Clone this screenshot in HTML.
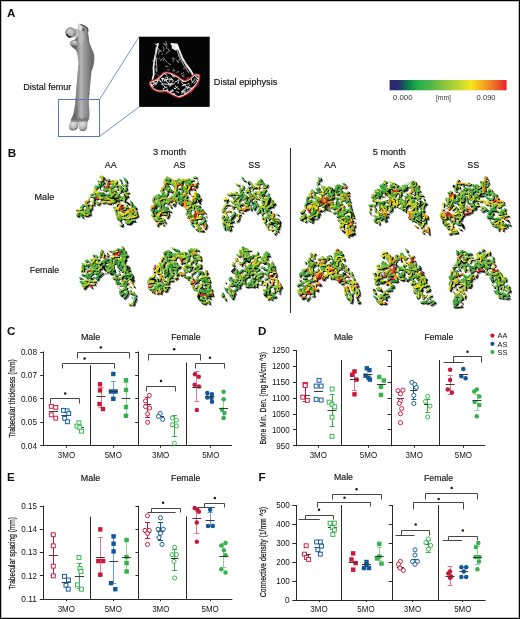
<!DOCTYPE html>
<html><head><meta charset="utf-8"><style>
html,body{margin:0;padding:0;background:#fff;}
body{width:520px;height:619px;overflow:hidden;position:relative;}
#frame{position:absolute;left:0;top:0;width:520px;height:619px;box-sizing:border-box;border:1px solid #000;box-shadow:inset 0 0 0 1px #c4c4c4;}
svg{position:absolute;left:0;top:0;font-family:'Liberation Sans', sans-serif;will-change:transform;}
</style></head><body>
<svg width="520" height="619" viewBox="0 0 520 619">
<defs>
<linearGradient id="cbar" x1="0" x2="1" y1="0" y2="0">
<stop offset="0" stop-color="#2c2a70"/><stop offset="0.07" stop-color="#2c2a70"/>
<stop offset="0.12" stop-color="#155a5a"/><stop offset="0.18" stop-color="#0f8a45"/>
<stop offset="0.24" stop-color="#25ae4a"/><stop offset="0.35" stop-color="#4db848"/>
<stop offset="0.47" stop-color="#8cc63f"/><stop offset="0.60" stop-color="#c4d633"/>
<stop offset="0.695" stop-color="#f7e91b"/><stop offset="0.80" stop-color="#f6a623"/>
<stop offset="0.90" stop-color="#ef6b26"/><stop offset="1" stop-color="#e8222a"/>
</linearGradient>
<linearGradient id="fg" gradientUnits="userSpaceOnUse" x1="76" x2="91" y1="0" y2="0">
<stop offset="0" stop-color="#666"/><stop offset="0.18" stop-color="#9c9c9c"/><stop offset="0.35" stop-color="#b6b6b6"/><stop offset="0.55" stop-color="#9a9a9a"/><stop offset="0.8" stop-color="#858585"/><stop offset="1" stop-color="#6e6e6e"/></linearGradient>
<radialGradient id="hg" cx="0.45" cy="0.35" r="0.7"><stop offset="0" stop-color="#d0d0d0"/><stop offset="0.7" stop-color="#a8a8a8"/><stop offset="1" stop-color="#6a6a6a"/></radialGradient>
<radialGradient id="cg" cx="0.45" cy="0.35" r="0.75"><stop offset="0" stop-color="#e4e4e4"/><stop offset="0.6" stop-color="#b4b4b4"/><stop offset="1" stop-color="#2e2e2e"/></radialGradient>
<filter id="wsh" x="-5%" y="-5%" width="110%" height="110%">
<feMorphology in="SourceAlpha" operator="dilate" radius="0.3" result="d"/><feOffset in="d" dx="0.8" dy="0.9" result="o"/>
<feFlood flood-color="#000" flood-opacity="0.95"/><feComposite in2="o" operator="in" result="s"/>
<feMerge><feMergeNode in="s"/><feMergeNode in="SourceGraphic"/></feMerge></filter>
<filter id="wsh2" x="-5%" y="-5%" width="110%" height="110%">
<feOffset in="SourceAlpha" dx="0.6" dy="0.7" result="o"/>
<feFlood flood-color="#000" flood-opacity="0.55"/><feComposite in2="o" operator="in" result="s"/>
<feMerge><feMergeNode in="s"/><feMergeNode in="SourceGraphic"/></feMerge></filter>
<mask id="hm0" maskUnits="userSpaceOnUse" x="69" y="168" width="75" height="66"><rect x="69" y="168" width="75" height="66" fill="#fff"/><ellipse cx="124.6" cy="224.0" rx="1.6" ry="1.2" fill="#000"/><ellipse cx="122.2" cy="195.0" rx="1.9" ry="1.4" fill="#000"/><ellipse cx="101.0" cy="191.0" rx="2.0" ry="1.3" fill="#000"/><ellipse cx="103.9" cy="191.6" rx="1.1" ry="0.8" fill="#000"/><ellipse cx="130.1" cy="194.8" rx="2.0" ry="1.6" fill="#000"/><ellipse cx="97.3" cy="185.3" rx="1.1" ry="0.7" fill="#000"/><ellipse cx="122.8" cy="221.0" rx="2.0" ry="2.0" fill="#000"/><ellipse cx="129.6" cy="206.3" rx="1.5" ry="1.6" fill="#000"/><ellipse cx="110.1" cy="185.0" rx="1.6" ry="1.7" fill="#000"/><ellipse cx="122.0" cy="202.6" rx="1.8" ry="1.3" fill="#000"/><ellipse cx="117.5" cy="206.8" rx="1.1" ry="1.1" fill="#000"/><ellipse cx="127.3" cy="215.6" rx="1.3" ry="1.3" fill="#000"/><ellipse cx="98.6" cy="178.9" rx="2.0" ry="1.9" fill="#000"/><ellipse cx="92.7" cy="199.5" rx="1.2" ry="1.3" fill="#000"/><ellipse cx="100.7" cy="179.8" rx="1.5" ry="1.1" fill="#000"/><ellipse cx="93.4" cy="195.6" rx="1.3" ry="1.1" fill="#000"/><ellipse cx="111.7" cy="204.0" rx="1.0" ry="0.7" fill="#000"/><ellipse cx="105.7" cy="193.2" rx="1.5" ry="1.0" fill="#000"/><ellipse cx="127.1" cy="200.2" rx="1.8" ry="1.1" fill="#000"/><ellipse cx="121.4" cy="201.9" rx="1.6" ry="1.6" fill="#000"/><ellipse cx="120.4" cy="193.9" rx="1.4" ry="1.5" fill="#000"/><ellipse cx="119.9" cy="223.6" rx="1.5" ry="1.5" fill="#000"/><ellipse cx="114.3" cy="204.3" rx="1.7" ry="1.6" fill="#000"/><ellipse cx="98.0" cy="189.9" rx="1.9" ry="1.8" fill="#000"/><ellipse cx="98.8" cy="200.6" rx="2.0" ry="2.0" fill="#000"/><ellipse cx="90.3" cy="202.4" rx="2.0" ry="2.1" fill="#000"/><ellipse cx="106.5" cy="202.6" rx="1.5" ry="0.9" fill="#000"/><ellipse cx="117.9" cy="221.6" rx="2.0" ry="1.6" fill="#000"/><ellipse cx="129.5" cy="194.8" rx="1.4" ry="1.1" fill="#000"/><ellipse cx="119.0" cy="182.3" rx="2.0" ry="1.8" fill="#000"/><ellipse cx="122.4" cy="216.9" rx="1.2" ry="0.8" fill="#000"/><ellipse cx="79.4" cy="209.3" rx="1.3" ry="1.1" fill="#000"/><ellipse cx="101.9" cy="188.1" rx="2.0" ry="1.8" fill="#000"/><ellipse cx="125.7" cy="219.9" rx="1.1" ry="0.7" fill="#000"/><ellipse cx="115.0" cy="188.1" rx="1.9" ry="1.8" fill="#000"/><ellipse cx="122.5" cy="192.8" rx="1.6" ry="1.1" fill="#000"/><ellipse cx="107.6" cy="192.0" rx="2.1" ry="1.8" fill="#000"/><ellipse cx="122.7" cy="213.0" rx="1.4" ry="0.8" fill="#000"/><ellipse cx="90.5" cy="198.6" rx="2.0" ry="1.9" fill="#000"/><ellipse cx="84.3" cy="207.6" rx="1.8" ry="1.9" fill="#000"/></mask>
<mask id="hm1" maskUnits="userSpaceOnUse" x="143" y="167" width="70" height="71"><rect x="143" y="167" width="70" height="71" fill="#fff"/><ellipse cx="185.9" cy="210.1" rx="1.3" ry="1.3" fill="#000"/><ellipse cx="169.4" cy="195.5" rx="1.8" ry="1.4" fill="#000"/><ellipse cx="192.4" cy="187.2" rx="1.5" ry="1.4" fill="#000"/><ellipse cx="172.6" cy="195.2" rx="1.1" ry="0.7" fill="#000"/><ellipse cx="157.5" cy="207.0" rx="1.1" ry="1.0" fill="#000"/><ellipse cx="159.3" cy="219.2" rx="1.0" ry="1.0" fill="#000"/><ellipse cx="202.0" cy="227.7" rx="1.5" ry="1.5" fill="#000"/><ellipse cx="204.3" cy="215.1" rx="2.1" ry="1.9" fill="#000"/><ellipse cx="198.3" cy="221.9" rx="1.4" ry="1.4" fill="#000"/><ellipse cx="195.4" cy="227.3" rx="1.5" ry="1.4" fill="#000"/><ellipse cx="165.5" cy="192.3" rx="1.7" ry="1.5" fill="#000"/><ellipse cx="179.0" cy="186.2" rx="1.8" ry="1.7" fill="#000"/><ellipse cx="173.3" cy="202.3" rx="1.8" ry="1.2" fill="#000"/><ellipse cx="193.3" cy="221.4" rx="1.2" ry="0.8" fill="#000"/><ellipse cx="192.2" cy="211.7" rx="1.9" ry="2.1" fill="#000"/><ellipse cx="190.2" cy="226.4" rx="1.2" ry="1.0" fill="#000"/><ellipse cx="199.5" cy="214.8" rx="1.7" ry="1.4" fill="#000"/><ellipse cx="163.8" cy="223.2" rx="1.1" ry="1.1" fill="#000"/><ellipse cx="196.7" cy="227.5" rx="1.0" ry="0.9" fill="#000"/><ellipse cx="190.6" cy="197.7" rx="2.0" ry="1.9" fill="#000"/><ellipse cx="168.1" cy="196.5" rx="1.8" ry="1.2" fill="#000"/><ellipse cx="182.8" cy="193.2" rx="1.6" ry="1.1" fill="#000"/><ellipse cx="155.6" cy="200.1" rx="1.3" ry="1.1" fill="#000"/><ellipse cx="189.2" cy="219.0" rx="1.2" ry="1.2" fill="#000"/><ellipse cx="192.6" cy="213.8" rx="1.6" ry="1.1" fill="#000"/><ellipse cx="198.1" cy="222.6" rx="1.1" ry="1.1" fill="#000"/><ellipse cx="188.9" cy="195.2" rx="1.5" ry="1.4" fill="#000"/><ellipse cx="195.1" cy="179.4" rx="1.4" ry="1.5" fill="#000"/><ellipse cx="188.2" cy="200.5" rx="1.0" ry="1.0" fill="#000"/><ellipse cx="170.0" cy="202.9" rx="1.3" ry="0.9" fill="#000"/><ellipse cx="195.7" cy="180.9" rx="1.9" ry="1.8" fill="#000"/><ellipse cx="185.8" cy="200.9" rx="1.3" ry="0.8" fill="#000"/><ellipse cx="165.6" cy="204.9" rx="1.9" ry="2.0" fill="#000"/><ellipse cx="193.6" cy="210.1" rx="1.3" ry="0.8" fill="#000"/><ellipse cx="193.2" cy="182.2" rx="1.8" ry="1.4" fill="#000"/><ellipse cx="187.2" cy="193.4" rx="1.1" ry="1.0" fill="#000"/><ellipse cx="186.5" cy="215.3" rx="1.4" ry="1.5" fill="#000"/><ellipse cx="169.0" cy="184.5" rx="1.1" ry="0.8" fill="#000"/><ellipse cx="162.7" cy="184.6" rx="1.3" ry="1.0" fill="#000"/><ellipse cx="198.9" cy="220.2" rx="2.0" ry="1.3" fill="#000"/></mask>
<mask id="hm2" maskUnits="userSpaceOnUse" x="212" y="168" width="74" height="73"><rect x="212" y="168" width="74" height="73" fill="#fff"/><ellipse cx="250.0" cy="185.7" rx="1.4" ry="1.4" fill="#000"/><ellipse cx="261.2" cy="185.8" rx="2.0" ry="2.0" fill="#000"/><ellipse cx="222.8" cy="213.0" rx="1.4" ry="0.9" fill="#000"/><ellipse cx="239.1" cy="213.0" rx="1.1" ry="0.9" fill="#000"/><ellipse cx="260.7" cy="189.5" rx="2.0" ry="1.7" fill="#000"/><ellipse cx="224.5" cy="211.2" rx="1.2" ry="1.0" fill="#000"/><ellipse cx="272.9" cy="209.9" rx="1.5" ry="1.0" fill="#000"/><ellipse cx="276.3" cy="219.2" rx="1.2" ry="0.7" fill="#000"/><ellipse cx="251.5" cy="191.7" rx="1.6" ry="1.7" fill="#000"/><ellipse cx="235.1" cy="220.9" rx="1.5" ry="1.4" fill="#000"/><ellipse cx="237.9" cy="181.8" rx="1.2" ry="1.2" fill="#000"/><ellipse cx="241.2" cy="210.8" rx="1.5" ry="1.0" fill="#000"/><ellipse cx="254.1" cy="190.0" rx="1.8" ry="1.5" fill="#000"/><ellipse cx="269.6" cy="230.9" rx="1.4" ry="1.2" fill="#000"/><ellipse cx="266.2" cy="193.4" rx="1.7" ry="1.6" fill="#000"/><ellipse cx="270.8" cy="219.9" rx="1.5" ry="1.3" fill="#000"/><ellipse cx="264.8" cy="214.9" rx="2.0" ry="2.1" fill="#000"/><ellipse cx="221.2" cy="201.5" rx="1.8" ry="1.8" fill="#000"/><ellipse cx="229.5" cy="196.1" rx="1.2" ry="0.8" fill="#000"/><ellipse cx="230.2" cy="207.4" rx="1.9" ry="2.0" fill="#000"/><ellipse cx="274.0" cy="231.4" rx="1.6" ry="1.6" fill="#000"/><ellipse cx="236.6" cy="213.1" rx="1.9" ry="1.4" fill="#000"/><ellipse cx="245.3" cy="188.9" rx="1.5" ry="1.0" fill="#000"/><ellipse cx="267.1" cy="224.4" rx="1.1" ry="0.9" fill="#000"/><ellipse cx="269.9" cy="227.4" rx="1.8" ry="1.7" fill="#000"/><ellipse cx="244.1" cy="190.5" rx="1.5" ry="0.9" fill="#000"/><ellipse cx="227.5" cy="212.7" rx="1.3" ry="0.9" fill="#000"/><ellipse cx="276.1" cy="215.5" rx="1.5" ry="1.3" fill="#000"/><ellipse cx="244.5" cy="192.0" rx="1.2" ry="1.2" fill="#000"/><ellipse cx="251.9" cy="205.9" rx="1.5" ry="1.6" fill="#000"/><ellipse cx="233.8" cy="210.1" rx="2.1" ry="1.6" fill="#000"/><ellipse cx="240.9" cy="184.5" rx="1.5" ry="1.4" fill="#000"/><ellipse cx="253.4" cy="200.1" rx="1.5" ry="1.5" fill="#000"/><ellipse cx="259.1" cy="214.1" rx="1.5" ry="1.7" fill="#000"/><ellipse cx="240.3" cy="180.8" rx="2.0" ry="2.1" fill="#000"/><ellipse cx="250.1" cy="203.3" rx="1.4" ry="1.1" fill="#000"/><ellipse cx="244.3" cy="199.5" rx="1.3" ry="1.0" fill="#000"/><ellipse cx="259.8" cy="204.1" rx="1.9" ry="1.7" fill="#000"/><ellipse cx="226.7" cy="209.5" rx="1.8" ry="1.7" fill="#000"/><ellipse cx="235.2" cy="207.7" rx="1.3" ry="0.9" fill="#000"/><ellipse cx="229.4" cy="198.7" rx="1.2" ry="0.8" fill="#000"/><ellipse cx="229.5" cy="217.4" rx="1.5" ry="1.7" fill="#000"/><ellipse cx="236.2" cy="196.1" rx="1.5" ry="1.3" fill="#000"/><ellipse cx="267.2" cy="222.3" rx="1.6" ry="1.2" fill="#000"/><ellipse cx="255.7" cy="185.5" rx="2.0" ry="1.3" fill="#000"/></mask>
<mask id="hm3" maskUnits="userSpaceOnUse" x="72" y="238" width="71" height="74"><rect x="72" y="238" width="71" height="74" fill="#fff"/><ellipse cx="89.5" cy="266.3" rx="1.2" ry="0.9" fill="#000"/><ellipse cx="123.6" cy="286.2" rx="1.0" ry="0.6" fill="#000"/><ellipse cx="115.6" cy="267.4" rx="1.8" ry="1.6" fill="#000"/><ellipse cx="92.3" cy="276.3" rx="1.5" ry="1.5" fill="#000"/><ellipse cx="127.2" cy="286.0" rx="1.5" ry="1.1" fill="#000"/><ellipse cx="121.0" cy="273.7" rx="1.2" ry="0.9" fill="#000"/><ellipse cx="129.0" cy="288.2" rx="1.8" ry="1.9" fill="#000"/><ellipse cx="110.9" cy="255.6" rx="2.0" ry="1.7" fill="#000"/><ellipse cx="128.4" cy="281.4" rx="1.6" ry="1.4" fill="#000"/><ellipse cx="86.7" cy="279.3" rx="1.2" ry="0.8" fill="#000"/><ellipse cx="116.8" cy="270.1" rx="1.3" ry="1.3" fill="#000"/><ellipse cx="119.9" cy="286.9" rx="2.0" ry="1.5" fill="#000"/><ellipse cx="97.2" cy="249.8" rx="1.6" ry="1.6" fill="#000"/><ellipse cx="95.9" cy="260.8" rx="1.2" ry="1.0" fill="#000"/><ellipse cx="117.0" cy="269.4" rx="2.0" ry="1.7" fill="#000"/><ellipse cx="131.7" cy="284.6" rx="1.2" ry="1.2" fill="#000"/><ellipse cx="111.4" cy="253.2" rx="1.3" ry="1.0" fill="#000"/><ellipse cx="102.3" cy="259.7" rx="1.1" ry="0.8" fill="#000"/><ellipse cx="126.6" cy="273.5" rx="1.4" ry="1.0" fill="#000"/><ellipse cx="117.9" cy="253.0" rx="1.1" ry="1.1" fill="#000"/><ellipse cx="87.4" cy="268.9" rx="1.3" ry="1.4" fill="#000"/><ellipse cx="116.0" cy="261.2" rx="1.0" ry="0.7" fill="#000"/><ellipse cx="115.2" cy="265.4" rx="1.7" ry="1.4" fill="#000"/><ellipse cx="105.6" cy="272.4" rx="1.4" ry="1.1" fill="#000"/><ellipse cx="88.1" cy="262.7" rx="1.9" ry="1.3" fill="#000"/><ellipse cx="91.0" cy="282.9" rx="1.8" ry="1.1" fill="#000"/><ellipse cx="119.4" cy="276.0" rx="2.0" ry="1.2" fill="#000"/><ellipse cx="82.2" cy="276.9" rx="1.4" ry="1.2" fill="#000"/><ellipse cx="97.9" cy="257.6" rx="1.3" ry="1.2" fill="#000"/><ellipse cx="99.0" cy="261.3" rx="1.1" ry="0.7" fill="#000"/><ellipse cx="120.0" cy="280.0" rx="1.5" ry="1.3" fill="#000"/><ellipse cx="94.3" cy="274.9" rx="1.9" ry="1.3" fill="#000"/><ellipse cx="100.1" cy="272.4" rx="1.0" ry="1.0" fill="#000"/><ellipse cx="133.0" cy="297.6" rx="1.6" ry="1.1" fill="#000"/><ellipse cx="129.1" cy="289.2" rx="1.8" ry="1.3" fill="#000"/><ellipse cx="121.5" cy="287.0" rx="2.0" ry="1.6" fill="#000"/><ellipse cx="117.2" cy="272.8" rx="1.8" ry="1.6" fill="#000"/><ellipse cx="101.1" cy="259.1" rx="2.0" ry="2.0" fill="#000"/><ellipse cx="107.7" cy="258.1" rx="1.7" ry="1.1" fill="#000"/><ellipse cx="109.4" cy="253.1" rx="1.8" ry="1.3" fill="#000"/><ellipse cx="124.3" cy="290.6" rx="1.7" ry="1.1" fill="#000"/><ellipse cx="117.3" cy="285.1" rx="1.8" ry="1.1" fill="#000"/><ellipse cx="110.0" cy="258.0" rx="1.0" ry="1.1" fill="#000"/><ellipse cx="88.8" cy="272.3" rx="1.7" ry="1.2" fill="#000"/><ellipse cx="95.8" cy="253.2" rx="2.0" ry="1.9" fill="#000"/></mask>
<mask id="hm4" maskUnits="userSpaceOnUse" x="140" y="240" width="79" height="70"><rect x="140" y="240" width="79" height="70" fill="#fff"/><ellipse cx="199.3" cy="288.8" rx="1.2" ry="0.8" fill="#000"/><ellipse cx="195.5" cy="285.3" rx="1.7" ry="1.8" fill="#000"/><ellipse cx="182.9" cy="264.2" rx="1.4" ry="0.8" fill="#000"/><ellipse cx="199.3" cy="270.0" rx="1.6" ry="1.1" fill="#000"/><ellipse cx="152.0" cy="287.4" rx="1.8" ry="1.2" fill="#000"/><ellipse cx="190.8" cy="256.8" rx="1.2" ry="1.3" fill="#000"/><ellipse cx="154.6" cy="269.7" rx="1.2" ry="1.2" fill="#000"/><ellipse cx="191.2" cy="271.8" rx="1.7" ry="1.3" fill="#000"/><ellipse cx="203.9" cy="286.6" rx="1.5" ry="1.4" fill="#000"/><ellipse cx="186.9" cy="274.1" rx="2.1" ry="2.1" fill="#000"/><ellipse cx="174.1" cy="276.5" rx="1.7" ry="1.4" fill="#000"/><ellipse cx="166.3" cy="277.0" rx="1.1" ry="0.9" fill="#000"/><ellipse cx="200.3" cy="275.8" rx="1.5" ry="1.6" fill="#000"/><ellipse cx="188.7" cy="268.7" rx="1.2" ry="1.3" fill="#000"/><ellipse cx="191.1" cy="258.8" rx="1.9" ry="2.0" fill="#000"/><ellipse cx="163.8" cy="282.1" rx="1.2" ry="0.9" fill="#000"/><ellipse cx="154.2" cy="284.5" rx="1.8" ry="1.3" fill="#000"/><ellipse cx="162.5" cy="274.5" rx="1.0" ry="0.9" fill="#000"/><ellipse cx="197.2" cy="263.8" rx="1.5" ry="1.1" fill="#000"/><ellipse cx="149.2" cy="284.7" rx="1.3" ry="1.0" fill="#000"/><ellipse cx="200.2" cy="281.5" rx="1.7" ry="1.7" fill="#000"/><ellipse cx="199.1" cy="276.6" rx="1.6" ry="1.6" fill="#000"/><ellipse cx="198.5" cy="261.9" rx="2.0" ry="1.8" fill="#000"/><ellipse cx="178.7" cy="270.8" rx="1.1" ry="1.1" fill="#000"/><ellipse cx="172.6" cy="261.5" rx="1.2" ry="1.2" fill="#000"/><ellipse cx="162.0" cy="273.5" rx="1.1" ry="1.1" fill="#000"/><ellipse cx="189.2" cy="273.9" rx="2.1" ry="2.2" fill="#000"/><ellipse cx="155.5" cy="277.6" rx="1.5" ry="1.3" fill="#000"/><ellipse cx="185.2" cy="260.7" rx="1.2" ry="1.1" fill="#000"/><ellipse cx="185.0" cy="270.5" rx="1.2" ry="1.0" fill="#000"/><ellipse cx="197.0" cy="272.2" rx="1.4" ry="0.9" fill="#000"/><ellipse cx="201.6" cy="262.9" rx="2.0" ry="1.4" fill="#000"/><ellipse cx="155.7" cy="292.0" rx="1.5" ry="1.6" fill="#000"/><ellipse cx="194.5" cy="276.8" rx="1.4" ry="1.0" fill="#000"/><ellipse cx="177.8" cy="259.7" rx="2.1" ry="2.1" fill="#000"/><ellipse cx="204.7" cy="266.8" rx="1.5" ry="0.9" fill="#000"/><ellipse cx="186.6" cy="254.9" rx="1.2" ry="1.3" fill="#000"/><ellipse cx="187.2" cy="272.2" rx="1.0" ry="0.9" fill="#000"/><ellipse cx="188.6" cy="262.5" rx="1.9" ry="1.5" fill="#000"/><ellipse cx="174.8" cy="274.8" rx="1.4" ry="1.1" fill="#000"/></mask>
<mask id="hm5" maskUnits="userSpaceOnUse" x="213" y="238" width="75" height="71"><rect x="213" y="238" width="75" height="71" fill="#fff"/><ellipse cx="230.0" cy="292.4" rx="1.3" ry="1.2" fill="#000"/><ellipse cx="238.5" cy="289.7" rx="1.7" ry="1.1" fill="#000"/><ellipse cx="277.9" cy="292.3" rx="1.4" ry="1.3" fill="#000"/><ellipse cx="263.8" cy="287.0" rx="1.9" ry="2.1" fill="#000"/><ellipse cx="233.7" cy="287.9" rx="1.8" ry="2.0" fill="#000"/><ellipse cx="271.8" cy="288.7" rx="2.1" ry="2.0" fill="#000"/><ellipse cx="269.8" cy="263.0" rx="1.3" ry="0.9" fill="#000"/><ellipse cx="225.4" cy="286.1" rx="2.1" ry="2.1" fill="#000"/><ellipse cx="244.9" cy="266.4" rx="1.0" ry="0.7" fill="#000"/><ellipse cx="261.2" cy="268.9" rx="2.1" ry="1.2" fill="#000"/><ellipse cx="272.6" cy="290.7" rx="1.7" ry="1.5" fill="#000"/><ellipse cx="251.0" cy="252.0" rx="1.5" ry="1.0" fill="#000"/><ellipse cx="261.1" cy="264.5" rx="2.1" ry="2.2" fill="#000"/><ellipse cx="254.0" cy="253.6" rx="1.5" ry="1.5" fill="#000"/><ellipse cx="270.8" cy="261.1" rx="1.8" ry="1.1" fill="#000"/><ellipse cx="249.9" cy="252.5" rx="1.6" ry="1.1" fill="#000"/><ellipse cx="227.7" cy="296.3" rx="1.8" ry="1.5" fill="#000"/><ellipse cx="250.6" cy="253.1" rx="1.5" ry="1.5" fill="#000"/><ellipse cx="259.1" cy="266.5" rx="1.8" ry="1.5" fill="#000"/><ellipse cx="274.6" cy="280.5" rx="1.1" ry="0.9" fill="#000"/><ellipse cx="256.3" cy="282.0" rx="1.2" ry="1.0" fill="#000"/><ellipse cx="252.1" cy="263.0" rx="1.3" ry="1.1" fill="#000"/><ellipse cx="227.1" cy="284.5" rx="2.0" ry="2.1" fill="#000"/><ellipse cx="264.8" cy="288.2" rx="1.4" ry="1.0" fill="#000"/><ellipse cx="251.5" cy="259.9" rx="1.7" ry="1.7" fill="#000"/><ellipse cx="265.7" cy="276.0" rx="1.5" ry="1.0" fill="#000"/><ellipse cx="269.9" cy="273.4" rx="1.8" ry="1.4" fill="#000"/><ellipse cx="236.0" cy="283.7" rx="1.1" ry="1.1" fill="#000"/><ellipse cx="236.5" cy="263.7" rx="2.1" ry="2.1" fill="#000"/><ellipse cx="271.5" cy="273.2" rx="1.5" ry="1.4" fill="#000"/><ellipse cx="236.4" cy="262.7" rx="2.1" ry="2.3" fill="#000"/><ellipse cx="275.3" cy="283.1" rx="1.9" ry="1.9" fill="#000"/><ellipse cx="243.0" cy="284.9" rx="1.3" ry="1.1" fill="#000"/><ellipse cx="250.6" cy="253.9" rx="1.8" ry="1.8" fill="#000"/><ellipse cx="258.8" cy="258.8" rx="2.0" ry="1.7" fill="#000"/><ellipse cx="265.7" cy="280.6" rx="1.5" ry="1.2" fill="#000"/><ellipse cx="248.4" cy="279.0" rx="1.6" ry="1.1" fill="#000"/><ellipse cx="243.2" cy="268.0" rx="1.3" ry="1.4" fill="#000"/><ellipse cx="266.2" cy="275.8" rx="1.0" ry="1.1" fill="#000"/><ellipse cx="260.4" cy="283.2" rx="1.2" ry="0.8" fill="#000"/><ellipse cx="264.0" cy="271.6" rx="1.3" ry="1.2" fill="#000"/><ellipse cx="259.4" cy="282.7" rx="1.8" ry="1.9" fill="#000"/><ellipse cx="236.1" cy="265.0" rx="1.5" ry="1.2" fill="#000"/><ellipse cx="260.3" cy="252.9" rx="1.9" ry="2.1" fill="#000"/><ellipse cx="258.0" cy="272.3" rx="1.9" ry="1.3" fill="#000"/></mask>
<mask id="hm6" maskUnits="userSpaceOnUse" x="292" y="169" width="70" height="75"><rect x="292" y="169" width="70" height="75" fill="#fff"/><ellipse cx="341.1" cy="205.7" rx="1.4" ry="1.1" fill="#000"/><ellipse cx="314.9" cy="190.7" rx="1.6" ry="1.5" fill="#000"/><ellipse cx="343.2" cy="201.9" rx="2.1" ry="1.4" fill="#000"/><ellipse cx="354.0" cy="223.9" rx="1.9" ry="1.3" fill="#000"/><ellipse cx="346.4" cy="221.3" rx="1.0" ry="0.9" fill="#000"/><ellipse cx="344.0" cy="204.0" rx="2.0" ry="1.3" fill="#000"/><ellipse cx="341.7" cy="228.0" rx="1.6" ry="1.5" fill="#000"/><ellipse cx="319.5" cy="207.0" rx="1.8" ry="1.3" fill="#000"/><ellipse cx="327.1" cy="193.8" rx="1.4" ry="1.3" fill="#000"/><ellipse cx="336.1" cy="214.6" rx="1.5" ry="1.4" fill="#000"/><ellipse cx="330.1" cy="196.8" rx="1.0" ry="1.1" fill="#000"/><ellipse cx="308.3" cy="214.0" rx="2.0" ry="1.5" fill="#000"/><ellipse cx="333.3" cy="186.8" rx="1.8" ry="1.6" fill="#000"/><ellipse cx="330.8" cy="209.2" rx="1.3" ry="1.4" fill="#000"/><ellipse cx="322.1" cy="208.2" rx="1.8" ry="1.7" fill="#000"/><ellipse cx="315.3" cy="217.4" rx="1.5" ry="0.9" fill="#000"/><ellipse cx="347.6" cy="213.4" rx="1.6" ry="1.7" fill="#000"/><ellipse cx="311.2" cy="202.8" rx="1.3" ry="1.0" fill="#000"/><ellipse cx="353.3" cy="219.2" rx="1.4" ry="1.1" fill="#000"/><ellipse cx="345.4" cy="191.1" rx="2.0" ry="1.5" fill="#000"/><ellipse cx="320.3" cy="186.4" rx="1.1" ry="0.9" fill="#000"/><ellipse cx="319.1" cy="185.8" rx="2.1" ry="2.0" fill="#000"/><ellipse cx="304.6" cy="197.9" rx="2.1" ry="1.5" fill="#000"/><ellipse cx="345.5" cy="214.5" rx="1.7" ry="1.4" fill="#000"/><ellipse cx="347.5" cy="207.6" rx="1.6" ry="1.7" fill="#000"/><ellipse cx="342.5" cy="184.5" rx="1.3" ry="1.0" fill="#000"/><ellipse cx="339.2" cy="191.7" rx="1.3" ry="1.1" fill="#000"/><ellipse cx="318.8" cy="195.4" rx="2.0" ry="1.7" fill="#000"/><ellipse cx="307.1" cy="214.2" rx="1.4" ry="1.4" fill="#000"/><ellipse cx="312.6" cy="193.8" rx="1.7" ry="1.5" fill="#000"/><ellipse cx="347.1" cy="228.8" rx="1.2" ry="0.9" fill="#000"/><ellipse cx="316.7" cy="194.0" rx="1.8" ry="1.3" fill="#000"/><ellipse cx="335.9" cy="209.6" rx="1.9" ry="1.2" fill="#000"/><ellipse cx="334.4" cy="200.4" rx="1.9" ry="1.7" fill="#000"/><ellipse cx="339.1" cy="200.0" rx="1.6" ry="1.7" fill="#000"/><ellipse cx="343.1" cy="189.5" rx="1.8" ry="1.8" fill="#000"/><ellipse cx="345.4" cy="224.7" rx="1.2" ry="1.0" fill="#000"/><ellipse cx="334.0" cy="202.8" rx="1.6" ry="1.3" fill="#000"/><ellipse cx="306.1" cy="211.5" rx="2.0" ry="2.0" fill="#000"/><ellipse cx="310.3" cy="198.6" rx="2.0" ry="1.4" fill="#000"/></mask>
<mask id="hm7" maskUnits="userSpaceOnUse" x="361" y="171" width="75" height="71"><rect x="361" y="171" width="75" height="71" fill="#fff"/><ellipse cx="383.4" cy="198.4" rx="2.0" ry="1.9" fill="#000"/><ellipse cx="421.7" cy="198.9" rx="1.8" ry="1.9" fill="#000"/><ellipse cx="422.7" cy="231.4" rx="1.2" ry="0.8" fill="#000"/><ellipse cx="423.3" cy="201.0" rx="1.3" ry="1.2" fill="#000"/><ellipse cx="388.4" cy="198.5" rx="1.4" ry="1.0" fill="#000"/><ellipse cx="418.5" cy="216.1" rx="1.1" ry="0.8" fill="#000"/><ellipse cx="370.5" cy="202.7" rx="1.7" ry="1.5" fill="#000"/><ellipse cx="380.7" cy="211.8" rx="1.8" ry="1.1" fill="#000"/><ellipse cx="377.8" cy="199.6" rx="1.4" ry="1.3" fill="#000"/><ellipse cx="403.9" cy="198.7" rx="1.7" ry="1.4" fill="#000"/><ellipse cx="385.4" cy="203.5" rx="1.2" ry="1.3" fill="#000"/><ellipse cx="387.3" cy="204.1" rx="1.5" ry="1.3" fill="#000"/><ellipse cx="407.5" cy="192.5" rx="1.0" ry="0.9" fill="#000"/><ellipse cx="398.2" cy="193.9" rx="1.1" ry="0.8" fill="#000"/><ellipse cx="397.6" cy="195.7" rx="1.7" ry="1.6" fill="#000"/><ellipse cx="387.9" cy="186.1" rx="1.9" ry="1.9" fill="#000"/><ellipse cx="387.4" cy="193.3" rx="1.0" ry="0.6" fill="#000"/><ellipse cx="383.9" cy="199.3" rx="1.8" ry="1.6" fill="#000"/><ellipse cx="388.7" cy="183.2" rx="2.0" ry="2.0" fill="#000"/><ellipse cx="376.2" cy="198.9" rx="1.1" ry="0.9" fill="#000"/><ellipse cx="386.6" cy="183.5" rx="1.0" ry="0.8" fill="#000"/><ellipse cx="412.9" cy="195.8" rx="1.1" ry="1.1" fill="#000"/><ellipse cx="413.2" cy="192.6" rx="1.5" ry="1.3" fill="#000"/><ellipse cx="372.4" cy="213.4" rx="2.0" ry="1.9" fill="#000"/><ellipse cx="412.6" cy="222.7" rx="2.0" ry="1.6" fill="#000"/><ellipse cx="382.2" cy="222.3" rx="1.9" ry="1.2" fill="#000"/><ellipse cx="421.0" cy="228.9" rx="1.4" ry="1.1" fill="#000"/><ellipse cx="386.6" cy="198.2" rx="1.9" ry="2.1" fill="#000"/><ellipse cx="404.0" cy="208.0" rx="1.7" ry="1.1" fill="#000"/><ellipse cx="419.2" cy="226.8" rx="1.0" ry="0.7" fill="#000"/><ellipse cx="407.2" cy="194.6" rx="1.3" ry="0.9" fill="#000"/><ellipse cx="402.3" cy="196.9" rx="1.8" ry="1.4" fill="#000"/><ellipse cx="419.0" cy="209.9" rx="1.8" ry="1.5" fill="#000"/><ellipse cx="408.6" cy="184.9" rx="2.0" ry="1.8" fill="#000"/><ellipse cx="371.4" cy="199.3" rx="1.2" ry="1.3" fill="#000"/><ellipse cx="383.0" cy="194.2" rx="1.4" ry="1.5" fill="#000"/><ellipse cx="399.3" cy="205.5" rx="1.7" ry="1.5" fill="#000"/><ellipse cx="410.2" cy="209.6" rx="1.9" ry="1.5" fill="#000"/><ellipse cx="385.5" cy="195.9" rx="1.4" ry="1.0" fill="#000"/><ellipse cx="396.9" cy="196.9" rx="1.8" ry="1.5" fill="#000"/></mask>
<mask id="hm8" maskUnits="userSpaceOnUse" x="433" y="169" width="84" height="71"><rect x="433" y="169" width="84" height="71" fill="#fff"/><ellipse cx="484.2" cy="197.8" rx="2.0" ry="1.8" fill="#000"/><ellipse cx="490.8" cy="196.6" rx="1.6" ry="1.7" fill="#000"/><ellipse cx="489.8" cy="186.5" rx="2.0" ry="2.0" fill="#000"/><ellipse cx="442.4" cy="213.5" rx="1.2" ry="1.2" fill="#000"/><ellipse cx="478.5" cy="207.4" rx="1.3" ry="1.0" fill="#000"/><ellipse cx="486.7" cy="179.9" rx="1.3" ry="1.1" fill="#000"/><ellipse cx="447.4" cy="196.5" rx="2.0" ry="1.3" fill="#000"/><ellipse cx="493.8" cy="227.7" rx="1.6" ry="1.2" fill="#000"/><ellipse cx="450.1" cy="226.4" rx="1.2" ry="0.8" fill="#000"/><ellipse cx="502.3" cy="207.9" rx="1.8" ry="1.7" fill="#000"/><ellipse cx="448.0" cy="204.7" rx="1.1" ry="1.0" fill="#000"/><ellipse cx="479.6" cy="207.9" rx="2.0" ry="1.5" fill="#000"/><ellipse cx="456.8" cy="193.3" rx="1.7" ry="1.4" fill="#000"/><ellipse cx="454.7" cy="224.8" rx="1.8" ry="1.6" fill="#000"/><ellipse cx="451.6" cy="219.2" rx="1.7" ry="1.1" fill="#000"/><ellipse cx="469.9" cy="193.0" rx="1.3" ry="1.2" fill="#000"/><ellipse cx="491.6" cy="194.1" rx="1.5" ry="0.9" fill="#000"/><ellipse cx="448.7" cy="210.8" rx="1.1" ry="0.7" fill="#000"/><ellipse cx="493.5" cy="224.8" rx="1.4" ry="1.0" fill="#000"/><ellipse cx="455.1" cy="210.7" rx="1.5" ry="1.2" fill="#000"/><ellipse cx="463.9" cy="217.7" rx="1.2" ry="0.9" fill="#000"/><ellipse cx="486.3" cy="212.4" rx="1.0" ry="0.8" fill="#000"/><ellipse cx="462.0" cy="188.1" rx="1.8" ry="1.9" fill="#000"/><ellipse cx="445.9" cy="207.0" rx="2.0" ry="1.3" fill="#000"/><ellipse cx="507.5" cy="222.9" rx="1.6" ry="1.4" fill="#000"/><ellipse cx="503.3" cy="206.7" rx="2.1" ry="1.7" fill="#000"/><ellipse cx="465.6" cy="194.9" rx="1.5" ry="0.9" fill="#000"/><ellipse cx="471.4" cy="187.3" rx="2.1" ry="1.3" fill="#000"/><ellipse cx="489.6" cy="220.9" rx="1.2" ry="1.2" fill="#000"/><ellipse cx="481.0" cy="198.4" rx="1.6" ry="1.4" fill="#000"/><ellipse cx="494.6" cy="216.2" rx="2.0" ry="1.5" fill="#000"/><ellipse cx="450.7" cy="211.0" rx="1.8" ry="1.9" fill="#000"/><ellipse cx="456.4" cy="216.3" rx="1.2" ry="1.1" fill="#000"/><ellipse cx="500.6" cy="229.6" rx="1.1" ry="1.2" fill="#000"/><ellipse cx="498.2" cy="209.3" rx="1.8" ry="1.3" fill="#000"/><ellipse cx="465.3" cy="204.7" rx="1.4" ry="1.3" fill="#000"/><ellipse cx="460.7" cy="213.0" rx="1.6" ry="1.3" fill="#000"/><ellipse cx="450.5" cy="227.7" rx="1.1" ry="1.2" fill="#000"/><ellipse cx="468.5" cy="199.2" rx="1.0" ry="1.0" fill="#000"/><ellipse cx="467.7" cy="190.8" rx="1.4" ry="1.2" fill="#000"/></mask>
<mask id="hm9" maskUnits="userSpaceOnUse" x="290" y="241" width="79" height="70"><rect x="290" y="241" width="79" height="70" fill="#fff"/><ellipse cx="311.0" cy="257.7" rx="1.1" ry="1.0" fill="#000"/><ellipse cx="339.4" cy="265.5" rx="1.3" ry="1.4" fill="#000"/><ellipse cx="317.6" cy="260.8" rx="1.5" ry="1.1" fill="#000"/><ellipse cx="329.2" cy="275.8" rx="1.5" ry="1.3" fill="#000"/><ellipse cx="332.7" cy="257.8" rx="1.1" ry="0.7" fill="#000"/><ellipse cx="317.5" cy="286.9" rx="2.0" ry="1.6" fill="#000"/><ellipse cx="342.4" cy="268.3" rx="1.3" ry="0.9" fill="#000"/><ellipse cx="339.9" cy="272.5" rx="1.9" ry="1.8" fill="#000"/><ellipse cx="350.0" cy="278.4" rx="2.0" ry="1.3" fill="#000"/><ellipse cx="316.0" cy="269.1" rx="2.0" ry="1.9" fill="#000"/><ellipse cx="341.9" cy="271.2" rx="2.0" ry="1.8" fill="#000"/><ellipse cx="325.1" cy="256.7" rx="1.5" ry="1.5" fill="#000"/><ellipse cx="347.7" cy="294.6" rx="1.2" ry="0.8" fill="#000"/><ellipse cx="311.3" cy="295.2" rx="1.9" ry="1.2" fill="#000"/><ellipse cx="320.6" cy="279.6" rx="1.0" ry="1.1" fill="#000"/><ellipse cx="306.0" cy="265.7" rx="2.1" ry="2.2" fill="#000"/><ellipse cx="307.6" cy="295.8" rx="2.0" ry="2.2" fill="#000"/><ellipse cx="320.9" cy="260.6" rx="1.3" ry="1.5" fill="#000"/><ellipse cx="315.3" cy="268.3" rx="2.0" ry="1.5" fill="#000"/><ellipse cx="315.5" cy="258.7" rx="1.0" ry="1.1" fill="#000"/><ellipse cx="305.8" cy="273.2" rx="1.3" ry="1.2" fill="#000"/><ellipse cx="309.5" cy="277.5" rx="1.4" ry="1.1" fill="#000"/><ellipse cx="328.3" cy="262.1" rx="1.4" ry="1.1" fill="#000"/><ellipse cx="315.1" cy="260.7" rx="1.5" ry="1.7" fill="#000"/><ellipse cx="304.1" cy="277.3" rx="1.0" ry="1.0" fill="#000"/><ellipse cx="323.9" cy="271.7" rx="1.2" ry="1.0" fill="#000"/><ellipse cx="304.8" cy="283.5" rx="1.6" ry="1.6" fill="#000"/><ellipse cx="345.3" cy="270.1" rx="1.2" ry="0.8" fill="#000"/><ellipse cx="351.1" cy="292.2" rx="1.4" ry="1.2" fill="#000"/><ellipse cx="302.2" cy="280.2" rx="2.1" ry="1.3" fill="#000"/><ellipse cx="340.1" cy="271.4" rx="1.8" ry="1.8" fill="#000"/><ellipse cx="327.9" cy="262.3" rx="2.1" ry="2.3" fill="#000"/><ellipse cx="348.0" cy="296.3" rx="1.6" ry="1.5" fill="#000"/><ellipse cx="344.6" cy="266.5" rx="1.1" ry="0.9" fill="#000"/><ellipse cx="330.3" cy="260.4" rx="2.1" ry="1.6" fill="#000"/><ellipse cx="346.4" cy="278.6" rx="2.0" ry="1.8" fill="#000"/><ellipse cx="303.2" cy="295.3" rx="2.0" ry="1.3" fill="#000"/><ellipse cx="302.2" cy="276.7" rx="1.3" ry="1.4" fill="#000"/><ellipse cx="354.9" cy="285.0" rx="1.8" ry="1.5" fill="#000"/><ellipse cx="346.8" cy="285.0" rx="1.9" ry="1.3" fill="#000"/><ellipse cx="318.8" cy="256.9" rx="1.8" ry="1.7" fill="#000"/><ellipse cx="313.3" cy="259.7" rx="1.2" ry="0.9" fill="#000"/><ellipse cx="319.2" cy="265.3" rx="1.3" ry="1.0" fill="#000"/><ellipse cx="325.0" cy="272.7" rx="2.0" ry="2.1" fill="#000"/><ellipse cx="316.2" cy="272.7" rx="1.0" ry="1.0" fill="#000"/></mask>
<mask id="hm10" maskUnits="userSpaceOnUse" x="366" y="239" width="76" height="73"><rect x="366" y="239" width="76" height="73" fill="#fff"/><ellipse cx="414.9" cy="278.7" rx="1.8" ry="1.5" fill="#000"/><ellipse cx="425.4" cy="298.5" rx="1.7" ry="1.5" fill="#000"/><ellipse cx="383.3" cy="288.4" rx="2.0" ry="2.1" fill="#000"/><ellipse cx="398.9" cy="261.0" rx="1.9" ry="1.6" fill="#000"/><ellipse cx="379.4" cy="292.4" rx="1.9" ry="1.6" fill="#000"/><ellipse cx="420.7" cy="298.0" rx="1.7" ry="1.5" fill="#000"/><ellipse cx="407.2" cy="277.9" rx="1.5" ry="1.4" fill="#000"/><ellipse cx="384.7" cy="259.1" rx="1.2" ry="0.8" fill="#000"/><ellipse cx="418.9" cy="271.7" rx="1.0" ry="0.7" fill="#000"/><ellipse cx="404.6" cy="253.4" rx="2.0" ry="2.0" fill="#000"/><ellipse cx="423.4" cy="288.2" rx="1.2" ry="0.9" fill="#000"/><ellipse cx="407.0" cy="253.3" rx="1.6" ry="1.3" fill="#000"/><ellipse cx="408.1" cy="259.7" rx="1.9" ry="1.9" fill="#000"/><ellipse cx="417.7" cy="291.1" rx="1.4" ry="0.9" fill="#000"/><ellipse cx="404.8" cy="254.1" rx="1.1" ry="1.1" fill="#000"/><ellipse cx="385.5" cy="279.1" rx="1.8" ry="1.7" fill="#000"/><ellipse cx="375.5" cy="285.7" rx="1.2" ry="0.7" fill="#000"/><ellipse cx="427.3" cy="296.8" rx="1.3" ry="1.4" fill="#000"/><ellipse cx="391.6" cy="267.0" rx="1.6" ry="1.4" fill="#000"/><ellipse cx="413.6" cy="279.3" rx="1.3" ry="0.9" fill="#000"/><ellipse cx="402.3" cy="258.4" rx="1.4" ry="1.0" fill="#000"/><ellipse cx="377.3" cy="285.9" rx="1.1" ry="1.1" fill="#000"/><ellipse cx="379.8" cy="273.6" rx="1.1" ry="0.9" fill="#000"/><ellipse cx="409.8" cy="260.9" rx="1.1" ry="0.7" fill="#000"/><ellipse cx="407.4" cy="260.5" rx="1.5" ry="1.3" fill="#000"/><ellipse cx="415.0" cy="295.4" rx="1.3" ry="1.1" fill="#000"/><ellipse cx="382.1" cy="286.8" rx="1.7" ry="1.8" fill="#000"/><ellipse cx="400.3" cy="263.7" rx="1.3" ry="1.3" fill="#000"/><ellipse cx="416.3" cy="281.3" rx="1.7" ry="1.6" fill="#000"/><ellipse cx="411.9" cy="255.6" rx="1.2" ry="0.8" fill="#000"/><ellipse cx="430.4" cy="299.3" rx="1.1" ry="1.0" fill="#000"/><ellipse cx="417.6" cy="292.9" rx="1.1" ry="1.0" fill="#000"/><ellipse cx="419.9" cy="276.9" rx="1.1" ry="0.7" fill="#000"/><ellipse cx="427.1" cy="296.2" rx="1.4" ry="1.1" fill="#000"/><ellipse cx="379.7" cy="266.1" rx="1.2" ry="1.3" fill="#000"/><ellipse cx="394.8" cy="265.3" rx="1.3" ry="1.1" fill="#000"/><ellipse cx="397.6" cy="262.9" rx="1.8" ry="1.1" fill="#000"/><ellipse cx="406.7" cy="267.0" rx="1.8" ry="1.7" fill="#000"/><ellipse cx="409.1" cy="256.9" rx="1.3" ry="1.2" fill="#000"/><ellipse cx="414.5" cy="290.8" rx="1.1" ry="0.8" fill="#000"/><ellipse cx="384.9" cy="287.2" rx="2.0" ry="1.4" fill="#000"/><ellipse cx="383.6" cy="300.8" rx="1.7" ry="1.8" fill="#000"/><ellipse cx="380.2" cy="284.9" rx="1.8" ry="1.7" fill="#000"/><ellipse cx="400.0" cy="271.6" rx="1.9" ry="1.8" fill="#000"/><ellipse cx="382.2" cy="272.6" rx="1.9" ry="1.3" fill="#000"/></mask>
<mask id="hm11" maskUnits="userSpaceOnUse" x="442" y="239" width="74" height="74"><rect x="442" y="239" width="74" height="74" fill="#fff"/><ellipse cx="464.2" cy="290.8" rx="1.2" ry="0.9" fill="#000"/><ellipse cx="454.4" cy="294.4" rx="1.5" ry="0.9" fill="#000"/><ellipse cx="452.1" cy="298.7" rx="1.8" ry="2.0" fill="#000"/><ellipse cx="485.0" cy="269.6" rx="1.1" ry="0.7" fill="#000"/><ellipse cx="454.4" cy="263.8" rx="1.4" ry="1.0" fill="#000"/><ellipse cx="457.0" cy="268.0" rx="2.0" ry="1.3" fill="#000"/><ellipse cx="450.9" cy="292.9" rx="1.4" ry="0.9" fill="#000"/><ellipse cx="488.8" cy="257.0" rx="2.1" ry="1.8" fill="#000"/><ellipse cx="494.1" cy="279.0" rx="1.0" ry="0.9" fill="#000"/><ellipse cx="474.2" cy="258.2" rx="2.0" ry="1.2" fill="#000"/><ellipse cx="457.6" cy="284.9" rx="1.1" ry="0.7" fill="#000"/><ellipse cx="459.8" cy="304.1" rx="2.1" ry="2.1" fill="#000"/><ellipse cx="488.4" cy="269.5" rx="1.5" ry="1.2" fill="#000"/><ellipse cx="452.0" cy="298.3" rx="1.0" ry="0.8" fill="#000"/><ellipse cx="496.0" cy="268.1" rx="2.0" ry="1.6" fill="#000"/><ellipse cx="476.0" cy="262.1" rx="1.3" ry="0.8" fill="#000"/><ellipse cx="463.5" cy="283.6" rx="1.5" ry="1.4" fill="#000"/><ellipse cx="462.3" cy="255.4" rx="1.1" ry="1.0" fill="#000"/><ellipse cx="465.4" cy="272.8" rx="1.6" ry="1.1" fill="#000"/><ellipse cx="461.9" cy="276.7" rx="1.9" ry="1.5" fill="#000"/><ellipse cx="491.1" cy="258.5" rx="1.4" ry="1.3" fill="#000"/><ellipse cx="503.6" cy="290.8" rx="1.1" ry="1.1" fill="#000"/><ellipse cx="462.5" cy="301.2" rx="1.9" ry="1.3" fill="#000"/><ellipse cx="491.5" cy="266.2" rx="1.9" ry="1.8" fill="#000"/><ellipse cx="506.8" cy="294.8" rx="1.0" ry="0.6" fill="#000"/><ellipse cx="453.0" cy="266.0" rx="1.2" ry="1.3" fill="#000"/><ellipse cx="505.3" cy="283.4" rx="1.9" ry="1.8" fill="#000"/><ellipse cx="458.7" cy="271.3" rx="1.5" ry="1.0" fill="#000"/><ellipse cx="475.0" cy="273.2" rx="2.0" ry="2.2" fill="#000"/><ellipse cx="459.8" cy="272.5" rx="1.7" ry="1.4" fill="#000"/><ellipse cx="504.7" cy="287.5" rx="1.1" ry="0.9" fill="#000"/><ellipse cx="452.9" cy="270.6" rx="1.2" ry="1.1" fill="#000"/><ellipse cx="494.1" cy="284.2" rx="1.7" ry="1.6" fill="#000"/><ellipse cx="464.2" cy="294.4" rx="1.4" ry="0.9" fill="#000"/><ellipse cx="505.9" cy="292.0" rx="1.8" ry="1.6" fill="#000"/><ellipse cx="472.5" cy="264.2" rx="1.8" ry="1.9" fill="#000"/><ellipse cx="486.2" cy="275.7" rx="1.5" ry="1.4" fill="#000"/><ellipse cx="467.6" cy="267.7" rx="2.1" ry="1.6" fill="#000"/><ellipse cx="460.4" cy="282.5" rx="1.5" ry="1.1" fill="#000"/><ellipse cx="456.9" cy="286.9" rx="1.1" ry="1.1" fill="#000"/><ellipse cx="459.9" cy="278.3" rx="1.6" ry="1.4" fill="#000"/><ellipse cx="483.0" cy="267.6" rx="1.3" ry="0.9" fill="#000"/><ellipse cx="468.7" cy="272.8" rx="2.0" ry="1.8" fill="#000"/><ellipse cx="460.3" cy="293.2" rx="1.6" ry="1.2" fill="#000"/><ellipse cx="453.8" cy="273.7" rx="1.0" ry="1.1" fill="#000"/></mask></defs>
<path d="M76.8,36.5 L77.6,30 L78.4,23.6 L83,25.2 L87.6,28.2 C88.6,34 88.4,39.5 89.4,43.5 C90.8,47.8 93.6,51 94.2,55 C94.9,61 93.5,67 91.6,71 L90.6,80 L89.6,92 L88.8,103 C89.3,109 89.9,114.5 89.2,118.5 L87.5,121.5 L71,121.5 C71.5,118.5 72.5,116.5 73.5,113.5 L75.2,104 L76,94 L76.8,84 L77.6,74 L78.4,65 C78.3,58 77.6,53 76,50 C73.4,48.4 71.2,46.8 71,44.2 C70.8,41.6 73,40.3 75,39.6 Z" fill="url(#fg)"/>
<path d="M78.4,65 L77.6,74 L76.8,84 L76,94 L75.2,104 L73.5,113.5 L75.5,114 L77,104 L78,94 L78.8,84 L79.6,74 L80.2,65 Z" fill="#8e8e8e" opacity="0.6"/>
<path d="M72.5,29.5 L78,28.5 L79,36.5 L74,37.5 Z" fill="#bdbdbd"/>
<circle cx="70.5" cy="32.6" r="4.8" fill="url(#hg)" stroke="#5a5a5a" stroke-width="0.7"/>
<path d="M66.2,34.2 C66.8,36.6 68.6,37.9 70.6,37.6 L71.6,36.2 C69.6,36.2 68.2,35.4 67.2,33.4 Z" fill="#1e1e1e"/>
<ellipse cx="73.8" cy="43.3" rx="3.9" ry="3.1" fill="#a2a2a2"/>
<path d="M70.2,44 C70.8,46.2 73,47.2 75.5,46.8 L77,45.5 C74.5,46 72,45.5 70.2,44 Z" fill="#555"/>
<ellipse cx="74.6" cy="42.3" rx="2" ry="1.3" fill="#c9c9c9"/>
<path d="M78.6,23.8 L81.5,24.8 L82.5,28.5 L80.5,31 L78.2,29.5 Z" fill="#e2e2e2"/>
<path d="M80.5,24.4 L84,25.8 L87.6,28.2 L88.1,31.5" fill="none" stroke="#3c3c3c" stroke-width="1.1"/>
<path d="M82.5,27.5 L85.5,29 L84.5,31.5 L82,30.5 Z" fill="#6a6a6a"/>
<path d="M78.5,31 L83,32 L84,40 L80,46 L78.5,40 Z" fill="#c6c6c6" opacity="0.55"/>
<path d="M86.5,30 L88.4,36 L89.6,43.5 L91.5,47.5 L90,47.8 L87.8,42 L86.6,35 Z" fill="#5a5a5a" opacity="0.6"/>
<path d="M71,120 C68.8,123 68.6,127.5 70,129.5 C72,131.2 75.5,130.6 77.4,128.5 C78.3,126 78,122.5 77,120 Z" fill="url(#cg)"/>
<path d="M78.2,119.6 C77.8,123.5 78.4,128.5 80.5,130.6 C83,131.8 86,130.8 86.9,128 C87.6,125 87.6,121.5 86.8,119.4 Z" fill="url(#cg)"/>
<path d="M71,118 L74,116.5 L77,119.5 L79,117 L82,119 L86,116.5 L88.6,119 L88,121.5 L71,121.8 Z" fill="#6f6f6f" opacity="0.75"/>
<circle cx="88.6" cy="93.5" r="0.8" fill="#555"/>
<rect x="58.5" y="99.5" width="41" height="37" fill="none" stroke="#5878b4" stroke-width="1"/>
<line x1="99.5" y1="99.5" x2="139.1" y2="36.7" stroke="#5878b4" stroke-width="0.8"/>
<line x1="99.5" y1="136.5" x2="139.1" y2="106.9" stroke="#5878b4" stroke-width="0.8"/>
<rect x="139.1" y="36.7" width="70.6" height="70.2" fill="#050505"/>
<clipPath id="epc"><path d="M149.7,81.9 C152,80.6 154.5,80 156.5,79.1 C159.5,77 161.8,73.6 164.3,72.3 C166.5,71.6 168.7,72 170.7,72.7 C173.2,73.7 175.5,75.2 177.8,76.3 C180.2,77.8 182.4,80.3 184.9,80.5 C187,80.2 189,78.9 190.6,77.7 C192.2,76.5 193.3,74.6 194.9,74.1 C196.6,73.8 199.6,74.2 199.9,75.5 C200.2,78 199.2,81.2 197.7,83.4 C196,86 194.3,88.6 192.1,90.5 C189.8,92.5 187.5,94.3 184.9,95.5 C183,96.4 181.2,97.6 179.3,97.6 C177.3,97.4 175.5,96.3 173.6,95.5 C171.2,94.4 168.8,92.6 166.4,91.9 C164,91.5 161.6,92.1 159.3,91.9 C157.3,91.5 155.3,90.8 153.6,89.8 C152,88.6 150.8,87.1 150.1,85.5 C149.6,84.3 149.4,83 149.7,81.9 Z"/></clipPath>
<path d="M157.9,44.2 L156.6,49.5 L154.6,59 L153.5,67.5 L153.7,75 L152.5,79" stroke="#f4f4f4" fill="none" stroke-linecap="round" stroke-width="1.7"/>
<path d="M171.5,44 L176.5,45.5 L179.3,50.6 L182.1,57.8 L186.4,64.9 L190.6,70.6 L192.8,74.5" stroke="#f4f4f4" fill="none" stroke-linecap="round" stroke-width="1.9"/>
<path d="M176,47 L178,53 L181,60 L184.5,66.5 L188.5,72" stroke="#bbb" fill="none" stroke-width="0.9"/>
<path d="M156,47 L155.5,55 L156.5,63 L157,72" stroke="#bbb" fill="none" stroke-width="0.8"/>
<path d="M171.5,43.2 L177.5,43.6 L179.6,48.5 L175.5,50.5 L172,48.5 Z" fill="#f6f6f6"/>
<path d="M155,44.5 L158.5,43.6" stroke="#eee" stroke-width="1"/>
<path d="M166.0,49.1 q0.6,-1.8 1.1,-3.0" stroke="#b4b4b4" stroke-width="0.75" fill="none"/>
<path d="M155.3,61.3 q-2.5,-1.1 -3.2,-0.5" stroke="#b4b4b4" stroke-width="0.75" fill="none"/>
<path d="M158.0,51.6 q0.6,1.4 0.9,3.1" stroke="#b4b4b4" stroke-width="0.75" fill="none"/>
<path d="M158.8,48.0 q-1.3,1.3 -1.3,2.2" stroke="#b4b4b4" stroke-width="0.75" fill="none"/>
<path d="M178.6,56.7 q-0.7,-2.1 0.3,-3.1" stroke="#b4b4b4" stroke-width="0.75" fill="none"/>
<path d="M180.2,58.5 q-0.7,-0.1 -1.3,0.6" stroke="#b4b4b4" stroke-width="0.75" fill="none"/>
<path d="M184.8,67.8 q-0.8,1.0 -1.8,0.5" stroke="#b4b4b4" stroke-width="0.75" fill="none"/>
<path d="M169.7,69.7 q-2.1,0.3 -2.4,-0.1" stroke="#b4b4b4" stroke-width="0.75" fill="none"/>
<path d="M183.6,63.5 q1.7,-0.5 2.6,-1.3" stroke="#b4b4b4" stroke-width="0.75" fill="none"/>
<path d="M176.2,59.5 q1.1,1.9 2.4,3.1" stroke="#b4b4b4" stroke-width="0.75" fill="none"/>
<path d="M155.4,67.9 q1.2,1.3 1.0,3.5" stroke="#b4b4b4" stroke-width="0.75" fill="none"/>
<path d="M168.4,66.7 q-2.3,-0.9 -3.3,-0.3" stroke="#b4b4b4" stroke-width="0.75" fill="none"/>
<path d="M155.4,70.1 q-1.5,-0.1 -2.6,-1.8" stroke="#b4b4b4" stroke-width="0.75" fill="none"/>
<path d="M156.2,59.3 q0.8,2.1 0.3,2.7" stroke="#b4b4b4" stroke-width="0.75" fill="none"/>
<path d="M164.1,58.1 q0.4,0.6 -1.0,2.7" stroke="#b4b4b4" stroke-width="0.75" fill="none"/>
<path d="M160.0,51.9 q-0.8,-0.5 -1.9,-0.1" stroke="#b4b4b4" stroke-width="0.75" fill="none"/>
<path d="M167.8,63.3 q1.6,0.9 3.2,1.3" stroke="#b4b4b4" stroke-width="0.75" fill="none"/>
<path d="M189.0,70.5 q1.1,0.8 2.6,2.1" stroke="#b4b4b4" stroke-width="0.75" fill="none"/>
<path d="M157.1,65.6 q-2.1,-2.2 -3.1,-3.0" stroke="#b4b4b4" stroke-width="0.75" fill="none"/>
<path d="M166.6,45.8 q-2.5,-1.5 -3.5,-2.4" stroke="#b4b4b4" stroke-width="0.75" fill="none"/>
<path d="M154.0,73.7 q-0.1,-1.5 0.8,-2.5" stroke="#b4b4b4" stroke-width="0.75" fill="none"/>
<path d="M167.6,48.2 q1.2,1.7 2.4,3.5" stroke="#b4b4b4" stroke-width="0.75" fill="none"/>
<path d="M166.7,53.0 q0.2,-0.3 2.3,-2.4" stroke="#b4b4b4" stroke-width="0.75" fill="none"/>
<path d="M174.1,49.0 q0.2,-0.7 0.3,-3.3" stroke="#b4b4b4" stroke-width="0.75" fill="none"/>
<path d="M187.5,67.7 q-1.5,0.1 -1.7,-0.9" stroke="#b4b4b4" stroke-width="0.75" fill="none"/>
<path d="M174.3,70.5 q0.0,0.0 -1.2,-1.9" stroke="#b4b4b4" stroke-width="0.75" fill="none"/>
<path d="M187.1,71.4 q0.6,0.9 2.2,1.7" stroke="#b4b4b4" stroke-width="0.75" fill="none"/>
<path d="M167.2,45.0 q-2.1,-0.4 -3.3,-1.5" stroke="#b4b4b4" stroke-width="0.75" fill="none"/>
<path d="M161.8,51.7 q-0.8,-0.2 -2.1,-2.1" stroke="#b4b4b4" stroke-width="0.75" fill="none"/>
<path d="M179.1,71.2 q-0.6,1.1 -2.9,1.1" stroke="#b4b4b4" stroke-width="0.75" fill="none"/>
<path d="M183.0,60.3 q-1.5,1.6 -2.3,2.0" stroke="#b4b4b4" stroke-width="0.75" fill="none"/>
<path d="M158.1,49.1 q0.7,1.7 2.8,2.1" stroke="#b4b4b4" stroke-width="0.75" fill="none"/>
<path d="M167.0,62.7 q-0.3,-1.4 -2.6,-3.4" stroke="#b4b4b4" stroke-width="0.75" fill="none"/>
<path d="M163.1,54.0 q-1.4,0.1 -1.8,0.6" stroke="#b4b4b4" stroke-width="0.75" fill="none"/>
<path d="M158.2,74.9 q-0.3,0.7 -1.0,-0.3" stroke="#b4b4b4" stroke-width="0.75" fill="none"/>
<path d="M173.1,62.1 q-0.0,-2.3 0.2,-3.4" stroke="#b4b4b4" stroke-width="0.75" fill="none"/>
<path d="M159.9,60.1 q0.4,0.2 1.6,0.4" stroke="#b4b4b4" stroke-width="0.75" fill="none"/>
<path d="M175.2,70.7 q-1.9,-0.2 -2.8,0.4" stroke="#b4b4b4" stroke-width="0.75" fill="none"/>
<path d="M183.9,61.3 q1.0,0.8 0.4,1.8" stroke="#b4b4b4" stroke-width="0.75" fill="none"/>
<path d="M177.5,61.2 q-0.1,0.7 0.1,1.3" stroke="#b4b4b4" stroke-width="0.75" fill="none"/>
<path d="M181.0,73.8 q1.7,0.0 3.1,-1.7" stroke="#b4b4b4" stroke-width="0.75" fill="none"/>
<path d="M157.9,59.0 q-2.3,-0.6 -3.0,-1.8" stroke="#b4b4b4" stroke-width="0.75" fill="none"/>
<path d="M184.4,74.5 q-0.9,0.0 -2.4,1.5" stroke="#b4b4b4" stroke-width="0.75" fill="none"/>
<path d="M188.3,76.9 q-1.2,1.6 -2.0,3.2" stroke="#b4b4b4" stroke-width="0.75" fill="none"/>
<path d="M159.5,58.7 q-0.6,-0.9 0.1,-1.1" stroke="#b4b4b4" stroke-width="0.75" fill="none"/>
<path d="M175.2,59.0 q-1.4,-0.6 -3.4,-1.2" stroke="#b4b4b4" stroke-width="0.75" fill="none"/>
<path d="M184.5,77.0 q-2.3,-0.3 -2.8,-1.6" stroke="#b4b4b4" stroke-width="0.75" fill="none"/>
<path d="M163.8,48.4 q0.4,1.0 -0.5,2.9" stroke="#b4b4b4" stroke-width="0.75" fill="none"/>
<path d="M159.0,75.3 q-0.6,-0.2 0.5,1.4" stroke="#b4b4b4" stroke-width="0.75" fill="none"/>
<path d="M180.5,58.5 q-1.2,2.1 -3.0,3.1" stroke="#b4b4b4" stroke-width="0.75" fill="none"/>
<path d="M156.3,73.1 q-1.6,0.9 -3.0,2.5" stroke="#b4b4b4" stroke-width="0.75" fill="none"/>
<path d="M163.7,48.4 q-0.7,-1.6 0.2,-1.8" stroke="#b4b4b4" stroke-width="0.75" fill="none"/>
<path d="M165.5,54.4 q0.9,-1.4 1.8,-1.5" stroke="#b4b4b4" stroke-width="0.75" fill="none"/>
<path d="M166.9,44.6 q-0.4,-1.6 -1.7,-3.4" stroke="#b4b4b4" stroke-width="0.75" fill="none"/>
<path d="M160.6,60.1 q2.2,-1.5 3.0,-2.8" stroke="#b4b4b4" stroke-width="0.75" fill="none"/>
<g clip-path="url(#epc)"><path d="M174.8,93.7 q-0.1,1.0 -0.9,0.0" stroke="#ededed" stroke-width="0.95" fill="none" stroke-linecap="round"/><path d="M167.1,93.6 q0.6,0.1 1.7,0.8" stroke="#ededed" stroke-width="0.95" fill="none" stroke-linecap="round"/><path d="M152.7,75.4 q-2.2,0.0 -3.4,1.4" stroke="#ededed" stroke-width="0.95" fill="none" stroke-linecap="round"/><path d="M154.2,93.9 q1.0,-0.0 3.0,1.0" stroke="#ededed" stroke-width="0.95" fill="none" stroke-linecap="round"/><path d="M164.7,83.9 q-1.8,0.8 -2.7,-0.3" stroke="#ededed" stroke-width="0.95" fill="none" stroke-linecap="round"/><path d="M198.6,86.2 q-1.4,1.1 -2.0,2.8" stroke="#ededed" stroke-width="0.95" fill="none" stroke-linecap="round"/><path d="M150.1,81.9 q-0.7,0.0 -0.2,0.0" stroke="#ededed" stroke-width="0.95" fill="none" stroke-linecap="round"/><path d="M150.2,78.9 q-2.6,-1.3 -3.3,-0.6" stroke="#ededed" stroke-width="0.95" fill="none" stroke-linecap="round"/><path d="M165.2,78.1 q0.8,0.4 0.7,0.2" stroke="#ededed" stroke-width="0.95" fill="none" stroke-linecap="round"/><path d="M185.8,94.9 q0.5,-1.2 -0.9,-1.0" stroke="#ededed" stroke-width="0.95" fill="none" stroke-linecap="round"/><path d="M186.2,88.7 q-1.0,1.3 -3.6,2.0" stroke="#ededed" stroke-width="0.95" fill="none" stroke-linecap="round"/><path d="M186.7,93.1 q-1.4,0.7 -2.9,0.1" stroke="#ededed" stroke-width="0.95" fill="none" stroke-linecap="round"/><path d="M190.2,93.5 q0.7,1.6 0.7,2.4" stroke="#ededed" stroke-width="0.95" fill="none" stroke-linecap="round"/><path d="M161.5,72.8 q-2.3,0.3 -2.9,-0.8" stroke="#ededed" stroke-width="0.95" fill="none" stroke-linecap="round"/><path d="M177.9,88.3 q0.5,-0.5 1.0,1.1" stroke="#ededed" stroke-width="0.95" fill="none" stroke-linecap="round"/><path d="M189.9,91.5 q0.3,-0.8 0.0,0.2" stroke="#ededed" stroke-width="0.95" fill="none" stroke-linecap="round"/><path d="M186.8,78.6 q-1.2,-1.3 -3.4,-1.4" stroke="#ededed" stroke-width="0.95" fill="none" stroke-linecap="round"/><path d="M187.0,97.4 q-0.1,0.0 -0.0,-0.7" stroke="#ededed" stroke-width="0.95" fill="none" stroke-linecap="round"/><path d="M188.3,88.0 q-0.1,-1.8 1.1,-2.5" stroke="#ededed" stroke-width="0.95" fill="none" stroke-linecap="round"/><path d="M187.2,79.9 q-0.6,-1.9 0.5,-2.9" stroke="#ededed" stroke-width="0.95" fill="none" stroke-linecap="round"/><path d="M183.6,90.0 q0.7,-0.7 1.4,-1.3" stroke="#ededed" stroke-width="0.95" fill="none" stroke-linecap="round"/><path d="M173.3,75.1 q2.5,-0.0 3.1,-1.8" stroke="#ededed" stroke-width="0.95" fill="none" stroke-linecap="round"/><path d="M150.9,83.9 q1.2,0.9 2.6,2.8" stroke="#ededed" stroke-width="0.95" fill="none" stroke-linecap="round"/><path d="M160.5,96.6 q-1.9,0.3 -2.3,0.5" stroke="#ededed" stroke-width="0.95" fill="none" stroke-linecap="round"/><path d="M197.6,75.4 q2.1,0.4 2.6,0.1" stroke="#ededed" stroke-width="0.95" fill="none" stroke-linecap="round"/><path d="M161.6,95.3 q-1.0,-1.4 -0.1,-2.9" stroke="#ededed" stroke-width="0.95" fill="none" stroke-linecap="round"/><path d="M172.5,79.9 q-1.8,0.2 -2.9,-0.9" stroke="#ededed" stroke-width="0.95" fill="none" stroke-linecap="round"/><path d="M150.1,91.5 q2.2,-0.7 2.7,-2.3" stroke="#ededed" stroke-width="0.95" fill="none" stroke-linecap="round"/><path d="M195.1,79.5 q0.5,-0.1 -1.0,-0.6" stroke="#ededed" stroke-width="0.95" fill="none" stroke-linecap="round"/><path d="M168.0,83.1 q-1.7,-0.7 -1.8,-2.7" stroke="#ededed" stroke-width="0.95" fill="none" stroke-linecap="round"/><path d="M164.3,96.3 q-1.0,-1.3 -2.0,-1.4" stroke="#ededed" stroke-width="0.95" fill="none" stroke-linecap="round"/><path d="M168.7,96.9 q1.8,1.8 3.1,1.9" stroke="#ededed" stroke-width="0.95" fill="none" stroke-linecap="round"/><path d="M197.0,86.3 q1.3,-1.4 1.8,-2.7" stroke="#ededed" stroke-width="0.95" fill="none" stroke-linecap="round"/><path d="M187.6,88.8 q-0.0,-2.1 -1.7,-2.7" stroke="#ededed" stroke-width="0.95" fill="none" stroke-linecap="round"/><path d="M173.6,80.9 q0.1,0.2 -1.6,1.4" stroke="#ededed" stroke-width="0.95" fill="none" stroke-linecap="round"/><path d="M182.8,79.8 q-0.4,-1.0 0.5,-0.6" stroke="#ededed" stroke-width="0.95" fill="none" stroke-linecap="round"/><path d="M160.4,95.6 q0.8,0.2 -0.0,-1.7" stroke="#ededed" stroke-width="0.95" fill="none" stroke-linecap="round"/><path d="M172.5,75.6 q-1.5,-2.0 -2.5,-2.5" stroke="#ededed" stroke-width="0.95" fill="none" stroke-linecap="round"/><path d="M162.0,78.7 q0.8,1.0 0.6,2.3" stroke="#ededed" stroke-width="0.95" fill="none" stroke-linecap="round"/><path d="M170.7,85.6 q-1.4,-0.9 -1.0,-1.0" stroke="#ededed" stroke-width="0.95" fill="none" stroke-linecap="round"/><path d="M198.4,75.3 q0.7,-0.2 0.0,0.8" stroke="#ededed" stroke-width="0.95" fill="none" stroke-linecap="round"/><path d="M163.6,78.5 q0.5,0.5 -0.8,-0.3" stroke="#ededed" stroke-width="0.95" fill="none" stroke-linecap="round"/><path d="M193.6,72.6 q-1.1,0.6 -3.7,1.3" stroke="#ededed" stroke-width="0.95" fill="none" stroke-linecap="round"/><path d="M179.4,72.0 q0.2,2.0 -0.9,2.6" stroke="#ededed" stroke-width="0.95" fill="none" stroke-linecap="round"/><path d="M198.6,78.5 q-1.5,-0.7 -3.1,-2.1" stroke="#ededed" stroke-width="0.95" fill="none" stroke-linecap="round"/><path d="M197.1,90.8 q0.5,0.9 1.2,1.6" stroke="#ededed" stroke-width="0.95" fill="none" stroke-linecap="round"/><path d="M152.0,92.3 q-0.8,0.9 -2.1,2.5" stroke="#ededed" stroke-width="0.95" fill="none" stroke-linecap="round"/><path d="M156.4,78.5 q-0.2,-0.3 1.1,1.2" stroke="#ededed" stroke-width="0.95" fill="none" stroke-linecap="round"/><path d="M176.2,87.2 q-0.2,-1.8 -0.9,-1.7" stroke="#ededed" stroke-width="0.95" fill="none" stroke-linecap="round"/><path d="M165.1,84.0 q2.6,0.4 3.7,0.9" stroke="#ededed" stroke-width="0.95" fill="none" stroke-linecap="round"/><path d="M161.7,78.4 q1.5,-0.3 3.7,1.2" stroke="#ededed" stroke-width="0.95" fill="none" stroke-linecap="round"/><path d="M174.9,89.5 q0.0,0.1 -0.6,-1.5" stroke="#ededed" stroke-width="0.95" fill="none" stroke-linecap="round"/><path d="M161.3,72.9 q-0.3,-0.8 -1.3,-0.5" stroke="#ededed" stroke-width="0.95" fill="none" stroke-linecap="round"/><path d="M189.9,91.2 q1.0,-1.3 0.0,-1.8" stroke="#ededed" stroke-width="0.95" fill="none" stroke-linecap="round"/><path d="M191.0,78.0 q-1.5,1.7 -2.2,1.6" stroke="#ededed" stroke-width="0.95" fill="none" stroke-linecap="round"/><path d="M174.8,76.9 q-0.8,0.6 -2.2,-0.5" stroke="#ededed" stroke-width="0.95" fill="none" stroke-linecap="round"/><path d="M157.3,82.2 q-1.9,0.5 -2.3,2.8" stroke="#ededed" stroke-width="0.95" fill="none" stroke-linecap="round"/><path d="M153.0,82.2 q2.1,2.1 3.2,2.3" stroke="#ededed" stroke-width="0.95" fill="none" stroke-linecap="round"/><path d="M196.6,80.6 q-0.8,0.4 -2.5,2.6" stroke="#ededed" stroke-width="0.95" fill="none" stroke-linecap="round"/><path d="M183.2,81.8 q-1.2,-1.5 -1.0,-1.0" stroke="#ededed" stroke-width="0.95" fill="none" stroke-linecap="round"/><path d="M164.0,81.1 q2.8,-1.7 3.6,-2.3" stroke="#ededed" stroke-width="0.95" fill="none" stroke-linecap="round"/><path d="M167.8,93.4 q0.4,-0.3 2.6,-0.4" stroke="#ededed" stroke-width="0.95" fill="none" stroke-linecap="round"/><path d="M168.6,95.9 q-0.4,-1.3 -2.5,-0.8" stroke="#ededed" stroke-width="0.95" fill="none" stroke-linecap="round"/><path d="M170.5,93.1 q0.1,-2.3 2.1,-2.8" stroke="#ededed" stroke-width="0.95" fill="none" stroke-linecap="round"/><path d="M196.0,78.7 q0.7,0.7 2.0,2.4" stroke="#ededed" stroke-width="0.95" fill="none" stroke-linecap="round"/><path d="M197.9,88.0 q-1.3,0.2 -1.9,1.3" stroke="#ededed" stroke-width="0.95" fill="none" stroke-linecap="round"/><path d="M150.2,91.6 q2.6,-0.5 3.3,0.8" stroke="#ededed" stroke-width="0.95" fill="none" stroke-linecap="round"/><path d="M161.7,84.4 q1.6,0.9 3.7,2.7" stroke="#ededed" stroke-width="0.95" fill="none" stroke-linecap="round"/><path d="M171.5,84.8 q2.3,-0.5 3.4,-1.9" stroke="#ededed" stroke-width="0.95" fill="none" stroke-linecap="round"/><path d="M191.1,92.1 q0.1,-0.8 0.9,-1.0" stroke="#ededed" stroke-width="0.95" fill="none" stroke-linecap="round"/><path d="M189.1,74.1 q-1.7,-0.1 -2.4,1.5" stroke="#ededed" stroke-width="0.95" fill="none" stroke-linecap="round"/><path d="M151.7,86.4 q0.1,2.4 -1.4,2.9" stroke="#ededed" stroke-width="0.95" fill="none" stroke-linecap="round"/><path d="M163.2,74.2 q-1.2,-0.1 -3.2,-0.0" stroke="#ededed" stroke-width="0.95" fill="none" stroke-linecap="round"/><path d="M161.7,82.8 q1.0,1.2 1.0,1.0" stroke="#ededed" stroke-width="0.95" fill="none" stroke-linecap="round"/><path d="M183.2,75.2 q1.5,-0.9 2.7,-1.2" stroke="#ededed" stroke-width="0.95" fill="none" stroke-linecap="round"/><path d="M186.9,77.2 q-1.7,0.0 -2.0,-1.5" stroke="#ededed" stroke-width="0.95" fill="none" stroke-linecap="round"/><path d="M178.9,80.5 q-0.4,0.9 -0.8,3.0" stroke="#ededed" stroke-width="0.95" fill="none" stroke-linecap="round"/><path d="M190.4,89.0 q1.9,-0.6 3.9,-2.4" stroke="#ededed" stroke-width="0.95" fill="none" stroke-linecap="round"/><path d="M192.0,95.8 q-2.6,-1.2 -3.7,-1.2" stroke="#ededed" stroke-width="0.95" fill="none" stroke-linecap="round"/><path d="M198.6,87.2 q2.5,-0.5 3.4,-0.8" stroke="#ededed" stroke-width="0.95" fill="none" stroke-linecap="round"/><path d="M163.0,92.2 q2.0,-0.9 3.6,-2.4" stroke="#ededed" stroke-width="0.95" fill="none" stroke-linecap="round"/><path d="M160.9,81.6 q-1.9,-0.7 -2.9,-1.8" stroke="#ededed" stroke-width="0.95" fill="none" stroke-linecap="round"/><path d="M182.6,77.3 q-1.6,-1.1 -3.9,-1.0" stroke="#ededed" stroke-width="0.95" fill="none" stroke-linecap="round"/><path d="M165.6,77.3 q0.3,-0.7 2.4,0.3" stroke="#ededed" stroke-width="0.95" fill="none" stroke-linecap="round"/><path d="M169.8,86.3 q-0.1,-0.8 1.1,-2.5" stroke="#ededed" stroke-width="0.95" fill="none" stroke-linecap="round"/><path d="M170.5,79.4 q-1.1,1.5 -1.5,2.7" stroke="#ededed" stroke-width="0.95" fill="none" stroke-linecap="round"/><path d="M167.9,82.8 q1.2,0.9 2.9,3.0" stroke="#ededed" stroke-width="0.95" fill="none" stroke-linecap="round"/><path d="M186.4,77.3 q-2.1,1.8 -4.0,2.4" stroke="#ededed" stroke-width="0.95" fill="none" stroke-linecap="round"/><path d="M170.3,95.0 q-1.1,-0.9 -0.3,-2.0" stroke="#ededed" stroke-width="0.95" fill="none" stroke-linecap="round"/><path d="M182.0,95.7 q-1.9,0.4 -3.3,0.7" stroke="#ededed" stroke-width="0.95" fill="none" stroke-linecap="round"/><path d="M157.3,79.4 q-0.7,1.3 0.2,2.6" stroke="#ededed" stroke-width="0.95" fill="none" stroke-linecap="round"/><path d="M190.2,97.1 q-0.3,-0.2 -2.4,-2.2" stroke="#ededed" stroke-width="0.95" fill="none" stroke-linecap="round"/><path d="M174.1,73.4 q2.5,-0.1 3.4,-0.7" stroke="#ededed" stroke-width="0.95" fill="none" stroke-linecap="round"/><path d="M191.2,76.2 q1.0,-0.1 2.3,-1.7" stroke="#ededed" stroke-width="0.95" fill="none" stroke-linecap="round"/><path d="M191.5,76.8 q-1.1,-0.5 -2.3,-0.6" stroke="#ededed" stroke-width="0.95" fill="none" stroke-linecap="round"/><path d="M156.2,78.4 q-0.0,1.3 1.8,2.4" stroke="#ededed" stroke-width="0.95" fill="none" stroke-linecap="round"/><path d="M187.9,73.0 q1.6,-1.0 2.7,-2.3" stroke="#ededed" stroke-width="0.95" fill="none" stroke-linecap="round"/><path d="M181.4,80.0 q-0.5,0.6 -0.6,0.5" stroke="#ededed" stroke-width="0.95" fill="none" stroke-linecap="round"/><path d="M172.3,83.4 q-1.9,-0.2 -3.8,0.7" stroke="#ededed" stroke-width="0.95" fill="none" stroke-linecap="round"/><path d="M188.2,92.3 q-0.2,-1.7 -0.3,-1.9" stroke="#ededed" stroke-width="0.95" fill="none" stroke-linecap="round"/><path d="M156.4,83.2 q-1.6,-1.1 -3.3,-0.3" stroke="#ededed" stroke-width="0.95" fill="none" stroke-linecap="round"/><path d="M181.8,74.1 q1.0,-0.1 1.9,1.7" stroke="#ededed" stroke-width="0.95" fill="none" stroke-linecap="round"/><path d="M175.2,81.8 q2.5,-0.1 3.6,-2.2" stroke="#ededed" stroke-width="0.95" fill="none" stroke-linecap="round"/><path d="M186.6,93.2 q-1.2,2.4 -2.5,2.9" stroke="#ededed" stroke-width="0.95" fill="none" stroke-linecap="round"/><path d="M195.8,76.3 q0.3,1.0 2.3,2.6" stroke="#ededed" stroke-width="0.95" fill="none" stroke-linecap="round"/><path d="M187.8,76.1 q2.2,-1.4 3.2,-1.4" stroke="#ededed" stroke-width="0.95" fill="none" stroke-linecap="round"/><path d="M175.1,95.9 q-1.2,-1.1 -2.3,-1.4" stroke="#ededed" stroke-width="0.95" fill="none" stroke-linecap="round"/><path d="M151.8,76.7 q-1.0,2.1 -2.7,2.6" stroke="#ededed" stroke-width="0.95" fill="none" stroke-linecap="round"/><path d="M158.4,92.4 q-1.3,-0.2 -3.1,0.2" stroke="#ededed" stroke-width="0.95" fill="none" stroke-linecap="round"/><path d="M193.6,86.4 q-0.5,2.1 0.6,2.3" stroke="#ededed" stroke-width="0.95" fill="none" stroke-linecap="round"/><path d="M181.5,82.3 q2.2,-0.6 2.4,-1.4" stroke="#ededed" stroke-width="0.95" fill="none" stroke-linecap="round"/><path d="M168.0,91.9 q0.3,-1.9 -0.5,-1.9" stroke="#ededed" stroke-width="0.95" fill="none" stroke-linecap="round"/><path d="M191.0,78.6 q0.7,1.8 1.1,2.9" stroke="#ededed" stroke-width="0.95" fill="none" stroke-linecap="round"/><path d="M165.6,72.0 q-1.6,-1.2 -3.7,-2.1" stroke="#ededed" stroke-width="0.95" fill="none" stroke-linecap="round"/><path d="M175.6,95.3 q-1.2,-1.8 -2.9,-1.6" stroke="#ededed" stroke-width="0.95" fill="none" stroke-linecap="round"/><path d="M150.1,81.2 q-2.1,-0.3 -3.1,-0.9" stroke="#ededed" stroke-width="0.95" fill="none" stroke-linecap="round"/><path d="M179.5,77.3 q-0.2,0.8 1.0,-0.2" stroke="#ededed" stroke-width="0.95" fill="none" stroke-linecap="round"/><path d="M162.2,75.9 q-0.9,1.0 -3.2,0.8" stroke="#ededed" stroke-width="0.95" fill="none" stroke-linecap="round"/><path d="M170.1,78.9 q-1.8,0.1 -3.9,0.9" stroke="#ededed" stroke-width="0.95" fill="none" stroke-linecap="round"/><path d="M182.3,83.5 q1.2,1.5 3.5,1.4" stroke="#ededed" stroke-width="0.95" fill="none" stroke-linecap="round"/><path d="M152.2,85.8 q-1.3,-0.2 -0.8,-1.6" stroke="#ededed" stroke-width="0.95" fill="none" stroke-linecap="round"/><path d="M150.6,86.3 q1.2,-0.9 3.5,-2.1" stroke="#ededed" stroke-width="0.95" fill="none" stroke-linecap="round"/><path d="M175.3,88.7 q0.9,-1.4 2.5,-2.0" stroke="#ededed" stroke-width="0.95" fill="none" stroke-linecap="round"/><path d="M152.4,95.1 q0.1,1.3 2.3,1.3" stroke="#ededed" stroke-width="0.95" fill="none" stroke-linecap="round"/><path d="M187.3,84.1 q0.4,-0.9 1.9,-0.3" stroke="#ededed" stroke-width="0.95" fill="none" stroke-linecap="round"/><path d="M161.6,73.0 q-0.3,1.4 -1.3,1.5" stroke="#ededed" stroke-width="0.95" fill="none" stroke-linecap="round"/><path d="M185.6,78.9 q0.8,-0.1 0.4,-0.4" stroke="#ededed" stroke-width="0.95" fill="none" stroke-linecap="round"/><path d="M163.3,88.7 q2.6,-1.8 3.7,-1.7" stroke="#ededed" stroke-width="0.95" fill="none" stroke-linecap="round"/><path d="M163.0,78.1 q1.5,1.0 2.0,2.7" stroke="#ededed" stroke-width="0.95" fill="none" stroke-linecap="round"/><path d="M194.0,80.5 q-0.8,1.6 -2.1,2.4" stroke="#ededed" stroke-width="0.95" fill="none" stroke-linecap="round"/><path d="M183.3,97.5 q0.3,1.7 -0.2,2.0" stroke="#ededed" stroke-width="0.95" fill="none" stroke-linecap="round"/><path d="M171.9,90.8 q-0.3,-0.3 0.6,-1.2" stroke="#ededed" stroke-width="0.95" fill="none" stroke-linecap="round"/><path d="M153.9,95.7 q-2.2,-0.6 -2.8,-2.8" stroke="#ededed" stroke-width="0.95" fill="none" stroke-linecap="round"/><path d="M167.2,75.7 q-1.5,-1.1 -3.8,-2.8" stroke="#ededed" stroke-width="0.95" fill="none" stroke-linecap="round"/><path d="M184.9,91.2 q-2.0,0.9 -3.5,0.5" stroke="#ededed" stroke-width="0.95" fill="none" stroke-linecap="round"/><path d="M191.0,95.2 q-0.9,2.0 -3.5,2.2" stroke="#ededed" stroke-width="0.95" fill="none" stroke-linecap="round"/><path d="M155.4,77.3 q-0.9,-0.8 -3.1,-2.8" stroke="#ededed" stroke-width="0.95" fill="none" stroke-linecap="round"/><path d="M181.7,93.5 q-0.3,-1.4 1.1,-1.3" stroke="#ededed" stroke-width="0.95" fill="none" stroke-linecap="round"/><path d="M187.9,77.3 q-1.7,-0.7 -1.4,-0.5" stroke="#ededed" stroke-width="0.95" fill="none" stroke-linecap="round"/><path d="M164.1,90.6 q0.4,-0.5 -1.1,-1.1" stroke="#ededed" stroke-width="0.95" fill="none" stroke-linecap="round"/><path d="M192.6,88.1 q-2.0,0.3 -3.8,-0.5" stroke="#ededed" stroke-width="0.95" fill="none" stroke-linecap="round"/><path d="M167.3,90.3 q0.9,-1.7 0.3,-1.7" stroke="#ededed" stroke-width="0.95" fill="none" stroke-linecap="round"/><path d="M191.0,76.4 q-1.5,0.1 -4.0,-1.8" stroke="#ededed" stroke-width="0.95" fill="none" stroke-linecap="round"/><path d="M150.2,84.8 q-0.7,0.9 -0.1,1.8" stroke="#ededed" stroke-width="0.95" fill="none" stroke-linecap="round"/><path d="M167.4,93.6 q-1.4,0.8 -1.9,2.7" stroke="#ededed" stroke-width="0.95" fill="none" stroke-linecap="round"/><path d="M185.0,85.0 q-2.4,1.0 -3.1,0.8" stroke="#ededed" stroke-width="0.95" fill="none" stroke-linecap="round"/><path d="M184.9,92.5 q0.3,-0.6 1.0,-0.9" stroke="#ededed" stroke-width="0.95" fill="none" stroke-linecap="round"/><path d="M194.5,74.2 q1.0,-1.9 3.1,-2.8" stroke="#ededed" stroke-width="0.95" fill="none" stroke-linecap="round"/><path d="M195.1,85.0 q-1.0,1.1 -1.0,2.3" stroke="#ededed" stroke-width="0.95" fill="none" stroke-linecap="round"/><path d="M176.6,91.6 q0.7,0.1 2.0,0.9" stroke="#ededed" stroke-width="0.95" fill="none" stroke-linecap="round"/><path d="M157.8,93.9 q-0.0,0.6 1.3,1.5" stroke="#ededed" stroke-width="0.95" fill="none" stroke-linecap="round"/><path d="M188.7,87.1 q-0.7,-0.6 -3.0,-0.2" stroke="#ededed" stroke-width="0.95" fill="none" stroke-linecap="round"/><path d="M159.6,79.8 q0.1,0.3 1.6,2.1" stroke="#ededed" stroke-width="0.95" fill="none" stroke-linecap="round"/><path d="M162.4,80.5 q-0.3,-1.6 0.2,-2.0" stroke="#ededed" stroke-width="0.95" fill="none" stroke-linecap="round"/><path d="M198.8,90.9 q-2.4,1.2 -3.2,2.8" stroke="#ededed" stroke-width="0.95" fill="none" stroke-linecap="round"/><path d="M199.2,92.7 q0.3,0.1 1.9,-0.4" stroke="#ededed" stroke-width="0.95" fill="none" stroke-linecap="round"/><path d="M155.3,77.4 q-0.6,-0.8 -0.9,-2.8" stroke="#ededed" stroke-width="0.95" fill="none" stroke-linecap="round"/><path d="M184.7,85.0 q-0.2,0.1 1.1,-0.2" stroke="#ededed" stroke-width="0.95" fill="none" stroke-linecap="round"/><path d="M170.2,91.3 q1.8,0.3 3.3,-0.4" stroke="#ededed" stroke-width="0.95" fill="none" stroke-linecap="round"/><path d="M171.1,77.9 q1.4,1.5 1.8,2.3" stroke="#ededed" stroke-width="0.95" fill="none" stroke-linecap="round"/><path d="M149.7,81.9 C152,80.6 154.5,80 156.5,79.1 C159.5,77 161.8,73.6 164.3,72.3 C166.5,71.6 168.7,72 170.7,72.7 C173.2,73.7 175.5,75.2 177.8,76.3 C180.2,77.8 182.4,80.3 184.9,80.5 C187,80.2 189,78.9 190.6,77.7 C192.2,76.5 193.3,74.6 194.9,74.1 C196.6,73.8 199.6,74.2 199.9,75.5 C200.2,78 199.2,81.2 197.7,83.4 C196,86 194.3,88.6 192.1,90.5 C189.8,92.5 187.5,94.3 184.9,95.5 C183,96.4 181.2,97.6 179.3,97.6 C177.3,97.4 175.5,96.3 173.6,95.5 C171.2,94.4 168.8,92.6 166.4,91.9 C164,91.5 161.6,92.1 159.3,91.9 C157.3,91.5 155.3,90.8 153.6,89.8 C152,88.6 150.8,87.1 150.1,85.5 C149.6,84.3 149.4,83 149.7,81.9 Z" stroke="#eee" stroke-width="2.8" fill="none"/></g>
<path d="M149.7,81.9 C152,80.6 154.5,80 156.5,79.1 C159.5,77 161.8,73.6 164.3,72.3 C166.5,71.6 168.7,72 170.7,72.7 C173.2,73.7 175.5,75.2 177.8,76.3 C180.2,77.8 182.4,80.3 184.9,80.5 C187,80.2 189,78.9 190.6,77.7 C192.2,76.5 193.3,74.6 194.9,74.1 C196.6,73.8 199.6,74.2 199.9,75.5 C200.2,78 199.2,81.2 197.7,83.4 C196,86 194.3,88.6 192.1,90.5 C189.8,92.5 187.5,94.3 184.9,95.5 C183,96.4 181.2,97.6 179.3,97.6 C177.3,97.4 175.5,96.3 173.6,95.5 C171.2,94.4 168.8,92.6 166.4,91.9 C164,91.5 161.6,92.1 159.3,91.9 C157.3,91.5 155.3,90.8 153.6,89.8 C152,88.6 150.8,87.1 150.1,85.5 C149.6,84.3 149.4,83 149.7,81.9 Z" stroke="#d62020" stroke-width="1.1" fill="none"/>
<rect x="198.1" y="83.9" width="0.6" height="0.6" fill="#555"/>
<rect x="184.0" y="69.0" width="0.6" height="0.6" fill="#555"/>
<rect x="162.0" y="80.5" width="0.6" height="0.6" fill="#555"/>
<rect x="147.6" y="66.7" width="0.6" height="0.6" fill="#555"/>
<rect x="193.4" y="86.1" width="0.6" height="0.6" fill="#555"/>
<rect x="183.2" y="55.5" width="0.6" height="0.6" fill="#555"/>
<rect x="169.4" y="69.0" width="0.6" height="0.6" fill="#555"/>
<rect x="182.6" y="66.0" width="0.6" height="0.6" fill="#555"/>
<rect x="186.2" y="100.4" width="0.6" height="0.6" fill="#555"/>
<rect x="153.3" y="82.2" width="0.6" height="0.6" fill="#555"/>
<rect x="193.1" y="64.7" width="0.6" height="0.6" fill="#555"/>
<rect x="173.8" y="103.3" width="0.6" height="0.6" fill="#555"/>
<rect x="143.6" y="74.9" width="0.6" height="0.6" fill="#555"/>
<rect x="151.8" y="90.6" width="0.6" height="0.6" fill="#555"/>
<rect x="204.0" y="73.3" width="0.6" height="0.6" fill="#555"/>
<rect x="147.8" y="76.9" width="0.6" height="0.6" fill="#555"/>
<rect x="177.2" y="86.3" width="0.6" height="0.6" fill="#555"/>
<rect x="175.3" y="81.2" width="0.6" height="0.6" fill="#555"/>
<rect x="196.5" y="73.4" width="0.6" height="0.6" fill="#555"/>
<rect x="168.5" y="101.6" width="0.6" height="0.6" fill="#555"/>
<rect x="155.1" y="84.2" width="0.6" height="0.6" fill="#555"/>
<rect x="167.3" y="89.3" width="0.6" height="0.6" fill="#555"/>
<rect x="149.2" y="104.0" width="0.6" height="0.6" fill="#555"/>
<rect x="164.8" y="42.7" width="0.6" height="0.6" fill="#555"/>
<rect x="159.4" y="65.4" width="0.6" height="0.6" fill="#555"/>
<rect x="141.9" y="66.6" width="0.6" height="0.6" fill="#555"/>
<rect x="169.2" y="85.1" width="0.6" height="0.6" fill="#555"/>
<rect x="164.6" y="56.5" width="0.6" height="0.6" fill="#555"/>
<rect x="156.0" y="87.9" width="0.6" height="0.6" fill="#555"/>
<rect x="204.0" y="73.8" width="0.6" height="0.6" fill="#555"/>
<g filter="url(#wsh)"><g mask="url(#hm0)">
<g filter="url(#wsh2)" stroke-linecap="round" stroke-linejoin="round" fill="none" stroke-width="1.3">
<path stroke="#f29d22" d="M103.6,177.7L101.7,176.0M100.4,199.1L98.3,197.8M101.0,177.2L103.3,176.8M124.9,214.3L123.3,212.4L122.1,211.6L121.1,209.8L121.3,207.4M80.0,212.4L78.4,211.1L76.8,211.2M127.2,212.3L124.8,212.8L123.1,211.5M87.3,201.5L85.3,201.5M105.1,187.8L105.4,190.1M78.9,211.1L77.7,210.1M86.4,203.2L84.8,202.1"/>
<path stroke="#e8e01e" d="M118.5,213.5L120.3,213.9L121.9,214.0L123.6,214.4L125.1,213.8M110.6,187.2L112.5,186.3M99.7,198.5L99.8,200.6L98.9,201.7M86.2,214.0L88.0,213.3M120.2,219.5L122.3,220.0L123.7,220.1M100.1,195.5L98.4,194.2L97.8,192.9L97.8,191.5L97.6,189.7M97.7,194.7L97.9,196.3L99.4,197.6M126.0,183.6M129.5,214.4L128.0,213.2L127.2,212.0M78.6,214.9L77.2,215.1M122.9,215.9L121.5,216.2L120.5,217.9M127.9,212.7L129.5,214.0M105.9,202.3L107.3,202.3L108.8,202.9L111.0,203.2M81.8,207.4L82.7,209.2L82.1,210.8L80.8,211.6M96.4,186.9L95.5,189.0L95.0,190.3M93.4,191.6L95.8,190.9L97.7,190.3L99.9,190.8M128.9,212.2L128.0,210.0M80.7,211.3L81.9,209.9L83.0,207.7L83.1,205.8M110.2,203.4L112.0,202.5L113.6,202.9L115.1,203.7M129.7,208.9L131.0,210.4L130.8,212.4L129.1,214.2"/>
<path stroke="#3cb44a" d="M133.5,206.4L135.6,207.6M122.1,198.0L123.4,197.1M111.8,187.3L113.1,186.0M91.0,202.3L92.7,201.6L93.8,199.8L94.6,197.6L95.3,195.8M109.1,194.2L109.3,195.9L108.6,198.0M131.6,211.1L129.7,210.3L128.3,209.1L126.8,209.1M134.3,207.9L133.2,208.7M137.7,214.8M121.5,189.0L122.4,187.6M115.4,201.4L114.9,202.8M125.2,217.9L127.0,218.0L128.4,219.4"/>
<path stroke="#111111" d="M112.2,192.1L113.8,191.6M121.6,193.4L120.2,195.5L118.2,196.1L117.4,198.0L115.2,198.8M130.1,205.0L128.3,203.6L126.7,201.9M119.9,195.6L118.4,196.2M121.1,221.3L120.6,223.3L121.2,225.2M107.7,199.0L109.5,198.7L110.9,198.3L112.7,198.7L114.7,198.2M94.2,197.9L92.6,197.6L91.1,198.3"/>
<path stroke="#b5d335" d="M114.2,193.6L113.6,191.4L113.6,190.0M117.4,189.1L116.1,187.6L115.1,185.9M123.0,193.9L125.0,192.6L127.1,192.7L128.5,192.3M128.4,217.9L127.5,216.0L125.2,215.0M118.6,222.6M119.3,221.8L120.6,220.4L122.0,219.9M94.9,188.0M103.3,198.7L104.9,198.0L106.2,197.0L107.4,196.3"/>
<path stroke="#8cc63f" d="M111.0,200.3L110.8,198.8L110.7,196.2L109.2,194.4M121.5,195.0L123.3,194.1M121.3,225.3M125.1,222.4L127.1,221.6L128.5,219.9L129.1,218.3M86.8,208.3L86.1,206.7L86.4,204.7M111.8,192.8L112.5,191.0L112.5,189.1L113.3,187.0L115.5,186.4M116.2,213.8L115.5,211.6L115.1,210.1L116.4,208.3M134.4,208.9L135.0,207.6M111.3,189.7L109.4,189.4L107.3,188.9L104.8,189.4L102.5,189.4M87.6,211.1L88.7,210.1L90.1,208.3M113.2,185.0L114.6,184.3L115.9,183.3L117.8,181.8M119.8,194.9L118.4,193.5M84.8,211.8L84.2,209.6L82.5,207.7L80.5,206.8M123.7,218.6L125.4,219.2L127.5,218.5L129.2,218.0L131.0,218.4M132.4,212.9L131.6,211.3L131.5,209.8L132.8,207.9"/>
<path stroke="#5bba47" d="M119.1,224.0L120.8,225.2M112.9,200.0L112.0,197.8M116.4,208.2L114.9,207.6L113.5,207.3M120.2,198.4L118.5,198.2L117.0,198.6L114.9,198.8M81.3,210.3L79.9,212.5L78.6,213.3M113.0,189.2L114.7,188.3L116.3,188.0"/>
<path stroke="#2fa848" d="M120.1,179.4L120.0,181.0L121.4,183.0M92.5,206.4M82.3,216.8L80.8,215.1L79.7,213.1L80.1,211.1L80.9,209.5M93.3,197.2L94.7,195.1L94.3,193.3L95.0,191.2L95.5,189.6M82.7,215.8M97.5,185.8L96.0,185.3M99.0,186.7L100.1,185.2L102.3,184.6M82.6,209.6L84.4,209.1L85.6,207.5L86.6,205.5"/>
<path stroke="#e2262a" d="M108.9,184.3L108.4,186.7M97.1,199.0L98.9,198.3M78.4,210.6L76.6,210.4M122.6,212.1L124.1,212.3"/>
<path stroke="#6cbf45" d="M103.4,201.7M124.5,199.3L124.1,197.2L124.4,195.7L124.2,194.1L125.6,192.6M104.0,182.2L101.9,183.3M81.2,207.4L79.8,208.5"/>
</g>
<g filter="url(#wsh2)" stroke-linecap="round" stroke-linejoin="round" fill="none" stroke-width="1.3">
<path stroke="#6cbf45" d="M99.0,192.8L98.0,191.5L97.4,189.8L97.6,187.4M122.3,190.0L120.9,190.5L119.2,189.8M130.7,197.8M109.8,193.1L109.6,190.6L107.6,189.0L105.3,188.4L103.2,188.5M99.5,189.5L101.2,190.1L102.0,191.4M118.4,218.5L116.7,217.6M108.2,192.2L106.3,191.1L105.2,190.1M133.6,219.6L131.4,220.4M124.7,180.1L125.9,181.9M125.3,198.3L123.8,196.8L122.6,195.1M104.9,190.7L106.6,190.5L108.2,191.4L110.2,192.0M135.2,206.5M134.7,214.4L136.2,213.8M120.9,214.1L122.4,213.5M117.8,195.8L119.7,195.6L122.0,195.8L123.8,195.5L126.0,194.5M117.9,194.3L118.6,196.6M99.4,196.2L101.5,195.2L102.2,192.9L103.8,192.2M93.2,199.3L93.7,196.9L94.6,194.9L94.5,193.0L95.6,190.6M131.1,220.5L129.1,221.0L127.4,220.8L126.5,219.3M98.3,185.0L97.6,186.6L96.2,187.2L94.7,188.5"/>
<path stroke="#5bba47" d="M122.8,213.2L124.3,213.5L125.3,214.7L125.9,216.9L126.7,218.7M125.1,186.2L126.0,188.2M134.3,210.1L134.0,212.1L132.7,212.8L130.6,213.3M117.8,200.8L117.2,199.4M95.1,195.5L95.8,196.8L96.1,198.3M98.2,203.9L96.7,202.9"/>
<path stroke="#e8e01e" d="M112.5,180.9L112.0,182.8L112.4,184.7L114.1,186.3M110.2,181.8L110.7,183.8M108.0,182.2L107.4,180.8M136.5,215.9L134.1,216.8L131.6,217.4M120.7,219.3L120.4,220.7L119.9,222.7M95.3,186.9L96.3,189.0L97.9,189.6L98.6,191.3M99.2,202.7L98.1,201.8M108.2,180.8M131.9,207.9L130.1,206.6M109.4,188.3L110.1,190.4M118.7,217.7L120.5,216.3L121.8,214.9M124.6,209.1L125.6,207.4L127.7,206.7L129.6,206.6L131.3,208.2M133.9,217.3L132.3,216.1L130.9,214.3M109.7,201.1L107.5,202.4L105.3,202.0L103.6,201.6L102.3,202.6M121.0,223.9M96.3,191.3L97.7,193.2M122.8,193.9L123.3,191.5M96.9,193.8L97.3,195.1L97.6,197.1L98.9,197.9"/>
<path stroke="#8cc63f" d="M118.4,217.0L117.7,218.9L118.0,220.4M118.4,186.1L119.5,187.4L120.8,188.0M81.5,211.3L83.8,211.9L86.1,212.3L87.4,212.9L88.3,214.4M96.3,201.9L97.0,203.9M117.0,214.0M113.7,193.6L112.4,195.9L111.5,196.9L111.1,199.4L112.1,200.6M111.6,196.7L109.2,196.4L107.8,197.8L107.2,199.6M128.2,206.6L126.6,206.7L125.0,207.9L123.6,209.4L121.3,210.1M102.8,180.1L101.4,181.2L99.6,182.9L98.3,183.9L98.1,185.4M117.8,195.1L115.5,196.1M92.8,200.0L93.7,202.4M105.7,198.5L103.2,198.6L101.1,197.9M110.7,204.1M122.4,223.7L121.6,225.2M119.2,179.7M117.1,221.8M120.1,200.0L120.9,198.6L122.3,196.6L122.6,194.7L124.5,193.1M131.1,221.8L129.4,222.4L127.1,223.2L125.2,222.6M89.1,210.5L89.9,208.9"/>
<path stroke="#f29d22" d="M119.1,205.4L119.4,206.8M120.7,210.0L120.3,207.9L119.4,206.0L120.0,204.6L120.8,202.1M129.2,211.0L131.0,209.4L131.6,208.0M89.9,203.5L88.3,204.0L87.0,205.0M91.9,201.4L90.5,203.6L88.3,204.1M77.1,211.1M110.0,186.4L111.5,185.2"/>
<path stroke="#b5d335" d="M118.1,184.5L119.0,185.7L120.4,186.0M131.3,217.8L130.6,216.2L128.9,214.8L127.4,213.4L126.3,212.1M127.3,195.4L125.4,194.2L124.7,192.0L123.2,191.2M84.2,214.9L85.7,215.1L87.6,215.0M115.0,190.7L115.1,192.2L113.2,194.0L111.4,194.0M100.4,197.6L99.3,196.2M137.0,215.5L136.4,213.3"/>
<path stroke="#3cb44a" d="M114.2,182.6L113.3,183.6L113.4,186.0L112.3,187.4L110.1,187.9M132.3,209.4L132.7,207.7L133.9,205.6M120.9,222.4L119.8,220.7L118.8,219.4M128.8,213.6L127.8,214.7L126.1,216.1L124.5,216.7L123.1,218.5M97.9,187.0L98.2,188.4"/>
<path stroke="#111111" d="M102.3,180.9L99.9,180.8L98.2,180.9M104.5,201.2M113.6,181.2L111.7,181.7L109.7,181.7L107.4,181.3L106.0,180.1"/>
<path stroke="#e2262a" d="M104.3,177.9M110.3,186.6L108.7,187.3"/>
<path stroke="#2fa848" d="M135.5,207.6L133.1,207.3L130.9,208.1M85.7,205.1L84.7,206.5L82.6,206.5L81.0,208.5M132.8,222.0M82.7,204.6L82.8,207.1L82.2,208.5L80.3,209.7L77.9,210.2M129.3,223.2L127.9,222.5M87.0,206.6L85.7,205.5L83.3,205.4"/>
</g>
<g filter="url(#wsh2)" stroke-linecap="round" stroke-linejoin="round" fill="none" stroke-width="1.3">
<path stroke="#e8e01e" d="M93.8,190.2L95.1,192.2L96.9,193.0L99.2,191.9M77.7,209.5L79.8,209.5L81.4,208.8M100.9,192.0L98.7,192.1L96.8,190.6L95.7,189.4M86.8,200.4L89.1,201.5L91.5,201.9L92.9,201.6M110.0,202.5L112.4,201.4L114.2,200.8M112.6,200.9L110.7,199.4L108.6,198.6L107.1,199.2M77.3,213.1L78.5,212.1L81.0,211.9L83.2,213.1L84.7,214.3M99.3,188.6L98.4,190.5L97.4,192.0L95.7,192.2L94.2,191.0M117.0,216.1L116.9,214.5M99.4,176.2L101.0,177.0L102.2,178.5L102.0,180.0M118.3,215.7L116.7,217.6M114.6,185.0L114.5,183.2L115.5,181.8M125.9,213.6L127.0,212.6M123.2,218.5L125.7,217.8L128.2,218.5L129.5,217.7M100.6,194.6L100.6,196.8L99.6,199.2L98.1,199.8M119.6,213.4L121.3,213.7L123.5,214.3L125.7,214.4M120.3,192.2L119.6,190.8M117.9,209.8L117.5,208.3L116.2,206.1L116.7,203.9L118.1,203.1M116.9,215.9L118.2,217.1L120.2,218.0L122.4,216.8L123.5,214.7M97.7,195.1L99.1,195.8L100.6,197.4L102.3,198.0M118.8,207.2L117.3,208.4L115.7,208.7M102.7,196.9L100.4,197.7L98.6,199.2L97.3,201.1M108.0,184.3L109.4,183.9L110.8,182.9L112.3,182.5M116.5,180.5L114.3,181.5L112.6,182.8L111.1,182.9M118.3,211.8L120.0,213.6L121.6,215.4M117.0,182.3L116.0,180.1"/>
<path stroke="#6cbf45" d="M112.0,191.7L113.5,189.7L114.4,187.6M116.0,193.3L117.3,194.7L117.3,197.1L116.8,199.2M91.4,201.7L92.9,199.7M88.5,209.1L88.8,210.8L89.6,212.4M131.2,205.2L131.1,203.3L130.4,201.0M86.9,210.5L88.0,209.5L87.9,207.7L86.9,206.1L85.3,205.5"/>
<path stroke="#8cc63f" d="M124.2,195.8L125.6,196.2L127.0,196.0M107.2,198.5L106.9,196.9L106.5,195.0M118.5,194.0L119.6,192.8M123.4,197.4L124.3,199.1L124.0,201.6M121.8,184.4L124.1,185.3L125.4,187.2L125.8,189.3M109.6,192.9L107.7,193.7L106.5,195.8L105.1,198.0L105.2,199.7M100.4,184.1L99.6,181.7L99.7,180.0L100.6,177.8L102.4,176.4M132.6,205.7M113.9,206.4M115.0,198.5L113.4,198.9L112.4,200.6M92.2,193.7L90.4,195.3M88.3,201.6L88.7,199.5L89.2,197.4L90.5,196.7M115.4,198.1L114.3,199.9L114.4,201.7M124.1,200.5L122.6,199.3L120.5,198.7L118.1,198.8L115.8,198.6M117.6,185.3L115.7,185.5L114.0,186.4L113.6,188.8L114.7,190.4M134.3,220.4L132.2,220.0L130.5,221.3L129.0,222.7M83.8,204.6L83.8,206.3L85.6,207.8L86.1,209.2"/>
<path stroke="#3cb44a" d="M82.4,206.4L83.3,205.1M103.5,195.2L105.7,195.4L107.4,195.2L109.4,194.1L110.8,193.8M82.0,214.4L80.8,212.9M125.2,185.3L126.2,184.1M96.3,186.2L98.1,186.0L99.6,186.9M114.9,185.4L116.3,186.6M120.8,215.1L120.4,217.0L119.8,218.3L119.3,219.8L118.5,221.7M123.9,178.0L125.4,179.5L126.2,181.6M131.5,205.2L131.4,202.7"/>
<path stroke="#2fa848" d="M123.6,190.2L125.5,190.1M113.1,204.3L114.0,203.0L115.1,200.8L116.5,199.7M95.7,196.4L97.4,194.6L98.9,194.2L100.4,192.5L100.2,189.9M77.2,214.1L77.0,215.7"/>
<path stroke="#111111" d="M114.7,199.3L116.5,200.4M118.1,198.4L115.8,198.3L113.7,198.3L111.9,197.9L110.5,198.3M125.9,196.8L124.7,195.0L122.8,194.1L122.1,192.7L122.1,190.6M100.5,195.1L102.0,196.3L104.4,195.9L105.9,195.0"/>
<path stroke="#5bba47" d="M116.0,214.5L117.3,215.4L117.8,217.5M100.8,194.3L98.7,194.1L97.0,195.6L94.6,196.2M133.2,209.3L132.2,208.1M89.9,214.0L87.9,212.4L86.4,211.9L84.6,212.2M96.1,188.6L94.8,186.4M99.2,191.7L99.1,193.3L98.8,195.8L97.9,198.1M101.9,187.7L103.8,185.9M102.7,197.2L104.1,196.7M84.3,215.9M128.0,207.2L129.5,207.3"/>
<path stroke="#b5d335" d="M91.3,207.9L90.6,206.5L91.8,204.2M116.4,209.3L114.7,208.9M90.7,196.3L92.7,196.7L94.0,195.8M131.1,208.5L133.2,208.4L134.5,209.4L136.1,211.4L135.9,213.7M112.0,195.6L111.1,194.5L110.4,192.8L110.0,191.4M125.8,204.1L126.4,206.0M107.1,186.8L107.3,185.1L106.9,182.7L107.3,181.2L108.2,178.9M135.5,210.2L135.8,212.3L134.2,214.3M123.7,218.4L122.1,217.8M93.5,204.0L91.9,202.6L91.0,200.7L89.6,199.2M115.7,181.5L113.8,182.5L111.8,181.8L109.8,183.0L108.7,185.3"/>
<path stroke="#e2262a" d="M109.8,182.8L108.0,184.1L107.1,186.5L105.5,187.0M96.5,196.9L97.4,198.5L98.7,200.6M123.3,206.8L121.5,208.1L119.5,208.6"/>
<path stroke="#f29d22" d="M131.6,211.2L130.1,209.7L129.8,207.5L130.3,205.7L131.2,204.4M133.2,211.8L131.8,211.0L131.0,208.7L130.5,206.2M119.2,207.0L120.0,205.4L122.0,203.9"/>
</g>
</g></g>
<g filter="url(#wsh)"><g mask="url(#hm1)">
<g filter="url(#wsh2)" stroke-linecap="round" stroke-linejoin="round" fill="none" stroke-width="1.3">
<path stroke="#b5d335" d="M195.6,210.8L197.0,211.4L199.0,210.7L200.9,209.9M196.9,211.9L195.3,212.6L193.9,213.6L193.0,215.2M197.3,226.9L199.2,228.7L200.0,230.7M166.8,187.6L166.8,186.0M193.1,179.9L191.3,180.2L189.2,181.0L187.5,181.4L185.0,180.9M179.8,193.3L178.0,192.3M198.7,205.8L197.1,205.2L195.6,204.6L194.3,205.2L192.6,206.6M177.2,192.9L177.0,194.6M181.1,183.9L180.2,181.9L179.5,180.0L177.7,178.6M164.8,188.5L166.5,189.1L168.5,190.1L170.6,190.2L172.9,190.9M164.2,197.7L164.5,196.1M188.9,208.6L186.8,207.7L185.5,205.6L185.4,203.4L186.2,201.6"/>
<path stroke="#5bba47" d="M170.2,211.3L168.4,210.0L165.9,209.9M178.3,191.8L179.5,193.3L181.4,193.5M195.7,218.9L193.9,220.4L191.9,221.6M185.4,198.7L185.5,196.3M192.6,203.0L194.0,201.3L195.6,200.4M161.2,198.0L159.5,197.4M166.4,203.1L167.3,201.5L168.5,199.4M159.8,219.2L161.6,219.8L163.2,218.9"/>
<path stroke="#e8e01e" d="M160.7,203.9L159.1,202.7L156.6,203.3M186.5,213.5M191.9,218.1L193.6,216.4M195.4,197.0L194.9,195.6L194.4,193.8L195.5,191.9M188.9,186.0L190.5,185.8L191.5,184.3L192.9,183.4M187.8,192.0L186.2,193.0M152.2,210.9M166.2,207.6L167.3,209.1L167.0,211.0L165.2,212.3M201.9,215.9L200.3,215.9M162.0,217.5L163.6,219.3L163.7,221.8L163.0,223.3L162.9,224.8M192.8,215.4L191.9,214.1M168.4,199.9L167.6,201.2M190.7,217.6L189.1,216.7L188.5,214.5M168.3,199.1L170.2,199.0M198.8,214.3L199.9,212.1L199.4,210.4L197.8,209.3L195.6,209.7M161.8,208.3L164.1,208.7L165.3,210.2L167.6,210.3M197.4,230.1L197.2,227.6L196.5,225.8L195.6,224.6L195.1,222.5M198.6,218.6L199.5,216.8L201.4,215.8M182.4,198.4L183.2,196.3L183.7,194.8L184.5,192.3L185.1,190.3M163.8,213.8L162.3,213.5L160.5,213.4L158.3,214.3L156.9,215.7M186.0,184.4L185.4,186.5L185.5,189.0L185.1,190.8M183.4,192.7L185.5,192.0"/>
<path stroke="#6cbf45" d="M199.5,209.5L200.9,210.1L202.5,209.4M156.1,199.3L156.9,197.5L158.4,196.9M198.7,228.1L198.2,226.6M194.3,181.9L195.7,180.3M190.8,182.1L189.3,181.8L187.4,183.0L186.7,185.2L186.3,187.5M167.8,189.4L167.3,187.8L166.9,186.3L165.6,184.3M184.7,182.8L185.9,181.9L187.0,181.0L188.1,179.7L189.6,179.1"/>
<path stroke="#8cc63f" d="M202.4,225.0L202.1,223.6L201.1,222.2M188.0,179.5M167.4,201.2L166.4,200.1L165.4,199.0L164.5,197.7L163.4,196.3M205.5,229.3M203.0,214.7L202.0,216.7M190.5,209.8L188.6,210.7L186.1,210.5M166.1,205.0L164.5,203.7L164.5,202.3L165.5,201.1M170.7,206.9L169.7,205.3L168.9,203.3M164.2,208.1L164.4,206.3L163.3,204.6L161.7,204.3L160.3,203.7M181.0,185.7L181.5,184.1L180.7,182.6L179.8,180.7M198.4,229.5L198.2,227.1L197.8,224.9L197.2,222.7L195.9,221.8M187.4,208.0L185.2,207.7M195.4,186.9L196.3,184.7M194.2,219.0L191.9,218.0L191.5,216.5L190.3,214.4L188.9,213.9M205.6,223.2M163.9,194.3L162.0,195.7L160.1,195.3L157.8,196.3L156.1,195.5M154.4,220.9M160.6,222.1L160.8,220.3L159.8,218.8L158.1,217.1L157.1,215.9"/>
<path stroke="#2fa848" d="M166.2,210.2L164.5,209.2L163.2,207.2M168.2,183.2L166.5,184.9L165.3,186.7M187.6,212.2L188.7,214.0L188.9,215.6L188.7,217.2M163.1,197.6L160.9,197.6L159.8,196.2L157.9,195.4L155.8,196.4M164.4,223.3M196.3,193.1L198.0,194.0L198.6,196.5L198.3,198.0"/>
<path stroke="#e2262a" d="M159.6,221.4L160.4,222.9M160.4,198.1L160.1,199.9L161.1,201.8L162.1,204.1M193.1,219.2L195.1,218.6L195.9,217.5L196.3,215.3M190.3,188.7L192.2,187.5L193.1,185.3M165.0,213.8L166.8,212.3M173.3,185.5L175.2,184.6L177.4,184.3L179.9,184.9L181.9,185.1M171.4,201.0L171.9,199.1"/>
<path stroke="#111111" d="M198.3,196.4L199.2,197.9L198.5,200.4L199.4,202.7M185.6,199.9L187.5,201.3L189.1,202.3L190.8,202.3"/>
<path stroke="#f29d22" d="M198.5,214.3L197.0,215.3L196.8,217.2M202.7,225.0L203.4,227.2L204.7,228.1M199.3,210.1L199.9,211.5L200.0,213.6M205.2,227.3L205.9,225.1M169.4,198.1L170.5,199.8M152.8,201.2L154.4,202.6L154.5,204.3L154.2,206.6L154.2,208.6"/>
<path stroke="#3cb44a" d="M194.8,201.2L193.6,202.2L191.7,203.7L191.1,205.7M175.2,193.1L175.6,191.2L175.2,189.5L174.6,187.7M194.9,222.6L193.6,222.0L193.1,220.1M158.1,210.9L159.4,209.9L161.0,208.3M165.0,208.4L163.8,206.9L162.5,205.4L162.5,203.4M190.7,221.8L192.7,222.1M201.6,216.7L203.4,216.2L204.3,214.4M168.4,187.7L169.1,189.0L170.3,190.4L171.7,191.5M185.8,209.5L187.7,208.8"/>
</g>
<g filter="url(#wsh2)" stroke-linecap="round" stroke-linejoin="round" fill="none" stroke-width="1.3">
<path stroke="#5bba47" d="M165.3,202.6L164.3,204.1L162.5,206.0L162.8,208.2L164.1,210.2M158.1,220.6L156.3,220.0L154.6,219.8M178.2,191.1L178.1,193.2L176.8,194.8L175.0,195.1L173.5,194.4M201.6,223.0L199.7,223.0L197.8,222.4L196.3,221.8M162.4,191.0L160.6,191.4M160.0,204.6L162.3,203.6L163.9,203.5L165.5,204.9L165.7,206.7M188.7,223.1"/>
<path stroke="#6cbf45" d="M185.4,180.4M180.1,187.9L178.3,188.2M166.0,184.4L166.3,182.8L164.9,180.9M196.7,198.5L198.2,197.5M165.1,221.8L163.5,222.4L161.2,221.9L158.7,222.3M198.5,219.8L197.7,221.3L196.3,222.0M168.5,176.9M193.5,177.4L196.0,177.0M170.8,189.4L168.9,188.9M156.5,219.9L157.6,218.6L158.3,216.8M191.4,203.1L189.1,204.2L187.1,204.0L185.4,204.0M164.0,201.7L164.2,199.3L164.5,197.4"/>
<path stroke="#8cc63f" d="M157.5,195.7L155.2,196.4L153.7,197.4L153.1,198.9L152.6,200.5M169.8,178.2L168.1,178.1M188.0,199.6L189.5,200.2L190.6,201.4L190.4,203.9L190.5,206.2M160.8,191.0L162.9,191.8L163.7,192.9M168.5,181.4L168.1,179.1L167.2,177.1M169.9,178.8L168.2,178.3L166.5,176.4M202.3,212.5L204.5,212.2M163.4,192.6L163.9,194.3M192.8,176.7M194.8,222.3L195.7,220.9L196.2,218.6M201.7,215.6L202.7,214.2L205.0,213.1M168.8,187.7L169.8,188.7L170.0,190.8M159.5,205.4L161.0,204.2L163.1,203.0M203.9,215.1L205.5,215.7M189.1,185.1L187.3,184.1L185.3,184.1M160.2,217.4L158.7,217.1L157.9,215.6M166.7,217.3L168.0,215.2L168.5,213.2M195.2,206.6L196.1,207.8L196.7,209.5M181.2,182.8L180.6,180.4L178.8,179.0M192.4,205.3L193.4,207.6L192.8,209.9M190.8,211.0L191.1,212.5L190.7,214.7M197.8,227.8L196.2,228.2L194.7,228.0"/>
<path stroke="#e2262a" d="M195.1,185.2L192.7,185.5L190.8,186.9L189.6,188.0M196.6,213.6L197.7,212.6L198.9,211.1L200.7,211.1M182.8,202.6L181.7,204.6M188.4,192.8L189.3,194.4L190.5,195.6L192.8,196.7M201.6,212.5L199.6,214.0L197.4,214.3L195.8,213.6L195.0,212.2"/>
<path stroke="#e8e01e" d="M195.0,199.8L194.6,198.4L195.0,197.1L195.9,194.6M163.1,202.3L161.6,202.0M153.4,206.2L154.9,206.8L156.7,206.2M174.1,197.4L173.6,199.0L174.7,201.4M152.9,214.1L152.4,215.8L152.8,217.4L154.1,218.5M180.8,202.5L182.4,202.1M174.0,196.5L172.1,197.1L170.2,197.4M180.1,187.1L179.3,185.4L178.1,183.9L176.9,182.1L176.6,180.5M185.4,179.9L183.2,179.6L181.0,180.8L178.8,181.7L177.6,183.4M158.4,213.2L160.3,211.9M199.3,199.6L200.2,198.0M187.3,204.1L186.6,201.8L186.2,200.0L185.4,198.8M197.9,218.0L197.6,216.6L197.7,214.8M156.8,202.0L156.4,203.9L154.5,205.1L152.6,206.0L151.0,206.2M168.0,210.4L165.8,211.3L164.0,211.9M188.7,216.2L188.9,217.8L190.6,219.1L192.2,218.8L194.8,218.6M187.8,190.0L188.9,188.7L189.6,187.0"/>
<path stroke="#2fa848" d="M186.0,213.8M164.0,223.4M163.0,201.6L161.4,202.8L159.5,204.0L158.6,205.5L156.9,206.2M157.0,198.1L158.8,198.1L161.0,197.7L162.4,196.5L162.5,195.0M193.9,228.0M190.0,216.2L191.6,216.2L193.3,214.5L193.7,212.9M182.2,195.4L181.6,193.7L181.8,191.5L182.6,190.3L183.0,188.7M179.4,179.4L177.9,180.7L175.5,181.6L174.5,182.8L172.7,182.8"/>
<path stroke="#111111" d="M204.7,222.0M166.4,207.8L165.7,209.1L166.3,210.8L165.7,212.2L163.6,213.1"/>
<path stroke="#b5d335" d="M154.7,212.6L152.3,212.9M181.5,180.8L183.3,179.2L185.0,179.3L187.3,179.7L188.7,178.8M175.5,197.8L177.3,198.1L178.4,197.2L180.1,195.9L182.2,194.6M155.6,218.2L157.4,217.2L158.2,215.8L157.8,214.1L158.6,212.9M196.3,227.1L195.6,229.0M181.7,200.2L182.2,198.2L182.0,196.1L182.2,193.9L182.6,192.0M201.9,230.6L201.3,228.2L200.1,226.9L197.9,226.3M174.3,185.5L174.4,187.6L175.6,189.8M168.0,201.5L165.7,201.8M190.1,203.4L188.5,202.7"/>
<path stroke="#3cb44a" d="M204.9,222.7L205.9,224.3M164.6,185.6L166.9,185.7L168.3,185.6M166.4,179.2L166.9,181.0M193.0,225.7L191.4,224.3M166.2,187.9L166.6,189.8L166.4,192.4L166.2,194.0L166.8,196.4M197.8,212.3L198.0,210.2L198.5,207.9L199.1,205.4M178.1,194.3L175.7,194.3L173.3,195.1L171.1,195.7M204.0,213.5"/>
<path stroke="#f29d22" d="M187.2,214.7L187.7,216.1L189.2,218.0L190.1,219.9L191.3,221.8M166.2,216.6M189.2,219.4L190.7,220.7M193.1,198.5L192.5,200.9L190.7,202.6M161.8,210.1L161.2,212.2L159.5,213.1L158.9,215.2M150.9,208.1L152.7,206.7L153.7,205.6"/>
</g>
<g filter="url(#wsh2)" stroke-linecap="round" stroke-linejoin="round" fill="none" stroke-width="1.3">
<path stroke="#8cc63f" d="M178.5,202.2L179.8,201.1L181.5,200.9M152.6,211.8L154.0,210.2L155.5,209.7L156.9,210.4M157.2,200.9L158.1,199.5L157.7,197.5L157.1,195.0M151.2,214.8L152.9,215.1L154.1,214.4L155.9,214.3M173.5,197.4L172.8,196.0M163.0,219.5L161.0,220.3L158.7,220.5L156.6,219.6M164.2,183.7L164.2,181.8L164.6,179.7L166.4,178.0M184.9,190.4L187.4,190.2M183.8,199.1L185.8,198.0L186.7,196.2L188.4,194.4L188.3,192.9M202.9,230.4L201.3,230.0M168.5,188.3L167.6,190.7L165.8,191.4L164.6,192.9L164.3,195.1M167.4,203.1L169.1,201.9L170.1,200.1M173.1,184.6L171.1,183.1L169.0,182.7L167.0,182.0L165.3,182.6M180.6,198.3L181.5,196.4M166.7,192.3L164.7,193.0L163.1,192.6L161.5,192.5M158.5,200.2L159.0,201.9L159.8,203.3L160.0,205.3L160.2,207.1M179.1,197.0L177.3,198.0L176.1,199.2L174.3,200.1M184.7,191.2L184.3,189.5L183.8,187.7M196.4,181.5L196.0,179.3M162.5,211.5L163.7,210.3L165.5,208.9M178.4,202.7L176.9,201.0L176.9,199.5L175.1,197.6L174.6,195.7M176.1,192.0L176.1,193.7M166.1,195.2L165.8,192.7L164.7,191.8M165.0,194.0L163.5,192.5L161.7,192.0L160.4,190.9M204.9,219.6L203.5,221.0L202.4,222.3M154.6,203.8L155.9,202.8M155.7,199.5L156.1,198.1L155.8,196.4"/>
<path stroke="#e8e01e" d="M203.4,213.6M199.3,215.8L199.6,217.8M158.7,215.9L159.2,214.1L160.5,212.8M174.5,193.0L173.4,195.2M176.0,188.8L175.5,190.9L174.5,192.2L174.2,194.2L174.9,195.6M189.5,214.7L187.9,215.0L186.8,216.9M201.1,217.8L199.3,218.1L196.7,218.4L195.2,218.5L192.8,217.9M173.9,204.8L173.0,203.0L172.8,201.5M161.8,189.9L161.6,187.5M164.7,182.8L164.7,180.7M187.9,208.0L186.7,209.0L185.9,210.4M165.7,197.9L164.0,198.4L162.4,198.1L161.2,199.2L159.2,199.8M164.5,213.8L166.1,214.2M185.7,193.3L188.1,193.7L189.5,195.7L191.0,196.1L192.9,195.6M192.5,197.9L194.8,197.6L196.0,196.6M194.9,192.3L197.0,193.0M194.7,185.7L195.1,183.4L197.2,182.2M190.3,206.5L187.9,206.5L186.6,207.7L186.1,209.2L186.4,210.8M174.1,179.6L174.8,181.7L175.8,183.9L176.1,186.5L175.6,188.3"/>
<path stroke="#3cb44a" d="M204.3,219.7L203.3,217.9L203.1,216.4M172.3,184.2L174.5,185.5L174.9,187.4M200.6,210.7L202.4,209.4M167.0,207.8L165.9,209.6M150.9,209.6L152.1,211.4L153.6,211.6L155.3,211.0L156.8,209.9M186.0,194.8L184.0,194.7L182.3,194.3L180.6,193.1M193.9,179.7L192.7,180.7L190.9,180.6L189.6,181.9L188.9,184.0M169.2,179.9L167.4,179.2M160.4,211.0L158.1,210.8L156.5,210.8L155.0,212.5M155.2,205.1L154.9,202.6"/>
<path stroke="#f29d22" d="M184.8,202.4L184.5,203.9L184.4,206.2M174.0,200.7L174.8,202.8M185.6,208.3L185.6,206.4L185.8,204.9L184.2,202.9L184.7,200.8M181.4,196.7L183.5,195.4L185.5,193.9L187.2,192.8L188.2,191.2M161.5,190.3L162.6,188.2L164.0,187.2L164.2,185.0L165.0,183.6M171.5,200.1L172.8,198.4M174.0,184.2L175.4,186.2M177.1,182.3L177.9,184.2L177.1,185.6M203.6,211.1L202.0,212.6L200.4,213.3L198.3,213.4L197.1,212.3M175.6,185.1L177.6,185.6L179.9,186.5L181.3,187.8M159.0,221.8L157.6,223.7L157.0,225.3"/>
<path stroke="#5bba47" d="M173.5,194.3L172.8,196.3L170.8,197.7L168.9,198.1M189.7,215.6L189.0,213.4L190.0,211.7L191.2,209.7M158.8,200.6L158.0,198.6L159.0,196.6L158.4,194.1M189.4,180.6L190.0,182.0L191.1,183.2L193.2,183.6M187.2,193.6L185.9,191.6L184.7,190.3L184.1,188.1L182.9,186.2M177.7,191.4L176.7,193.5L174.9,194.6L174.4,196.0M166.3,198.9L168.0,199.7L169.3,200.4L170.1,202.1M182.6,180.7L180.8,182.5L179.5,183.0L178.0,182.5"/>
<path stroke="#6cbf45" d="M194.3,210.3L192.1,209.8M186.5,212.9L185.8,214.6M158.8,219.1L158.5,217.2L156.6,215.5L154.7,214.3L153.9,212.3M158.5,204.4L156.4,203.2L154.6,202.2L153.2,200.1M160.4,205.8L159.1,205.2M198.6,209.3L200.0,209.0L201.3,209.6M166.2,196.1L167.0,193.9L166.1,191.8"/>
<path stroke="#111111" d="M154.4,214.6L153.4,212.4L154.2,210.1L155.3,208.1L155.0,205.8M173.2,205.1L174.2,203.9"/>
<path stroke="#e2262a" d="M192.4,185.3L192.6,187.6L194.4,189.2M195.0,219.3L195.6,216.8L195.0,214.4M178.7,186.6L177.3,185.4"/>
<path stroke="#b5d335" d="M184.7,200.4L186.5,199.9M174.7,185.3L173.3,183.4L173.1,181.9L172.2,179.7M156.7,216.1L158.8,215.1"/>
<path stroke="#2fa848" d="M168.8,181.1L168.9,182.8M163.1,197.5L163.5,195.7M180.4,204.3L180.7,202.3L180.0,200.6L180.3,198.2L179.8,196.3M167.3,210.3L165.4,210.8M166.6,192.6L164.9,192.9L163.0,194.3L161.2,195.8M196.2,196.9L197.5,197.9L198.8,199.2M183.7,198.8L182.2,198.6L179.8,197.8L178.6,196.4L178.6,194.9"/>
</g>
</g></g>
<g filter="url(#wsh)"><g mask="url(#hm2)">
<g filter="url(#wsh2)" stroke-linecap="round" stroke-linejoin="round" fill="none" stroke-width="1.3">
<path stroke="#f29d22" d="M270.0,215.4L271.8,216.9L273.8,218.3M261.2,184.7L261.3,186.9M251.1,194.8L251.6,197.3L252.4,199.5L252.9,201.0L252.3,202.3M237.3,214.1L238.6,215.5"/>
<path stroke="#e8e01e" d="M229.6,222.0L229.2,223.6L229.1,225.2L229.3,227.8L230.1,229.1M262.7,190.5L264.3,191.6L264.5,193.1M233.3,194.1L235.1,192.9L235.9,191.6M271.5,228.0L272.1,229.3L273.5,230.2M263.5,204.1L261.7,204.2M235.7,214.4L237.3,214.7L238.5,215.7M225.8,207.4L226.1,209.4L225.0,211.2L225.2,213.6L226.7,215.5M262.0,202.1L260.9,203.3L260.9,205.6L260.5,207.0M273.6,230.1L275.4,229.8L277.1,227.9L278.0,226.4L279.4,224.5M243.7,204.3L246.1,204.5L247.1,205.8M222.6,218.6L223.4,219.8L222.9,221.6M265.5,189.6L263.5,189.8M260.5,208.6L261.8,207.1L264.1,206.7L266.4,207.6M259.2,206.5L257.1,205.7M246.3,203.5L245.5,205.2M261.6,182.3L261.1,184.3L261.8,186.7M223.5,211.1L221.9,211.1M233.3,190.9M257.8,181.0L257.6,183.0L259.1,184.6L259.0,186.6M264.8,187.3L263.4,186.8L261.7,184.9L259.6,184.4L258.0,182.7M235.4,199.9L237.2,200.3L238.9,202.2L240.6,203.9"/>
<path stroke="#b5d335" d="M227.5,217.2L225.8,216.8M221.7,214.4M262.1,206.4L263.6,207.4L265.0,208.4L266.8,209.7M245.6,197.4L248.0,196.6M235.3,194.0L237.0,194.8L237.6,197.1L236.7,198.4M265.8,202.1L266.7,200.1L266.6,198.3"/>
<path stroke="#6cbf45" d="M247.9,191.2L249.9,191.6L251.9,190.5M275.5,232.4L274.8,230.6M243.6,189.0L245.4,190.4L247.6,190.3L248.6,189.3M249.2,186.2L251.6,186.3L253.4,185.7M271.7,200.9M235.8,221.0L237.2,220.2M260.0,193.6L261.6,194.0L263.4,194.9"/>
<path stroke="#3cb44a" d="M266.5,216.7L267.1,214.3L266.4,212.7L265.6,211.0L266.2,209.5M232.7,197.9L234.8,197.2L236.2,197.4L238.3,197.3L239.7,198.2M246.2,197.0L244.5,195.9L242.9,195.6L241.3,196.1M253.4,202.3L252.0,202.3L250.0,203.8L248.4,204.1L246.1,203.0M240.2,175.8M242.3,193.5L240.3,193.2M272.4,222.0L274.3,222.0L276.7,223.0L278.5,222.3L279.4,221.0M238.2,178.0M229.3,220.9L231.8,221.4L233.8,220.6"/>
<path stroke="#5bba47" d="M269.2,223.7L270.1,221.9L272.2,221.2M242.0,177.1L242.6,179.5L244.7,180.4M260.6,208.6L258.9,209.9L258.0,211.8L256.8,213.2M239.3,206.3L237.4,206.9L235.1,206.4L233.5,206.7M274.5,233.8L273.8,232.4M226.2,202.4L226.1,200.8L226.9,199.4"/>
<path stroke="#8cc63f" d="M271.3,204.3L270.7,202.8M230.3,227.8L228.8,227.3L226.2,226.9L224.4,227.0M231.8,192.2M226.8,219.6L229.1,219.9L231.0,218.3L232.2,217.1L233.7,215.1M223.7,218.2L222.1,218.5M225.1,198.4M272.5,205.1L274.1,203.5M263.2,214.8L265.0,214.9M250.2,191.0L252.0,190.1L252.7,188.3L254.7,187.4L257.1,186.9M262.7,218.4L263.9,217.5M268.6,206.6L269.7,205.6M261.8,182.8L261.0,181.2M259.9,205.2L258.2,203.8"/>
<path stroke="#2fa848" d="M266.2,186.3L265.0,185.4L263.2,183.6L262.0,181.7L260.4,180.5M274.0,218.4L272.0,218.2L270.3,217.2M253.6,208.9L252.9,206.9L252.5,204.9L251.3,203.7M263.9,191.8L265.8,193.4L265.8,195.3M238.4,197.6L240.1,197.9L241.7,197.8M260.4,191.2L262.7,191.5L264.3,190.1M224.0,222.3L222.9,223.9M239.2,205.7L237.8,206.5L237.4,209.0M224.0,208.3L223.6,209.7"/>
</g>
<g filter="url(#wsh2)" stroke-linecap="round" stroke-linejoin="round" fill="none" stroke-width="1.3">
<path stroke="#2fa848" d="M264.1,218.5L265.4,219.8L265.6,221.9L264.9,223.6M268.6,210.6L266.6,209.0L265.1,208.3M236.5,214.7L234.9,213.6L234.2,212.0M264.5,217.6L262.8,216.6M262.3,209.4L260.9,208.3L259.2,207.2L258.4,205.6"/>
<path stroke="#6cbf45" d="M266.0,207.1L268.5,207.4L270.3,205.8L272.5,206.1M276.3,229.1L275.6,226.8M266.5,216.7L267.7,218.3L269.7,218.9L270.9,220.4M230.2,205.5L231.9,205.7M258.7,212.5L259.1,210.3L260.2,209.4L261.2,207.8M263.2,199.4L262.2,200.7L262.6,203.0L263.9,204.7M256.2,196.5L255.5,197.9M269.5,198.3L267.6,197.5M241.0,194.2L241.3,192.5L242.7,191.1L244.9,190.9"/>
<path stroke="#3cb44a" d="M233.9,223.7M251.2,186.7L251.7,185.0L250.6,183.2L248.9,181.3M260.0,194.5L262.2,193.4L263.8,191.5M273.7,225.1L275.7,225.3L277.6,226.8L278.0,228.3M250.7,194.2L252.7,194.1L254.6,195.0M254.0,208.5L255.1,206.5L255.0,203.9L254.9,201.8L255.2,200.3M275.9,220.2L278.3,219.4M223.2,223.6L224.0,225.8L224.2,227.5L224.4,229.0"/>
<path stroke="#f29d22" d="M273.3,216.1L271.8,216.9L270.3,217.2M248.6,194.5L250.7,195.6L251.2,197.7L252.2,198.8L253.5,199.6M242.0,209.4L243.7,208.5L245.0,209.1L246.7,208.3M233.4,207.1L233.1,209.4L233.4,210.8L233.5,212.5M251.1,195.5L250.3,196.8L250.4,198.9L251.4,200.7M272.6,217.7L272.2,215.9L272.4,214.5L273.5,213.4"/>
<path stroke="#e8e01e" d="M233.4,190.3M257.5,193.3L259.2,194.2M254.2,195.2L252.8,197.1L252.5,198.6M270.6,204.4L272.4,203.8L274.1,202.6M236.6,179.0M222.7,212.4L221.9,210.9M269.0,226.8L271.2,226.0M238.2,215.6L238.6,218.0L237.6,219.7M270.7,222.9L271.7,221.3L273.5,220.8M233.3,200.4L232.8,201.9M259.1,191.2L259.3,189.3M224.4,210.1L226.2,210.9L228.3,210.1L229.9,210.8M258.1,186.3L258.4,187.8"/>
<path stroke="#b5d335" d="M239.7,199.1L238.4,200.2L238.3,202.0M273.5,217.3L275.8,218.4M240.2,189.5L241.1,191.6L241.7,193.6M249.1,182.9L250.3,183.8L252.3,185.2L253.7,187.0M268.3,206.5L267.4,207.8L266.4,209.4M227.9,226.4L227.0,224.3L225.5,223.3L223.6,222.0M273.9,221.7L273.2,220.1L272.4,218.6L270.9,216.5"/>
<path stroke="#5bba47" d="M261.6,193.7L263.0,192.9L265.4,193.6L267.8,193.7M246.4,195.7L244.1,194.9L243.4,193.6L241.4,192.5M248.4,190.2L248.0,188.0L249.5,186.4L250.7,185.4M249.0,194.4L250.9,195.1M270.2,212.4L270.2,210.6"/>
<path stroke="#8cc63f" d="M227.7,221.7L229.4,220.3L230.9,218.1M229.6,195.1L227.4,194.1M238.0,196.2L236.5,197.5L235.2,198.5L234.3,199.7M276.0,229.9L277.7,230.9M264.6,190.9L262.8,191.3L260.8,191.3L259.3,191.9L256.9,192.8M260.3,192.7L261.1,194.4L260.6,196.8M261.8,198.1L260.6,197.1L258.6,196.1M236.2,205.6L237.8,207.5L239.8,208.3M245.5,198.9L244.8,197.6L244.8,196.1M224.7,222.0L225.9,221.2L226.4,219.6L228.7,218.7M278.9,222.8L279.1,221.0M245.5,200.6L246.0,198.5M223.3,215.5L222.3,217.4M266.3,185.7L267.1,184.2M231.1,201.0L232.0,202.1L233.5,203.0L234.8,204.2M270.5,222.7L268.6,222.3L266.6,223.1L265.9,224.5M256.1,191.4L254.3,192.6M267.7,193.0L265.8,192.9M265.1,199.4L266.1,200.5L267.3,202.6"/>
<path stroke="#111111" d="M275.6,219.4L277.0,220.6L278.0,222.0L278.8,223.5M270.4,199.1L269.8,200.8L268.5,202.6L266.4,203.2M268.5,193.2"/>
</g>
<g filter="url(#wsh2)" stroke-linecap="round" stroke-linejoin="round" fill="none" stroke-width="1.3">
<path stroke="#e8e01e" d="M270.0,228.7L271.5,230.0M248.7,189.3L247.7,190.9L246.3,191.4M227.3,199.4L225.7,197.6M255.3,186.3L256.7,186.1L258.4,187.2M227.3,199.1L224.8,198.9L223.6,199.9M238.0,213.5L239.9,214.4M242.7,178.1M272.9,215.3L272.3,217.3L270.8,218.9L268.4,219.3M261.5,196.8L262.1,199.1L263.5,200.3M231.6,192.7L229.9,193.6M244.1,191.4L245.6,190.4M259.2,189.1L260.0,191.0L259.2,193.0M243.5,209.5M265.4,221.4L263.9,221.9M228.5,217.6L229.8,216.0"/>
<path stroke="#8cc63f" d="M238.4,209.0L238.5,210.8L239.1,213.1M269.0,213.7L267.0,214.0L265.0,213.0L262.7,212.8M241.5,189.3L242.9,187.6L242.9,185.7M275.2,219.4L277.7,218.6M250.1,207.3L250.7,209.5M263.7,200.0L265.0,200.6L267.3,201.1M224.0,210.5L222.3,209.3M228.8,217.1L227.3,218.2L225.9,218.1L223.6,219.3M247.7,190.5L249.5,191.5L250.3,193.6M247.6,190.6L246.5,191.8M230.5,194.5L231.6,193.5L233.6,193.8M258.7,207.7L260.7,208.1L261.8,210.0L262.0,211.6L261.7,214.2M243.0,199.2L244.0,198.0L246.0,196.4M236.2,193.7L238.6,194.5L240.3,194.9M267.8,195.9L268.3,197.4L268.0,199.5L266.6,201.6L265.6,203.2M263.7,216.7L262.3,218.3M242.8,177.7M223.8,227.5M271.8,203.3L271.9,201.2L271.8,199.7M268.0,224.5L267.1,225.6L267.0,227.5"/>
<path stroke="#6cbf45" d="M265.8,213.8L267.9,214.9L270.2,214.7M253.3,194.4L251.5,195.6L249.4,195.4M226.7,216.8L228.0,218.9L229.8,220.0L230.7,222.2M239.7,187.5L240.4,189.5L239.8,191.1M269.5,217.9L268.7,216.5L266.9,216.3L265.1,214.6M255.1,184.2L256.6,184.2L257.9,183.0L259.1,181.0L261.0,179.5M270.6,231.8M260.5,179.0L260.1,180.7L259.7,182.9L260.9,184.5L262.6,185.2M275.9,214.1L277.8,214.4"/>
<path stroke="#b5d335" d="M228.8,204.4L226.2,204.4L224.9,205.5L223.6,207.7M239.2,184.6L237.3,184.6L236.0,183.8M231.7,225.3L229.7,224.9L227.9,226.5L226.8,228.8M253.7,193.1L254.5,194.6L255.0,196.4L256.8,197.7L258.0,198.5M268.1,228.9L267.1,227.2M275.4,220.2L277.2,220.6L278.9,220.7M241.9,212.2L240.9,210.3L240.3,208.2L238.1,206.9M263.6,214.6L264.1,216.9L265.1,218.7L264.8,220.5M264.8,205.5L266.6,204.0L266.8,202.0L265.8,199.9L264.6,198.7M238.7,203.1L238.7,204.6L239.2,205.9L239.5,207.3L239.6,209.4"/>
<path stroke="#3cb44a" d="M238.0,204.3L239.1,206.4M260.9,195.4L261.1,193.7M250.5,207.5L251.2,205.4L250.5,203.9L248.9,203.2L247.4,202.4M278.5,218.9M267.1,194.5L268.3,196.0L269.5,197.3"/>
<path stroke="#e2262a" d="M251.5,201.1L251.9,199.6L250.8,197.9"/>
<path stroke="#f29d22" d="M249.0,207.8L247.1,208.1L244.7,208.5L243.4,209.3L241.5,209.7M232.3,206.2L230.6,207.5L229.1,207.6M244.3,210.1L245.0,207.9L245.5,206.4M272.8,215.3L271.1,216.8"/>
<path stroke="#111111" d="M248.2,182.5L248.7,184.1M271.4,222.6L272.6,224.3"/>
<path stroke="#2fa848" d="M229.9,217.3L231.4,216.7L232.7,215.0M267.7,217.6L269.2,219.1L271.3,219.0L273.8,219.9M236.9,213.3L235.3,213.1L233.7,214.4M224.3,219.3L226.1,218.3M229.2,230.0L228.3,227.8L226.9,226.6"/>
<path stroke="#5bba47" d="M242.7,203.5L241.0,204.4L239.4,204.5L238.0,204.4L236.1,203.0M252.8,201.2L254.8,202.0L256.4,203.3L257.1,205.3M262.0,200.9L264.1,199.7L265.6,198.6M244.4,202.4L247.0,202.3L248.9,200.9L249.9,199.3L251.8,198.7"/>
</g>
</g></g>
<g filter="url(#wsh)"><g mask="url(#hm3)">
<g filter="url(#wsh2)" stroke-linecap="round" stroke-linejoin="round" fill="none" stroke-width="1.3">
<path stroke="#2fa848" d="M84.4,267.8L86.2,268.3L87.4,269.8L87.8,271.2L88.3,272.6M119.6,267.4L120.7,269.1M127.4,272.6L129.6,273.2L131.5,274.4L131.8,276.3M102.3,272.7L101.0,273.7L99.4,275.5M116.8,266.8L118.9,268.0L120.2,269.6M125.5,278.9L127.0,277.1L129.0,276.1L130.5,274.9"/>
<path stroke="#e8e01e" d="M92.7,259.0L93.8,260.0L94.5,261.3L95.3,262.5L96.7,263.0M116.1,258.7L118.6,259.3L120.3,258.7L121.7,259.1L123.9,260.1M130.1,291.8L132.0,292.3L133.5,292.1M123.8,285.0L125.9,286.4L128.3,286.3L129.9,286.8M129.2,285.6L128.0,287.5L126.6,289.5M130.3,274.5L130.5,272.8M113.2,262.9L114.1,260.5M86.8,264.4L87.6,262.0L87.4,260.5M128.6,303.8L130.1,304.0M107.6,261.7L108.8,263.7L109.4,265.0L109.2,267.1M117.3,249.3M116.8,249.6M124.9,281.4L126.6,280.9M94.5,283.9L92.9,283.4L90.8,284.1L88.9,284.1M131.1,274.1L132.3,276.1"/>
<path stroke="#b5d335" d="M118.1,265.5L116.1,266.4M124.5,270.0L124.5,272.2L124.4,274.6L123.3,275.6L122.2,276.5M123.9,289.9L125.0,288.6L126.5,288.6L128.2,287.9M117.2,284.0L116.2,282.8M125.5,293.1L124.1,294.1M124.3,290.0L124.4,288.3L123.3,286.7M132.6,304.5L131.6,303.3M124.4,285.9L122.6,285.9M95.4,272.9L93.3,273.5L91.8,273.3L90.7,272.1L89.0,271.3"/>
<path stroke="#8cc63f" d="M103.5,262.1L105.5,260.6L107.1,259.6L107.9,258.3M120.6,293.9L121.3,295.5M90.4,259.2L92.2,259.9L93.6,259.5L95.8,258.3L97.9,257.9M119.2,268.6L118.4,266.6L117.9,264.1M108.0,265.7L108.6,267.3L107.7,269.1M123.9,255.5L125.6,256.4M91.8,266.4L94.3,266.8L96.8,267.0L98.5,267.0L99.7,265.9M126.7,254.3L124.6,254.2L122.9,253.8M109.9,261.1L110.6,262.6L112.1,264.0L112.6,266.2L112.6,268.0M106.3,268.6L107.7,270.2L108.4,271.5L109.7,272.8L111.7,273.3M115.7,277.8L113.7,277.5M88.0,273.6L89.9,273.8L91.7,273.9L93.8,274.6M94.6,283.2M105.3,267.1L106.4,269.3L107.4,270.6L108.9,272.1"/>
<path stroke="#6cbf45" d="M113.8,264.3L113.2,265.7L114.3,268.0L114.1,270.4L113.0,271.5M121.0,264.8L122.2,262.9L123.2,261.9L123.5,259.6M122.9,248.6L122.1,246.6M116.8,278.3L119.0,279.2M85.6,281.3L84.6,283.0M120.1,260.1L118.1,260.7L116.0,262.0L115.1,263.3L113.8,264.4"/>
<path stroke="#e2262a" d="M117.2,250.6L115.8,252.8M107.8,255.4L107.3,257.0L106.1,257.8L104.0,258.3L101.7,257.2M90.2,287.1"/>
<path stroke="#5bba47" d="M111.8,263.9L113.5,264.9M91.2,277.2L90.4,278.4L90.6,280.9L91.0,282.3M125.3,258.9L123.5,260.0L122.0,261.4M107.2,261.7L109.7,261.4L111.7,260.7"/>
<path stroke="#3cb44a" d="M86.2,274.1L87.8,275.6L89.4,275.4L91.6,276.3L93.3,276.3M122.7,258.6L121.8,257.5L121.5,254.9L121.2,253.2M121.0,278.4L121.7,280.0M119.9,247.4M134.5,296.5L135.2,297.9L134.7,299.9L133.5,301.9L133.4,303.6M88.9,281.5L91.1,280.7M123.3,254.0L125.7,254.4M131.5,297.1L133.9,297.9M129.9,289.6L128.3,288.1L126.3,287.9L124.4,289.5L122.7,289.9M117.8,282.9L118.7,284.1L118.5,286.0M129.6,269.9L128.1,270.9L126.0,270.4L124.1,269.9L121.9,269.0M119.8,293.5L119.8,291.4L120.8,289.5"/>
<path stroke="#111111" d="M100.3,263.7L100.9,265.7M110.9,273.6L112.4,273.0L114.2,271.7"/>
</g>
<g filter="url(#wsh2)" stroke-linecap="round" stroke-linejoin="round" fill="none" stroke-width="1.3">
<path stroke="#6cbf45" d="M121.9,262.5L122.3,264.5L123.8,265.3M128.3,269.8L126.7,269.7L125.0,269.5L122.9,270.2L121.9,271.4M126.2,268.3L127.1,269.9M94.4,258.8L93.6,260.4M110.6,265.9L109.4,266.8M91.8,261.2L91.7,263.5L90.8,264.8L89.7,265.9M104.1,254.5L102.9,252.8L101.1,251.7"/>
<path stroke="#e8e01e" d="M131.9,275.3M93.0,268.0L91.9,270.1L90.7,271.0M124.7,257.6L124.0,258.8L124.4,261.2M124.3,270.6L126.1,270.4L127.5,268.2L128.7,266.9M82.6,266.5L81.9,267.7L82.1,269.1L80.9,270.7M98.2,269.9L99.2,271.8M103.6,261.3L103.9,259.2L102.9,257.1L103.5,254.9L102.6,253.3M92.1,264.2L90.5,265.5"/>
<path stroke="#2fa848" d="M124.4,277.3L126.1,276.6L127.5,275.3L130.0,275.1L132.0,276.6M106.1,258.3L106.9,260.4L107.0,262.2M81.8,274.8L83.6,274.6M119.0,267.2L117.8,268.2M95.5,278.3L97.2,276.8L99.1,275.2M116.5,258.9L115.8,260.3L114.6,261.5L114.5,263.2L114.7,264.7M100.5,252.7L100.8,254.8L99.9,257.1L99.2,259.3L97.6,260.5M119.6,273.9L117.1,273.3L115.2,273.7L113.8,273.1L112.3,271.6M93.3,272.8L92.9,275.1L92.1,276.8L90.0,277.8M109.6,265.7L107.6,266.1L105.2,265.4L103.8,265.3L101.8,265.9M123.3,253.0L121.4,253.9M96.7,279.5L97.8,277.8L97.4,275.6L97.0,273.8L97.0,271.4M102.1,259.7L103.4,261.0L105.1,261.7M84.3,264.7L82.4,263.8M115.4,267.8L116.7,268.8L118.2,270.6"/>
<path stroke="#8cc63f" d="M111.0,268.5L110.4,270.5M127.0,266.4L125.6,265.7L124.0,264.7L122.7,263.6L121.5,261.9M115.8,276.7L114.4,278.0L112.8,278.0M98.5,270.1L98.4,271.5L99.1,272.9M83.6,288.0L84.8,286.9L85.5,285.0L86.4,282.7M109.2,266.6L110.5,265.4L112.3,264.7L114.4,265.2M87.1,282.3L85.2,283.5L84.2,284.8L83.2,286.2M95.4,281.1L93.8,281.1M83.0,286.9L82.1,285.1L82.0,283.3L82.9,281.2M83.9,264.5L85.6,264.0L87.3,264.3L89.0,263.4L90.0,262.3M111.4,254.2L109.4,255.2M121.1,280.7L123.1,281.1L124.1,282.4L125.7,282.9M84.6,283.0L83.6,284.8M108.7,270.3L110.2,269.4M124.3,257.9L123.0,256.7L122.2,255.5M127.7,268.0L125.2,267.3L124.0,265.4L122.5,265.0M109.3,271.0L107.9,270.8L106.2,271.8L104.4,272.5"/>
<path stroke="#111111" d="M107.5,253.6L109.0,252.4L111.2,251.2M129.9,281.1L131.9,280.9L133.1,279.2"/>
<path stroke="#3cb44a" d="M120.2,294.7L122.4,293.8L123.8,292.0M131.4,274.5L129.7,273.2L127.2,272.7L125.4,271.1M93.2,255.8L94.6,253.9M111.4,269.1L111.2,266.5M97.1,269.1L95.5,268.8L93.8,267.0M127.8,277.1L130.0,278.1M95.7,264.8L97.0,265.8"/>
<path stroke="#e2262a" d="M126.5,259.6M120.5,252.3L118.8,253.1L117.7,254.6L115.8,255.0M120.9,251.6L119.2,251.4L117.3,252.4L115.5,254.1L113.3,254.3"/>
<path stroke="#5bba47" d="M125.9,255.7L124.9,254.5L124.4,252.6L123.0,250.6L121.6,249.5M90.7,269.4L91.6,267.0L93.7,265.7L94.6,263.9L94.3,261.9M118.6,263.9L119.0,262.0L121.0,260.6L122.8,260.0L125.2,259.2M107.4,258.3L109.2,257.8L111.7,257.1L113.2,257.3L114.5,259.5M110.8,258.3L110.6,260.6L111.6,262.9L110.8,264.4M123.5,251.0L121.2,250.7L119.1,249.3"/>
<path stroke="#f29d22" d="M93.0,285.4M132.2,273.6"/>
<path stroke="#b5d335" d="M83.7,283.7L84.7,281.9L85.1,279.9M103.1,261.8L101.0,262.3L99.4,262.2L97.9,262.8M120.7,290.3L122.8,289.3L124.3,288.7L126.6,287.9M118.7,277.6L121.2,277.1L122.5,275.4"/>
</g>
<g filter="url(#wsh2)" stroke-linecap="round" stroke-linejoin="round" fill="none" stroke-width="1.3">
<path stroke="#3cb44a" d="M89.9,264.3L89.1,262.9L86.7,262.0L85.2,260.6M86.5,275.4L87.8,276.7L90.1,277.2L91.5,276.0L91.7,274.2M126.1,287.6L124.1,286.0L121.8,284.9L119.4,285.7L118.3,287.2M101.0,262.0L103.6,262.0L105.2,260.4L106.6,259.5M123.5,297.8L125.5,296.1L126.8,294.0L127.3,291.9M113.2,268.8L112.7,270.2M79.5,278.0L81.6,277.3"/>
<path stroke="#e8e01e" d="M98.9,263.7L100.5,262.5M85.6,265.0L83.9,263.4M128.5,280.0L130.4,280.9L131.5,282.5L132.5,284.9L133.6,286.2M87.1,268.7L86.6,270.8L86.1,272.8M132.4,274.4M112.6,257.5L113.8,256.3L116.2,255.9L118.2,256.4M85.8,285.3L87.3,284.4L89.2,282.7M104.8,250.5M91.4,263.0L93.2,261.3L94.5,259.1L96.7,258.6M124.4,287.9L122.5,286.9L120.9,285.5L119.2,285.8L116.9,284.8M117.3,251.4L115.4,251.5L112.9,251.8L111.4,253.0"/>
<path stroke="#6cbf45" d="M121.6,259.7L122.4,261.2L124.1,262.9L124.4,264.6L125.7,265.6M100.1,256.8L98.1,257.8L97.1,259.7L97.1,261.2M83.5,270.6L83.0,268.8L83.0,266.7M87.2,279.2L85.5,277.2M122.7,255.5L125.1,255.5L127.1,255.3M90.1,262.7L88.7,262.3L87.1,260.5M120.8,279.9L120.2,278.3L119.1,276.3L116.9,275.0L114.4,274.8M98.9,268.9L100.3,266.8L102.2,265.8L103.8,264.8L104.2,263.3M124.7,252.7L124.8,250.3"/>
<path stroke="#2fa848" d="M130.0,302.6M118.1,281.2L115.9,282.2M120.1,250.0L122.0,249.8M124.4,286.5L125.3,287.7L125.8,289.1L127.4,291.0M119.3,260.4L119.6,262.9L120.4,264.8L121.7,266.8M86.1,276.8L85.6,275.2M87.2,266.8L88.4,265.0L88.0,263.2L87.1,261.5L87.0,260.0M116.8,263.9L117.4,266.1M104.5,271.9M127.3,279.8L127.8,281.7L126.4,283.6L125.6,285.4M83.2,282.9L81.9,282.2L80.1,281.7M119.7,282.7L118.4,283.9L116.3,284.1M116.7,282.2"/>
<path stroke="#5bba47" d="M130.1,290.4L130.5,291.8L132.2,293.5L134.4,293.8L135.6,295.2M118.2,248.4L116.8,249.9L114.8,251.2L113.0,251.5L111.1,251.6M92.0,266.3L93.4,267.8L94.9,268.0L97.1,267.2M122.3,260.4L123.8,259.8M93.1,270.1L92.1,272.2L90.0,273.3M83.3,264.7L82.3,266.2L82.0,267.8M124.5,275.2L126.2,274.6L127.3,273.1L127.6,271.7L126.7,270.2"/>
<path stroke="#8cc63f" d="M123.7,281.5L124.6,280.3M93.6,269.5L95.6,269.6L97.2,270.3M101.0,253.6L101.7,251.7L101.6,250.0M98.8,259.1L100.7,257.9L101.8,257.0M131.4,277.8L129.0,278.5M83.8,286.9L83.9,285.2L85.2,284.1M94.3,273.8L95.7,273.5M83.7,281.7L85.7,282.9L86.3,285.1M119.9,261.0L121.5,259.3M89.8,271.0L88.3,272.2L87.7,274.1M100.7,258.2L98.2,258.0L96.3,256.9L95.6,255.6L95.6,253.7M130.6,293.3L129.5,292.5M126.7,273.2L128.8,274.0L130.3,274.0M116.1,277.8L116.0,279.3"/>
<path stroke="#b5d335" d="M97.6,270.2L98.9,268.9L101.2,267.6M112.9,268.0L113.2,266.1M98.0,261.8L100.1,263.3M121.3,276.2L120.7,278.6L121.4,280.8L122.6,282.0L123.0,283.6M84.7,280.5L87.2,280.2L89.7,281.0L91.7,281.0L93.8,281.7M116.9,285.0"/>
<path stroke="#111111" d="M105.0,270.4L104.6,269.0L103.8,267.8L103.0,265.8M126.8,270.2L127.3,268.3L128.0,266.0"/>
<path stroke="#e2262a" d="M89.9,285.6L91.4,287.1M90.9,270.4L88.8,271.2"/>
</g>
</g></g>
<g filter="url(#wsh)"><g mask="url(#hm4)">
<g filter="url(#wsh2)" stroke-linecap="round" stroke-linejoin="round" fill="none" stroke-width="1.3">
<path stroke="#8cc63f" d="M187.7,260.0L186.0,260.5L184.1,260.5M158.8,283.2L156.9,282.6L155.0,282.9L154.0,284.2L154.1,285.9M176.4,255.0L174.8,254.7L172.7,255.7M154.2,273.1M192.0,286.3L192.8,288.1L195.1,289.3L196.6,290.8L197.7,292.2M181.0,263.3L183.4,262.3L185.3,261.2L186.9,260.0L188.3,258.0M201.3,289.6L199.6,291.4L199.3,293.8L197.8,294.7M164.3,276.7L165.1,274.7M168.8,277.0L167.4,278.1M150.3,277.3L149.6,278.6M163.7,275.9L165.7,275.9L168.0,275.2L169.7,275.0L171.3,274.7M166.5,261.4L166.5,259.9L165.8,258.3L164.8,256.5L164.2,254.7M151.6,277.4L150.9,279.6L149.2,280.2M153.9,292.6L152.8,291.0L151.6,290.2L151.2,288.8L150.9,286.5M199.7,256.8L199.5,259.1L200.0,260.7L199.1,262.3L199.5,263.7M194.1,249.2L192.4,249.5L190.6,248.7M164.6,270.0L163.3,270.9M186.8,277.0L187.7,279.2M149.3,278.9L149.5,280.4L150.6,281.3"/>
<path stroke="#e8e01e" d="M160.8,260.7L161.6,259.4L161.8,257.9L163.0,257.0M165.2,253.4L165.9,251.5M168.8,286.3L167.0,286.4L164.6,286.2M162.2,289.4L160.3,291.0M153.7,268.5M160.9,263.6L159.0,262.6M210.9,291.3L210.8,293.7M157.7,262.7M201.3,301.7L201.1,299.5L201.5,297.6M190.3,265.0L190.0,263.3L191.3,261.2L191.3,259.7L191.6,257.8M171.5,258.7L172.4,260.5L174.6,261.3L176.1,262.4M152.7,282.2L150.5,282.1L148.3,281.6M161.9,264.5L160.5,265.8L159.1,266.9M204.3,302.1L206.8,301.6L208.8,300.8"/>
<path stroke="#3cb44a" d="M186.7,257.1L189.2,256.7L191.2,255.5L192.7,255.1M178.0,250.0L175.9,250.2L174.2,249.4L172.7,248.1M161.4,281.1L162.3,283.1L163.7,284.8M198.6,278.7L200.5,277.2L202.6,277.4M167.3,287.9L165.8,289.7L164.6,290.9M165.5,275.2L164.9,273.9L165.3,271.7L167.3,270.5L167.7,268.3M156.6,278.4L155.0,280.1M164.1,251.9M175.1,258.4L177.5,258.4M205.9,290.1L203.6,289.6M199.3,261.3L196.9,261.3"/>
<path stroke="#f29d22" d="M209.8,294.8L210.9,293.4M160.6,292.9L158.9,292.1L157.5,292.4L155.0,292.0L154.1,290.6M211.7,294.8M156.7,291.1L156.7,293.2M205.5,272.1L206.9,272.6M156.9,271.9L157.3,270.3L157.5,268.9L155.8,267.0"/>
<path stroke="#2fa848" d="M168.2,260.0L169.0,261.9L170.6,262.5M160.1,263.4L160.6,265.7M173.1,253.8L171.6,253.6L169.8,254.0L168.9,255.1M199.4,266.7L198.4,267.9M203.2,290.0L201.6,291.5L199.8,291.2L198.2,291.1L196.4,290.3M185.6,255.0L187.0,256.9M153.2,281.2L155.0,282.9L156.8,284.2L158.2,285.1M202.2,271.4L202.7,273.8L201.8,275.7L199.5,276.8M190.6,265.1L191.3,267.3L190.6,269.5M180.8,253.5L179.3,253.3L177.7,253.7M207.2,277.8L207.7,279.1L208.6,281.1M174.9,266.3L172.4,266.6L170.9,267.4M178.4,251.4L177.1,249.8M173.9,255.2L171.6,255.2L169.6,256.1L168.5,257.8M204.4,296.6L205.8,295.9L207.7,296.6L209.7,298.0M153.5,277.5L154.7,279.6M165.6,283.4L167.4,284.4M206.4,268.7M166.2,253.0L164.0,252.5"/>
<path stroke="#b5d335" d="M196.3,286.8L194.5,287.6M178.6,272.7L179.9,271.7M198.9,259.2L197.5,259.6L196.5,260.8M209.5,281.5L208.8,279.3M177.2,271.9L176.9,273.4L176.0,274.6M170.5,280.3L172.8,279.9"/>
<path stroke="#6cbf45" d="M198.0,250.1L196.4,249.1M170.6,266.6L169.8,264.3M203.0,290.1L203.0,292.3M156.5,287.5L155.1,285.5M152.2,277.1L150.9,278.3L149.8,280.1L149.4,281.5M167.6,280.9L168.4,278.7L170.3,278.0M163.7,263.6L164.5,261.6L165.9,260.4L167.5,259.6M184.9,266.6L187.0,266.7L188.4,266.6L189.5,265.7M161.7,272.3L162.4,270.0L162.5,268.1L163.3,266.2L163.5,264.1M150.7,277.9L148.9,279.6L148.0,281.6L148.0,284.1"/>
<path stroke="#5bba47" d="M187.7,261.7L189.7,260.8M186.2,252.5L187.1,253.6L188.7,255.5M198.8,281.7L198.8,280.2L198.0,278.0L197.1,276.6M186.7,262.7L184.3,261.9M167.7,277.5L167.3,275.6L167.4,273.3"/>
<path stroke="#e2262a" d="M200.9,295.2L203.0,294.5L205.5,294.7L207.5,294.7L209.2,295.9M179.6,258.5L181.8,258.4M149.7,282.8L150.3,284.7L150.8,286.3"/>
</g>
<g filter="url(#wsh2)" stroke-linecap="round" stroke-linejoin="round" fill="none" stroke-width="1.3">
<path stroke="#f29d22" d="M152.7,284.7L150.6,285.2L149.2,286.3M192.6,282.1L194.5,280.8L196.6,280.1L198.2,280.2M173.8,255.5L173.5,257.9L172.7,259.2L173.0,261.1"/>
<path stroke="#8cc63f" d="M194.1,255.6L195.5,257.2L198.0,257.4L199.8,255.7M162.7,264.0L161.8,265.9L161.7,268.3L163.1,270.2L164.0,271.8M153.6,286.6L152.4,287.7L151.6,289.5M175.3,278.1L175.6,275.5L174.8,274.3M198.5,262.9L197.0,263.0L195.0,263.5M174.4,266.3L173.4,264.8M158.2,271.2L156.7,270.3L154.9,271.0M196.3,266.6L196.6,268.7L197.4,269.9L199.0,270.9M162.8,285.1L160.9,284.0L159.5,283.4L157.4,284.2M197.6,271.9L199.1,272.7M176.2,253.4L178.3,254.9M200.5,265.7L199.9,267.1M155.5,287.6L153.6,288.1L152.2,288.9L149.7,289.4M181.2,255.0L180.0,253.9L178.5,252.7M191.4,260.0L191.2,258.6L189.9,257.8L187.6,257.9L186.4,256.6M156.6,288.7L156.4,287.0M199.0,281.4L201.0,281.3L202.5,280.0L203.7,278.6L203.4,276.0M188.4,258.3L188.5,255.9M165.0,283.8L166.8,282.0L167.9,279.9"/>
<path stroke="#e8e01e" d="M201.5,276.8L200.9,279.1M158.9,290.0L157.2,288.6M199.8,272.1L198.1,271.2L196.8,270.6L195.4,270.9M151.2,280.8L153.3,281.1M148.9,282.7L150.9,281.6L153.0,282.4M186.8,263.5L188.3,265.3L189.8,265.6M194.7,248.1M198.5,290.8L197.5,293.1L197.2,295.5M212.2,294.8L211.3,292.8M160.1,278.3L160.3,276.7L160.9,275.1M169.0,264.0L167.1,264.7L166.3,266.7M157.6,284.7L157.9,282.7M182.2,258.5L180.0,259.3L178.4,258.5L176.4,258.6L174.1,257.8M192.1,259.7L192.0,261.5M178.1,272.3L180.0,273.1L180.6,274.8M180.9,259.9L179.8,257.8L177.9,256.9L177.1,254.5L175.4,253.6"/>
<path stroke="#6cbf45" d="M172.1,265.2L174.1,264.9L175.4,266.2L176.9,266.1L178.7,267.1M156.7,289.3L158.2,288.3L159.8,288.9M184.5,266.6L185.9,265.4L188.1,265.4L190.3,266.2L192.8,266.3M205.3,286.9L203.8,284.9L203.0,283.5M206.7,277.1L206.0,278.4L204.0,278.8L203.0,280.2L203.0,281.7M205.5,281.2L207.9,281.3M188.0,275.9L187.4,274.2L187.5,272.8L188.4,271.7L189.3,270.4M173.7,264.3L172.6,263.3L171.7,261.9M195.2,282.8L196.7,281.4L198.3,280.2L200.1,280.6M175.7,278.3L175.0,276.4L175.9,274.5M151.2,285.9L151.2,287.6L152.1,289.2L151.7,291.5M201.3,302.3L203.0,302.5L204.8,303.3"/>
<path stroke="#5bba47" d="M183.9,272.1L186.2,271.3M185.3,252.2L183.7,253.1L181.9,252.7M190.4,270.6L188.9,271.6L187.4,271.4L186.4,270.2L185.2,269.0M170.7,262.7L169.8,264.2L168.6,265.7L168.8,267.3L170.0,268.5M198.1,258.7L196.8,257.5L194.7,257.3L193.3,257.0L191.3,255.7M156.0,289.6L156.3,287.3L155.8,285.2M163.9,291.4M198.0,285.2L195.5,285.7L194.3,285.0M172.1,276.7L174.5,277.3L175.2,278.7M202.1,278.2L202.1,279.7L203.5,281.4M188.0,260.8L187.6,259.2L188.8,257.7L189.0,256.0L190.2,254.8M173.3,260.9L173.8,262.3L175.3,262.9L176.5,264.2"/>
<path stroke="#3cb44a" d="M181.7,255.4L179.9,255.5L177.7,255.7L175.8,254.9L174.8,253.3M190.5,250.2L192.8,249.4M159.9,284.5L158.7,285.3L157.2,286.1L156.2,287.9L156.5,290.2M153.2,292.1M156.7,287.7L158.8,288.4L161.4,288.1M158.8,287.7L160.9,286.8L162.7,286.7L164.3,287.9M196.1,270.1L196.9,268.5L197.5,266.4L198.0,264.6L198.2,262.8"/>
<path stroke="#111111" d="M159.1,280.1L156.8,278.9L154.4,279.3L152.5,278.6L150.6,279.5M200.8,300.1L198.9,299.1L198.1,297.5L198.4,295.0"/>
<path stroke="#2fa848" d="M202.9,280.6L205.0,279.7L206.6,280.1M199.8,279.4L200.5,277.7L200.5,275.6M202.6,296.2L202.5,297.9L204.1,300.0M210.9,288.6L208.8,289.7L208.1,291.8L207.0,293.9L205.9,295.2M180.8,253.7L181.5,255.9L183.1,257.8M178.6,250.4M186.0,271.9L187.1,270.8L189.0,269.2"/>
<path stroke="#b5d335" d="M166.8,257.8L167.9,258.8L169.6,258.6L171.6,259.2L173.3,259.5M199.2,286.9L201.6,286.3M205.8,269.9L205.7,271.8L205.8,274.3L206.2,276.3L206.1,277.8M199.4,301.5M207.8,287.5L206.1,287.1L205.1,285.8L204.1,284.2L203.2,282.4M190.1,281.3L190.3,283.3M190.8,283.0L191.0,280.4M198.2,290.2L198.6,288.7L200.4,287.2L201.0,285.0L201.2,283.2M159.4,288.5L159.5,290.0L160.5,291.6M175.2,269.2L173.2,268.5L171.6,268.3L170.3,269.5L169.7,271.0M167.5,262.2L168.3,263.3L170.1,263.4L171.5,263.1"/>
<path stroke="#e2262a" d="M193.5,285.4L194.5,284.3L195.1,282.9L194.5,281.0L193.2,279.9M212.2,294.8L210.8,294.5L208.5,295.2L206.3,295.8M149.4,284.0L148.8,285.6L148.5,287.3M181.5,262.9L181.6,261.1L180.5,259.2L178.4,258.6"/>
</g>
<g filter="url(#wsh2)" stroke-linecap="round" stroke-linejoin="round" fill="none" stroke-width="1.3">
<path stroke="#e8e01e" d="M155.3,270.4L153.2,271.8M175.2,257.6L176.7,256.2L178.5,255.7L180.4,255.7L182.5,255.5M205.0,276.4L203.2,276.6L200.9,277.4L198.8,278.4M164.2,269.3L163.3,271.0L163.7,272.9M207.5,293.7L209.1,293.0L211.6,292.4M157.2,273.6L156.2,271.3L157.1,269.1L156.5,267.1L157.6,265.2M194.1,250.8L195.5,249.5M161.9,277.5L163.6,279.2M158.4,273.2L160.4,273.1M173.0,275.5L174.9,276.4L176.8,277.4M173.9,248.4L171.6,247.5M164.0,287.7L164.6,289.5L166.0,290.1M204.1,296.1L206.0,297.8M174.5,259.1L176.2,257.9M154.0,274.5L153.8,276.1L151.9,277.4M183.4,252.1L184.6,254.3L183.7,256.7L182.2,257.4L180.0,256.5M157.3,270.1L158.0,268.7L158.7,267.3L159.9,265.2M198.4,258.6L200.6,259.1M183.0,267.5L185.2,267.8L186.6,269.8L187.4,271.7L187.9,273.2"/>
<path stroke="#2fa848" d="M175.8,249.8M170.4,273.0L168.9,272.4M170.8,264.1L171.4,266.2L171.7,268.8L171.7,270.9M170.1,269.4L169.5,270.8L170.4,273.0L170.9,274.4L172.8,275.7M187.7,262.1L187.1,260.5L186.7,258.7L187.0,256.3L186.2,254.0M197.0,278.2L197.5,276.1L198.7,274.8L199.2,272.7M175.9,269.1L175.7,270.9L176.5,272.6L177.6,274.4M208.3,295.4L209.1,293.9L209.3,291.7L208.7,289.5L208.5,287.0M206.9,284.3L206.5,281.9L205.7,280.5"/>
<path stroke="#8cc63f" d="M191.5,258.0L191.4,256.5L191.6,254.9L190.8,253.6M189.9,254.1L189.1,255.4M198.6,270.1L198.8,268.3L200.6,266.6M161.7,275.7L159.3,275.7M193.0,250.0L193.7,252.5M194.7,249.8L194.7,248.4M207.4,286.7L209.4,285.1M197.7,270.9L199.6,270.7M190.5,274.8L190.5,272.8L189.5,270.6L188.7,269.2L188.8,267.8M180.5,255.7L178.8,256.6L176.9,256.0L175.7,255.5M188.5,249.7L188.6,252.0M190.2,273.7L192.6,272.7L194.5,271.3M172.5,276.1L170.1,276.8L168.9,279.0L168.8,281.0L167.8,283.3M206.4,283.5L208.8,283.4M166.0,268.9L164.3,269.7L162.5,269.8L160.7,268.6L160.4,266.6M203.5,302.9M192.6,253.3L194.2,253.7L196.0,253.4L198.0,254.3L199.3,256.3M159.7,280.2L159.9,278.4M206.8,276.4L208.5,276.9"/>
<path stroke="#6cbf45" d="M166.8,272.0L167.3,269.9L167.5,267.7L167.9,265.8M189.8,270.8L188.3,270.7L186.4,270.2L183.8,270.0M209.1,289.6L211.7,289.8M192.4,255.1L191.9,257.1L190.3,258.5L187.9,258.2M208.1,300.5L208.3,301.9L209.1,303.2M199.2,255.8L200.0,257.8M166.7,260.2L166.1,258.8L166.3,256.6L167.2,255.3L167.3,253.1M197.0,258.8L195.1,259.6L193.5,260.3M168.5,256.6L168.5,254.5L168.4,253.0M173.2,272.3L171.1,271.8L169.7,272.7M170.5,251.8L169.2,250.9L166.9,250.8L165.1,251.8L163.7,253.6"/>
<path stroke="#5bba47" d="M190.4,276.7L188.1,276.9L185.9,276.8L183.8,276.4M188.0,259.8L186.8,257.9L185.4,257.2L183.4,257.7L181.1,256.8M187.9,275.4L186.8,273.9M173.3,254.7L174.7,255.1L175.5,257.1L175.8,259.0M175.8,272.0L175.8,270.5L176.4,268.4L177.6,267.1L179.9,265.9M152.3,274.6M203.9,291.2L203.3,289.6L204.1,287.3L205.5,286.8L207.9,286.1M177.5,265.8L176.6,264.6M203.0,280.1L201.6,280.3L199.8,280.0L198.1,279.1L195.9,279.9"/>
<path stroke="#3cb44a" d="M204.1,300.2L202.2,299.2L199.8,299.4M199.1,262.6L197.7,262.0L195.5,262.2L194.4,261.1M201.2,291.0L202.6,291.7L204.4,292.5L206.4,292.0L207.3,290.5M171.5,276.8L169.7,275.4L168.1,275.0L166.1,274.6M189.9,251.7L191.3,250.9L192.7,250.6"/>
<path stroke="#f29d22" d="M191.6,253.2L192.8,252.1L195.2,252.3M196.2,292.8M179.6,273.1L180.9,273.7L182.5,274.5L184.7,274.1M165.3,280.7L163.5,280.2L162.6,278.7L161.1,276.9L160.7,274.5M181.2,274.1L182.7,273.2M193.6,254.4L191.9,252.7"/>
<path stroke="#111111" d="M169.4,271.6L169.5,273.2L168.2,274.5L167.5,276.0M206.3,285.2L204.3,286.0L203.6,287.9L203.0,289.5"/>
<path stroke="#b5d335" d="M208.2,289.9L207.6,287.6L208.9,285.9M174.0,275.2L172.0,274.2L170.3,272.7L170.2,270.9L169.5,268.8M196.2,266.5L194.5,267.3L193.6,268.8M200.2,262.6L200.3,264.6M209.4,302.8M150.2,288.8L148.3,288.0M199.7,266.1L199.1,264.5L198.8,262.5L198.6,259.9M155.7,276.7L156.7,279.0L157.3,281.2M186.8,258.9L186.6,260.6L187.6,262.2M157.0,270.7L154.9,271.2M190.2,273.3L190.7,275.2L191.4,277.1L192.7,278.6M185.8,255.9L184.3,257.4L182.0,257.3"/>
<path stroke="#e2262a" d="M155.2,265.2L154.8,267.6L153.3,269.3"/>
</g>
</g></g>
<g filter="url(#wsh)"><g mask="url(#hm5)">
<g filter="url(#wsh2)" stroke-linecap="round" stroke-linejoin="round" fill="none" stroke-width="1.3">
<path stroke="#5bba47" d="M239.6,286.1L238.1,286.1L236.3,285.7M271.0,260.5L271.7,262.5L271.0,263.9L271.1,266.1L270.7,268.0M241.5,251.2L242.0,248.8L242.6,246.6M265.4,257.0L265.7,255.1M238.1,277.7L237.0,278.9L235.5,279.8L234.4,280.9M266.3,251.6L265.2,253.4L263.9,254.2M265.6,260.6L263.9,258.8L261.4,258.4L258.9,257.8M232.3,270.4M244.2,270.3L245.3,268.9L246.0,266.7M278.9,292.8L278.5,290.8L279.5,289.0M233.2,294.5L233.2,296.3L231.8,298.0M247.2,270.5L248.6,271.5L248.8,273.2L248.2,275.4M274.3,291.6L274.6,289.1L275.7,287.3L277.3,285.6L279.8,285.3"/>
<path stroke="#8cc63f" d="M260.0,265.5L258.2,266.4M260.7,264.6L260.0,266.3L259.1,267.6M251.2,259.1L249.3,259.9L247.1,260.1L245.8,258.9M256.1,267.4L257.5,266.9L259.2,266.6L261.2,265.5M233.5,279.2L232.4,281.0L231.4,283.0L231.2,284.6M252.6,260.7L250.3,261.2L248.7,260.3M229.0,284.4L231.2,285.2L233.6,284.9L235.1,284.5M268.2,267.4L269.1,266.2L270.5,265.9L272.9,265.7L274.2,266.0M235.3,258.6L235.7,260.2L234.9,262.5L233.8,264.0L232.2,264.9M267.4,255.1L269.1,255.3M234.6,281.0L236.8,281.0M254.3,261.8L252.2,261.6L250.5,261.5L248.7,259.7L247.1,259.2M233.6,260.2"/>
<path stroke="#2fa848" d="M225.3,288.3L225.6,289.8L226.7,291.7M258.5,273.6L258.2,271.1M272.1,268.4L273.3,269.9L274.4,271.5M272.8,297.2L272.4,295.0M268.1,270.3L265.7,269.2M246.5,255.6L245.7,254.2L244.0,253.3"/>
<path stroke="#3cb44a" d="M237.1,289.2L238.5,288.9M247.5,255.2L247.9,256.9L249.2,258.1M244.8,268.8L246.8,267.8M257.9,257.7L257.5,259.4L255.7,260.7M231.6,294.8L233.4,293.7M232.8,279.9L231.1,279.2M280.5,292.2M277.4,281.8L277.0,279.8M246.3,285.0L244.1,283.7L243.7,282.1L244.4,280.9L244.0,279.4"/>
<path stroke="#6cbf45" d="M261.9,262.5L262.8,260.5L262.5,259.2L262.6,257.6L264.3,256.1M266.8,293.0L265.1,294.3M271.6,298.9L269.9,298.1L269.1,296.7L269.9,294.8L270.9,293.4M236.2,287.3L234.9,286.5L234.0,284.5M256.0,284.6L254.1,285.7L251.9,285.8L249.8,285.7L247.3,286.0M224.8,298.0L225.2,299.7"/>
<path stroke="#e2262a" d="M274.0,283.7L273.8,281.2"/>
<path stroke="#e8e01e" d="M271.5,273.8L273.6,272.5M241.6,279.1L240.5,277.4L239.6,275.1L238.5,274.2L238.3,272.2M266.2,285.2L266.5,282.8L265.4,281.4L264.7,280.1M251.5,274.5L252.3,273.3M265.9,289.0L266.0,291.1M242.8,255.7L241.5,253.8M271.1,296.6L268.9,296.8L267.6,298.9M241.3,248.3L241.7,249.9L242.9,252.0M279.6,285.5L279.4,283.3L278.4,282.3L275.9,282.5L274.8,283.8M249.6,257.1L250.8,255.1L252.2,254.0M262.8,286.3L264.0,284.1L265.4,283.9M236.2,257.8L236.4,259.7L238.0,261.3L239.2,261.9L240.5,262.6M270.7,262.1L270.8,264.2"/>
<path stroke="#b5d335" d="M249.0,259.3L246.7,259.7L244.6,258.6L242.7,259.1M267.0,253.5M258.6,278.5L259.8,280.0L262.2,280.4M233.0,289.4L231.2,290.4L230.6,292.5L229.2,293.8M256.9,275.0L254.9,275.5M249.9,267.5L252.3,267.1L254.1,267.5L255.9,266.6M241.4,265.0L239.9,263.8L238.7,262.9M252.4,272.4L250.1,271.6L248.3,271.1L246.7,270.9L245.1,269.0"/>
<path stroke="#f29d22" d="M274.5,270.9L273.5,272.4L272.5,273.7L271.0,274.5L268.4,274.8M244.3,264.5L245.4,266.5L245.0,268.9M254.2,254.3L251.9,255.1L249.4,255.5M271.7,293.6L273.4,291.7L273.9,289.9M279.5,286.8L280.4,285.1"/>
<path stroke="#111111" d="M255.9,277.7L254.6,279.1"/>
</g>
<g filter="url(#wsh2)" stroke-linecap="round" stroke-linejoin="round" fill="none" stroke-width="1.3">
<path stroke="#e8e01e" d="M262.9,289.5L265.3,289.7L267.8,290.6M276.3,290.9L277.3,289.7L277.1,288.1M235.6,261.7L237.4,261.7M236.9,277.7L238.1,278.5L239.7,279.6M272.5,278.6L270.6,277.9M237.8,274.2L236.3,273.1L235.8,271.7M268.3,262.9L266.9,261.7L265.8,260.2L264.1,259.1M270.0,297.6L268.8,296.5L267.0,295.9"/>
<path stroke="#f29d22" d="M269.9,286.1L271.8,284.6L272.8,282.5M267.7,277.1L270.0,276.3L271.0,274.4L271.4,272.3L270.4,270.7M273.7,278.2L273.7,280.1L273.2,281.5L271.9,282.8M275.5,276.3L275.4,274.8M275.0,276.2L276.0,274.2"/>
<path stroke="#b5d335" d="M233.5,261.3M235.2,276.0L237.4,275.2M244.0,259.9L244.5,257.4L245.4,255.4L244.9,253.1M277.1,297.7M234.6,263.4L232.8,262.7M242.3,254.9L243.0,253.5M226.5,284.2L225.4,282.4M223.0,295.3L221.2,295.7M240.8,276.3L240.0,278.1M263.1,266.7L263.6,268.8M241.1,275.1L243.3,275.1L245.3,276.6L247.2,276.6L248.5,275.9M244.9,285.6L246.8,286.3M274.9,280.5L275.3,282.5L276.4,284.0L277.5,285.9L279.0,287.1"/>
<path stroke="#8cc63f" d="M249.1,258.1L249.3,255.5L247.9,253.8M247.6,283.2L249.6,282.1M234.7,264.8L233.0,264.6M250.2,274.2L251.8,273.1L253.2,272.7M265.0,262.7L262.8,262.1L260.7,262.8L258.3,262.0L256.1,262.9M273.8,270.6L273.3,272.1L271.8,273.2L270.0,274.0M239.5,250.0L239.7,252.1L240.1,253.9L239.9,255.6M228.1,285.9L226.2,284.6M253.2,286.4L253.2,284.3L252.8,282.8L252.3,281.4L252.8,279.1M255.4,270.8L253.8,269.6L253.3,267.2L252.1,266.1L251.7,264.7M262.9,272.7L260.3,273.0L258.5,273.7L256.4,274.4L254.1,273.4M243.9,275.7L242.7,277.7L241.3,278.8M245.1,250.5L246.8,251.3L248.0,253.1L248.2,255.4M233.4,272.2L235.8,272.8L237.8,273.2L239.0,275.3L240.3,276.7M278.1,290.1L278.5,291.7M281.2,286.5L278.8,286.2L276.8,287.5L274.4,287.0L272.8,287.3M254.4,266.8L253.0,268.7L251.3,270.3L249.8,270.1L248.0,268.9M272.7,265.3L272.5,263.7"/>
<path stroke="#3cb44a" d="M260.2,265.9L258.8,267.9L258.2,269.4L257.0,270.3L256.2,272.5M244.4,249.3L244.0,251.3L243.3,252.6M250.4,280.9L251.8,279.1L252.9,277.3M243.6,248.5L245.0,248.5L247.1,249.0"/>
<path stroke="#6cbf45" d="M247.9,255.4L246.5,254.1M240.0,251.6L242.1,252.3L243.5,253.0L245.1,252.4L246.9,251.7M220.7,293.2M258.6,282.8L257.6,280.5L257.7,278.8L258.5,277.3M268.1,293.8L268.4,291.9L269.0,289.5L269.0,287.3L270.5,285.9M232.2,298.0L231.1,296.2L230.3,295.0L230.3,293.6L230.3,291.8M245.0,283.0L243.1,282.2L241.9,280.0M250.7,265.0L249.1,266.1L247.9,268.3"/>
<path stroke="#2fa848" d="M264.7,279.7L266.6,278.2M248.6,260.2L249.9,259.0M253.7,284.4L251.6,283.9L250.2,283.7L247.9,284.6M263.2,292.5M266.4,286.9L266.1,289.2M242.5,269.3L241.4,270.5L239.9,271.8L238.4,273.0L236.7,273.9M270.4,293.7L272.1,294.3L273.4,295.8L274.4,296.8M268.7,272.4L270.3,271.9L272.2,271.1L273.5,270.1L274.2,268.1M221.3,293.9"/>
<path stroke="#e2262a" d="M270.2,276.6L271.3,274.9L272.0,273.3L272.5,270.9"/>
<path stroke="#5bba47" d="M222.6,295.9L222.6,294.5L222.4,292.9M275.4,296.3L274.0,295.2L272.3,293.7M259.5,271.8L258.5,273.9L257.9,275.8L258.7,277.6L259.4,279.2M250.1,259.6L248.3,259.0L247.6,257.7L247.0,255.9M256.1,264.7L258.0,266.3L258.6,267.8L260.0,268.9M238.7,256.0L236.7,254.5M246.0,277.5L244.3,278.5L242.1,279.4M267.3,274.6L267.5,273.0L266.8,271.3"/>
<path stroke="#111111" d="M240.0,282.4L238.2,284.3L235.9,284.8L233.8,285.8"/>
</g>
<g filter="url(#wsh2)" stroke-linecap="round" stroke-linejoin="round" fill="none" stroke-width="1.3">
<path stroke="#e8e01e" d="M254.7,258.9L255.3,257.6L257.3,256.6L259.4,256.0M235.4,258.1M252.5,263.9L254.2,262.3L255.5,261.0L256.8,259.6L256.6,257.3M261.8,261.7L261.2,260.1L259.8,259.6M277.5,282.9L277.0,281.3L276.5,279.3M232.5,292.0L233.3,294.5M243.2,262.3L241.8,263.3L239.5,263.1L237.8,261.9L236.2,260.3M253.7,263.6L255.5,264.8L257.0,264.3L258.7,262.4L259.2,260.1M271.4,272.7L273.0,272.3L275.5,272.4M230.2,290.0L229.8,288.5L229.0,287.3"/>
<path stroke="#8cc63f" d="M269.9,273.9L270.8,272.1L270.1,270.0L268.8,268.6L268.7,266.7M237.3,282.4L239.2,284.2M268.3,288.0L268.6,289.9L268.1,291.5L268.3,293.6M231.6,294.5L229.9,294.1L228.1,292.5M241.3,282.1L240.7,284.3M265.8,251.7M267.0,258.5L265.4,257.6L264.0,256.0M230.5,293.3L229.3,295.1M263.5,289.0L264.4,290.9L265.6,292.1L266.9,293.9M244.4,256.6L245.9,257.3L247.5,257.3L248.8,256.3L250.7,255.7M255.3,259.3L257.6,258.8M268.9,280.1L269.1,281.9"/>
<path stroke="#2fa848" d="M272.9,288.5L272.0,287.4L270.3,287.3M256.2,261.1L258.0,261.5L259.5,262.0M231.6,268.7M243.7,250.6L245.2,250.2L246.8,250.4M254.2,266.0L256.6,266.2M231.4,271.6M252.9,256.1L251.4,257.8L250.4,259.3L250.8,261.6L251.4,262.9M260.5,267.7L261.9,268.4L263.3,267.8L264.5,268.5L265.8,269.4M261.2,273.4L259.7,274.7L259.6,276.7L258.4,278.1M238.3,288.0L236.8,289.0L234.9,289.1L233.7,290.3"/>
<path stroke="#b5d335" d="M256.8,278.6L257.6,276.6L259.9,275.9L262.0,275.2M253.0,268.1L253.9,266.0L255.0,264.5L257.0,264.1L258.1,263.0M261.4,281.4L259.5,282.2L257.1,282.3L255.9,283.9L256.4,286.3M269.9,267.5L269.2,269.8L268.8,271.9L267.9,273.2L267.5,275.5M267.4,296.9M251.7,260.0L251.6,261.8L250.4,263.1L248.8,264.8L248.0,266.2M244.6,250.3L246.7,250.1L248.2,250.4L250.6,250.5M262.2,261.7L263.5,262.4M226.6,287.8L225.4,287.0L223.6,286.5M256.3,251.7M245.7,273.4L244.1,275.4L242.5,276.5M260.9,260.8L260.6,262.2L259.2,263.7L258.9,265.8L258.2,267.4"/>
<path stroke="#3cb44a" d="M258.4,259.7L258.1,257.8M245.7,268.2L247.2,267.5L249.5,267.0L251.4,267.0M257.8,287.7M267.7,264.0L268.4,266.2L268.9,268.2L267.7,269.8M244.2,258.5L246.1,260.2L247.9,260.5M266.8,292.4L266.8,291.0M233.7,291.6L234.8,293.1M238.5,281.9L238.6,284.4L238.5,286.2L239.0,287.9M266.4,256.7L267.4,254.4L268.0,252.9M268.1,293.0L265.5,292.5L263.5,294.1M263.0,271.5L264.3,272.4L266.0,274.0L267.5,275.5"/>
<path stroke="#111111" d="M234.8,268.2L233.0,269.8L231.7,271.5M244.1,259.0L246.3,259.3L247.5,261.1L249.9,261.9M266.8,291.7L266.3,294.2L265.1,295.8"/>
<path stroke="#5bba47" d="M248.4,270.3L249.3,272.1M263.7,262.6L265.5,261.2M229.6,293.8L229.6,292.2L229.4,290.0L229.2,288.4M229.0,279.5L229.7,278.0L230.7,276.9M237.6,277.1L236.0,275.8L235.8,274.2L236.2,272.0M255.3,256.8L256.1,255.4L257.4,254.0L257.9,251.8M240.3,262.7L241.8,263.0L243.1,262.3L244.1,260.8"/>
<path stroke="#f29d22" d="M254.1,259.8L255.2,261.3L255.6,262.9M279.9,287.8L279.6,286.2L278.4,284.5"/>
<path stroke="#6cbf45" d="M254.0,284.9L255.7,283.4L257.7,283.2L259.5,283.3L261.7,282.2M254.1,280.5L252.8,281.2M236.7,271.3L236.4,269.2M248.0,269.5L247.9,268.1L249.2,266.4M259.7,279.4L260.5,281.8L260.9,283.9M247.1,274.5L246.3,273.1L246.5,270.8L245.8,269.3L246.0,267.9M235.5,285.0L234.4,283.4L232.3,282.3L231.0,280.9L231.2,279.4M265.8,259.0L265.6,257.0L266.3,255.0L266.8,252.6"/>
</g>
</g></g>
<g filter="url(#wsh)"><g mask="url(#hm6)">
<g filter="url(#wsh2)" stroke-linecap="round" stroke-linejoin="round" fill="none" stroke-width="1.3">
<path stroke="#f29d22" d="M350.5,223.7L350.0,222.1M320.1,199.1L318.9,198.3L318.6,196.6L318.8,194.2M341.2,219.1L342.9,218.6M321.4,200.0L322.0,198.3M350.5,231.3L348.3,230.5"/>
<path stroke="#e8e01e" d="M305.7,220.3L304.6,221.2M324.5,197.4L323.3,196.4M332.0,206.7L333.9,208.2M336.8,187.7L337.6,186.3M350.9,233.5L352.7,233.2M342.3,226.8L341.0,227.5M350.9,234.6L352.0,233.6L353.0,231.4M312.2,203.6L312.9,206.0M315.2,207.5L313.7,205.5L313.7,203.3M319.5,178.1M307.0,211.1L306.7,208.9L308.3,207.2L310.4,206.1L312.3,205.0M341.8,221.6L344.2,221.8L346.3,222.0L348.4,222.0L350.0,220.8M330.9,203.1L332.1,204.8L331.6,207.2L330.0,208.3M343.4,192.8L344.6,194.1L346.5,195.1L348.7,194.8M336.8,194.1L335.2,192.9M343.8,220.8L342.1,221.1L339.7,220.0L337.9,219.8M323.4,200.5L323.5,202.8L324.9,204.0M344.9,221.7L342.6,221.2L340.9,220.6M308.3,193.8L309.8,194.0L311.8,193.1L313.6,192.4L314.6,191.3M303.6,214.9L305.9,215.4L307.3,216.1L308.8,217.5L310.7,218.1M346.5,184.6M339.1,201.9L337.8,202.6L335.8,203.6L335.1,206.0M313.3,207.6L314.3,206.4L314.9,204.1L315.9,203.1M346.7,195.7L347.2,197.7L347.5,199.4M349.1,231.5L348.8,230.0L348.6,228.4L349.0,226.7"/>
<path stroke="#2fa848" d="M340.2,202.4L339.3,201.0L338.3,199.3M339.5,184.8L338.6,187.2M338.5,216.0L337.7,214.4M319.2,181.3M338.5,192.8L340.7,191.6L342.8,192.2L344.6,191.6L346.6,191.5M330.9,197.8L330.6,196.3L328.9,195.0L326.6,195.0M319.3,192.9L317.6,193.1L316.1,192.6M335.1,204.1L335.7,206.5L336.8,207.8L338.8,209.3M304.8,217.7L303.0,216.8L301.6,216.4M311.8,191.4L312.1,189.6M321.3,206.9L319.5,205.7M324.9,193.4L327.0,192.4L329.5,192.6L331.2,193.6L331.9,195.0M329.3,194.1L330.3,192.0L331.2,189.8L331.3,187.5M345.3,216.5L347.2,218.0L348.3,220.1M323.7,190.4L324.2,191.9L326.1,193.1L327.4,194.8"/>
<path stroke="#111111" d="M336.0,190.5L333.8,190.4L332.2,191.2M335.6,214.5M319.9,176.8M347.2,217.2L345.8,217.8L344.9,219.6L343.3,221.5"/>
<path stroke="#3cb44a" d="M354.0,232.9L352.1,233.3L351.0,234.7M312.0,209.6L312.3,211.1L313.5,213.2M338.5,193.9L336.9,192.8L335.6,192.1M311.0,212.0L312.1,211.0L314.3,209.8L315.8,208.9L317.6,208.1M346.0,198.3L346.3,195.9L345.0,193.9L343.7,193.4L342.2,192.7M337.6,208.5L338.8,210.4L339.5,211.9L340.9,212.9L343.4,212.7M335.7,206.9L336.9,209.0L337.8,210.7L337.9,212.1M342.2,210.9L343.5,209.7L344.1,207.7M313.8,213.3L315.8,213.9L318.4,214.1L319.4,213.2"/>
<path stroke="#8cc63f" d="M320.7,210.1L319.8,207.9M341.0,198.6L339.9,200.0L338.2,201.5L337.4,203.4L336.5,205.5M352.5,220.6L352.1,218.3L350.6,217.3M343.2,195.6L341.5,195.0L340.2,194.2L339.9,192.8L341.1,191.2M339.9,185.7L339.2,187.9L340.3,189.6M322.5,210.0L324.5,208.3L326.0,208.1L327.9,208.7L329.2,210.1M308.7,199.7L310.8,198.1L311.1,196.2L311.5,194.7L312.9,193.1M326.0,192.4L326.9,190.4L328.3,188.9L328.7,186.5M304.3,209.3L304.0,210.7L302.4,211.7L300.5,212.6M348.4,208.9L346.5,208.4L344.5,209.8M318.7,213.3M351.5,228.1L353.5,229.3M310.0,198.3L310.6,196.7L312.1,196.0L313.8,195.4L314.7,194.1M349.4,209.8L349.6,211.3L350.9,212.6L352.4,214.2L353.2,216.0M331.7,198.8L330.1,198.6L328.6,198.5M353.1,228.4L352.8,227.0L351.8,225.7M322.7,211.6"/>
<path stroke="#6cbf45" d="M334.5,208.2L333.0,207.7L332.0,206.6L330.8,205.0L329.1,204.2M338.9,202.7L340.8,203.5L342.8,204.2M350.5,219.4L348.4,218.6L347.5,217.2L347.3,215.5M316.2,217.9L313.7,217.7L312.2,218.2L310.8,217.5M314.5,201.9L312.2,202.0L310.0,201.5L308.7,200.5M341.0,207.1L339.5,207.3L338.1,207.4L336.6,207.5L334.6,207.2M346.7,201.7L348.3,203.3L349.7,204.0M348.4,197.7L348.5,199.9L349.7,201.6"/>
<path stroke="#b5d335" d="M328.8,206.8L326.5,207.0M311.9,188.9M309.9,217.2L311.1,215.7L312.5,214.2L314.0,212.4L314.1,210.3M341.5,196.7L340.1,197.6L339.0,199.8M344.3,220.0L345.8,220.4L347.1,221.3M318.4,182.5L317.7,184.9L318.1,186.6L318.8,188.7"/>
<path stroke="#5bba47" d="M327.2,198.2L329.0,199.1L330.5,199.1L332.2,197.7L333.2,195.9M342.9,187.3L342.7,189.2L341.5,190.3L341.3,192.8M342.2,230.3M317.1,213.3L317.6,215.5M318.9,205.7L316.8,204.4L314.6,203.6M340.1,197.8L340.1,199.7L340.1,201.4M335.3,210.2L336.5,211.3L336.4,213.7"/>
<path stroke="#e2262a" d="M350.5,220.5L351.6,222.0L352.9,223.5L353.2,225.6M323.9,196.6L325.1,197.7L325.4,199.5L325.4,200.9M313.0,209.3L311.3,210.1L309.9,211.2L307.6,210.9"/>
</g>
<g filter="url(#wsh2)" stroke-linecap="round" stroke-linejoin="round" fill="none" stroke-width="1.3">
<path stroke="#6cbf45" d="M337.7,197.7L339.0,198.7L339.9,200.6L341.4,201.4M323.1,187.4L324.4,186.5M314.9,196.2L314.1,194.8L314.0,193.4M312.0,221.8L309.7,220.7L308.2,220.1M340.8,219.9L341.6,221.4L342.5,223.4L342.9,225.0M318.0,179.8M336.0,212.1L338.0,211.6L339.7,211.5L341.5,212.2L343.5,211.4M316.3,195.1L316.5,192.7L317.5,191.7L318.9,191.2L320.6,191.0M310.0,215.4L311.4,215.3"/>
<path stroke="#e2262a" d="M325.9,197.7L325.1,199.6L324.2,200.9L323.8,203.5M316.2,208.3L317.7,209.8L320.0,210.3"/>
<path stroke="#b5d335" d="M311.3,192.8L310.1,191.8M331.0,201.2L332.7,202.3M344.6,199.9L343.2,200.3M334.2,188.5L334.2,186.0M341.9,200.8L339.5,200.8L337.6,200.4L336.1,201.5M338.3,191.0L339.9,190.9L342.1,190.3M333.4,206.4L335.0,204.8L335.4,202.8L334.8,201.2"/>
<path stroke="#f29d22" d="M325.4,203.9L327.3,203.6L329.1,202.1L330.9,201.5L332.9,201.3M317.4,208.8L317.6,206.9L317.6,205.2L316.7,203.7M330.8,198.2L332.6,197.5L334.2,197.0M349.7,204.4L347.7,204.0M329.7,203.9L328.4,202.7L326.7,201.3"/>
<path stroke="#8cc63f" d="M346.8,192.8L348.2,192.0M320.9,207.2L322.8,206.4M316.4,201.6L314.3,203.0L312.6,202.8L311.1,204.1M314.4,215.4L312.0,214.8L310.0,215.1L308.0,215.6M345.9,209.0L347.5,207.4L349.6,207.6M346.1,218.7L345.7,220.7M318.7,185.5L316.8,184.8M345.8,222.0L343.9,221.8L342.0,223.3L340.5,223.0M332.9,193.8L331.4,195.8L329.4,196.8M317.0,198.0L317.9,199.3L319.0,200.7L318.7,202.9L316.8,204.3M337.4,191.2L336.3,189.0L335.8,186.7L336.7,185.4M309.8,218.0L311.7,217.3L312.8,215.6L312.5,213.8M305.4,216.0L303.9,215.9L302.1,216.9L300.1,218.5M345.5,209.3L347.2,210.9L349.6,211.7M335.3,212.3L333.1,212.6M313.6,213.8L313.8,211.3L313.0,209.7M310.2,198.8L310.8,200.4L310.0,202.0L310.7,203.4L313.1,204.2M342.8,202.5L343.4,200.6L343.5,198.7L344.3,196.3M351.0,228.5L352.4,229.9M336.6,190.1L338.8,189.9L340.8,188.8L341.5,187.0L341.8,185.1M319.3,200.5L320.7,202.0L321.0,204.4M350.4,213.1L351.9,214.0"/>
<path stroke="#e8e01e" d="M351.4,218.7L351.9,220.8M313.7,204.7L315.5,206.3L316.5,207.9M323.1,194.2L321.1,193.4L319.0,194.2L317.3,195.5L317.0,197.2M313.0,220.1M308.3,207.3L310.8,207.5M305.3,207.1L304.2,206.2M349.4,234.5L350.4,233.4L351.9,233.2L353.4,232.5M334.9,203.7L334.8,205.3L335.3,206.6L337.0,208.4M324.0,197.1L326.2,196.5L328.3,196.9M303.9,210.0L302.3,211.0M342.9,201.9L342.2,200.2L342.1,198.0L342.3,196.3L342.0,194.1M311.3,211.8L312.4,210.0L314.5,209.0L316.3,208.8L317.8,206.9M322.9,191.9L324.1,190.0L324.8,188.5L326.6,187.4L328.4,187.4M304.4,204.9M352.4,232.9L350.9,231.8L350.5,230.2M336.0,214.3M299.9,218.9L301.7,218.5L303.9,217.3M317.9,211.8L317.4,213.6L316.1,215.1M330.4,206.3L332.7,206.3L334.4,206.7L336.2,206.8L338.1,208.1M343.6,228.2L342.0,226.7L341.4,225.0M310.5,192.0M336.0,215.5"/>
<path stroke="#2fa848" d="M321.0,195.2L323.0,195.8M336.9,200.5L337.1,202.9M339.8,204.8L341.5,203.3L342.2,201.9L344.2,200.6M316.5,213.0L315.5,210.6L313.9,209.1M343.4,203.4L343.3,201.6M342.5,183.5L344.6,184.0M338.5,212.6L340.5,213.0L341.8,215.0L342.4,216.3L341.7,218.5M340.3,228.5M318.1,186.9L318.0,188.8L319.0,190.3L318.5,192.3M326.0,202.9L324.8,205.1L324.2,206.6M337.0,215.0L336.4,213.4L335.8,211.1M325.7,199.8L328.1,199.6L329.6,198.2L331.2,196.3M338.6,193.3L337.1,192.0M337.0,185.3L338.3,186.2L339.2,188.2L340.5,189.8L341.9,190.7"/>
<path stroke="#111111" d="M316.8,193.6L315.9,192.5"/>
<path stroke="#5bba47" d="M300.7,212.7L303.2,212.0M341.6,221.1L341.1,222.8L341.9,224.7L343.3,226.5M307.3,197.0L307.1,198.5L306.5,200.0M344.5,191.0L344.7,192.5L345.8,193.5L346.1,195.5M336.3,202.0L337.8,202.7L338.8,204.1"/>
<path stroke="#3cb44a" d="M340.4,217.5L339.2,216.4L338.2,215.0L337.1,212.7M333.4,208.5L334.4,207.4L336.0,206.5L338.3,205.8L339.5,204.3M304.8,205.5L305.4,204.2L306.6,202.8L308.7,202.1L309.9,200.8M348.6,198.6M326.6,209.0L326.6,207.3L325.6,205.9L323.2,205.6M340.3,226.7M347.3,215.1L345.9,215.0L344.6,213.1L343.4,210.9L341.8,209.6M340.5,221.2L338.1,220.2M317.1,182.6L318.5,184.7L320.7,185.2M336.7,188.3L335.9,186.9M347.9,228.8L347.6,226.8M345.7,210.2L345.9,212.2L344.4,214.2L342.3,215.5"/>
</g>
<g filter="url(#wsh2)" stroke-linecap="round" stroke-linejoin="round" fill="none" stroke-width="1.3">
<path stroke="#e8e01e" d="M342.3,221.6L340.9,222.2L339.4,221.9M341.2,218.1L343.4,217.7L344.9,217.6M320.7,193.8L320.5,195.6L321.3,197.7L322.3,199.7M342.7,222.2L344.9,223.4L346.9,223.6M347.4,203.7L347.8,205.5M342.5,210.0L343.0,208.1M350.1,233.2L352.1,232.3M345.5,229.6L346.9,230.9L347.7,232.4L347.2,234.3L347.9,236.3M346.4,234.3L346.4,232.7L347.3,230.3L346.5,228.8L346.2,227.2M308.4,196.8L310.2,195.5L311.8,193.9L312.4,192.1L313.6,190.8M300.2,217.7M329.6,192.4L330.1,190.7L329.3,188.8M320.2,208.8L319.3,207.4L318.4,205.3L317.8,203.0M318.7,178.8L320.1,179.0M344.3,212.7L342.3,213.9L340.9,214.4L339.4,214.0M315.9,197.3L313.8,197.0M323.8,205.6L324.9,203.9M341.0,195.4L342.3,194.7M342.5,226.0L340.2,226.5M350.8,232.2L349.7,230.2L349.6,228.6L348.0,227.1M339.8,201.8L340.8,204.0M351.3,220.7L352.4,218.5L353.7,217.7M349.3,207.1L349.9,205.8M319.2,210.6L320.5,209.1M325.9,187.0M304.5,211.3L306.8,210.2L309.0,209.3L310.5,207.5L312.0,206.1"/>
<path stroke="#8cc63f" d="M309.9,198.4L309.4,200.5M325.1,190.1L324.5,188.8L322.3,187.8L321.4,186.7M335.4,211.5L336.3,213.5L336.4,215.0M304.8,195.4M329.5,188.0M305.8,221.3M346.3,213.3L344.2,212.8L342.4,211.6M348.5,200.0L346.4,201.3M346.6,192.3L348.3,191.8M315.4,198.4L317.9,198.5L320.5,198.9L321.8,199.7L323.8,199.9M317.9,180.9L319.1,179.5L320.5,177.9M314.5,185.4M313.3,201.3L314.8,203.3L316.3,204.3L317.8,205.0M316.0,197.8L315.5,199.7L316.4,201.3L317.3,203.1M346.6,210.6L347.3,209.3M348.6,218.4L346.6,217.3L345.9,215.4L344.5,214.8M350.3,210.1L348.5,209.0L346.9,209.5L345.3,211.5L344.6,212.8M330.4,193.5L331.7,195.1L331.3,197.3M339.0,215.6L336.6,216.4M313.8,190.5L313.4,192.0L313.4,194.5L313.9,196.2"/>
<path stroke="#b5d335" d="M315.7,201.6L313.6,202.9L311.7,202.8L309.9,202.1L309.1,200.8M318.7,204.1L316.2,204.2M343.5,224.5L342.2,226.2L341.2,227.8M308.5,217.7L310.5,217.5L312.9,216.6M312.2,212.8L312.4,211.0L312.2,209.2L312.1,207.3M352.3,219.0L351.3,216.6L349.8,215.7L347.8,214.9L346.1,213.6M343.6,224.1L341.2,224.9L339.9,226.5L340.0,228.1L341.6,229.5M325.4,192.0L326.8,192.9L327.0,194.9"/>
<path stroke="#6cbf45" d="M336.5,189.3L335.4,188.0L333.4,186.7M351.6,218.3L352.0,216.1L351.5,214.6L351.9,212.0L350.7,210.3M335.6,210.2L336.2,211.5L337.5,212.8M349.0,228.9L348.4,226.5L349.3,224.9L351.3,224.0M336.2,197.3L336.0,199.1L335.7,200.6L335.2,203.0M301.2,219.6L300.2,218.4M303.9,216.7L304.0,215.2L305.5,213.3M300.7,216.5"/>
<path stroke="#3cb44a" d="M317.8,215.5L317.2,217.0M347.8,221.4L346.9,219.6M308.6,202.3L311.1,201.9M340.7,206.4L339.9,207.7L337.9,208.3L336.4,207.6L335.0,208.1M346.9,218.9L345.6,216.9L343.7,215.8L343.3,213.7M318.9,177.6L320.1,179.6"/>
<path stroke="#2fa848" d="M347.3,200.0L346.4,201.9L345.1,202.5M335.6,191.8L335.7,190.4L336.3,189.0L337.2,187.3L337.9,185.0M349.4,205.1L350.1,206.9L351.1,209.1M345.7,210.8L346.6,212.3L347.4,214.1M332.2,203.8L333.5,202.8M315.0,211.0L313.9,212.2L312.1,213.8L310.7,214.6M339.2,215.1L341.3,215.5L342.8,215.7M339.4,208.0L340.1,206.0L339.2,204.2L338.4,202.7L337.4,201.7M317.8,189.7L316.1,188.9M307.3,197.3L306.5,198.6L307.0,200.4L306.8,202.1M331.7,195.1L332.9,193.8L332.7,191.4M304.8,204.2"/>
<path stroke="#5bba47" d="M336.6,211.8L336.3,210.3L334.5,209.0L332.4,207.8M315.1,197.0L315.5,198.4L316.4,199.4L316.8,201.8L317.9,203.4M329.0,187.2L328.3,188.6"/>
<path stroke="#f29d22" d="M348.2,234.7L348.9,233.4L350.4,232.4L351.1,230.2L351.8,228.9M324.3,199.8L325.5,201.6M336.6,211.3L338.4,209.5L340.0,207.8L341.4,207.3L343.4,205.8M354.3,226.3L353.8,224.1L354.6,222.1M344.4,187.2L345.9,186.0M347.8,226.1L349.7,225.1L351.9,224.2L354.5,224.0M343.1,194.3L345.3,195.3L346.1,196.8L348.0,198.3M326.0,200.8L323.9,201.8L321.9,202.9L320.2,202.3L317.9,202.6"/>
<path stroke="#111111" d="M312.6,217.9L312.1,220.5M350.4,211.9L352.0,213.7L351.8,216.1L351.4,218.2M324.2,203.9L322.4,202.5L320.5,202.0L318.7,201.9M325.2,208.6L325.5,206.5L327.2,205.4L328.9,204.0M345.0,231.8L343.2,231.6"/>
<path stroke="#e2262a" d="M326.6,197.3L326.8,198.8L326.3,201.1L327.2,203.0L327.8,205.1M307.8,209.5L308.9,210.6L309.0,212.0M321.8,198.6L321.6,200.6L322.6,201.9L323.1,203.9"/>
</g>
</g></g>
<g filter="url(#wsh)"><g mask="url(#hm7)">
<g filter="url(#wsh2)" stroke-linecap="round" stroke-linejoin="round" fill="none" stroke-width="1.3">
<path stroke="#2fa848" d="M406.8,184.7L408.3,183.2M413.5,195.0L414.0,193.7L414.6,191.5L415.8,189.7L415.4,187.6M397.7,185.0L396.7,186.3L395.8,187.8M413.1,203.2L415.5,204.1L417.2,204.9L418.6,204.2L420.5,203.5M380.5,187.1L382.9,188.0L384.4,189.0M405.9,206.9L404.5,206.7L402.7,207.5L401.9,209.0M404.6,185.1L404.2,187.3L402.6,189.3L400.4,189.4L398.4,188.0M383.3,205.9L384.5,207.4M375.8,190.8L377.6,191.6L378.6,192.9L379.5,194.4M413.9,205.5L412.8,203.7"/>
<path stroke="#3cb44a" d="M387.9,198.4L389.6,199.2L391.5,199.0M405.5,197.3L407.0,197.4L408.7,196.3L409.3,194.8M386.7,181.9L384.5,183.2L383.1,183.9L382.0,185.1L379.8,185.7M371.3,204.9L368.9,205.1M403.4,205.6L401.8,206.5L400.8,208.1M379.1,213.8L377.6,212.9L377.2,211.0M406.5,204.8L408.9,204.2L409.7,202.8M420.7,195.1L419.2,195.8L418.1,197.2L416.9,199.3M375.0,196.8L373.8,195.0L372.2,194.8M393.7,199.4L391.9,198.0L390.5,198.3L388.9,197.4"/>
<path stroke="#e8e01e" d="M374.9,204.4L375.4,201.8L376.1,200.3L377.6,199.0M426.5,225.6L427.5,226.7L428.0,228.3M401.6,205.0L402.3,206.9L401.7,208.7M381.6,211.0L381.3,208.8L381.9,207.4L382.6,206.1M378.1,213.6L377.2,211.5M394.0,200.3L394.3,202.8M390.2,209.4L389.5,207.4L389.4,205.0L390.6,202.8L390.8,201.2M375.8,210.6L377.9,212.0L378.3,213.7L378.3,215.7M399.1,207.4L400.4,205.7L401.2,204.5L402.4,202.3L402.4,200.3M414.0,213.1L412.1,214.3L410.4,213.6L409.5,212.4L408.9,210.5M410.5,216.9L412.0,216.1L413.5,214.2L414.7,213.5L415.2,211.5M420.1,226.7L421.4,228.8M406.3,200.2L407.9,198.6L409.9,198.3M398.4,193.2L397.3,192.2L396.1,190.6M374.4,192.5M382.0,194.8L383.9,196.6L386.1,196.5L387.6,196.6M389.1,193.5L390.9,192.8L393.2,193.5"/>
<path stroke="#b5d335" d="M422.9,202.4L424.3,203.5L426.1,203.2M392.4,195.9L394.4,197.2L396.4,196.8L397.5,194.7M389.3,212.1M418.8,185.9M415.6,201.8L414.8,203.3L413.3,204.0L412.3,205.6L411.2,207.0M409.7,185.6L407.9,185.0L406.3,184.8M422.7,210.4L422.5,212.6L423.2,214.8L425.2,216.4M407.1,198.4L405.4,199.8L404.0,201.0M419.6,197.7L421.9,198.2L423.5,198.7M383.1,218.1L385.2,216.7L387.5,215.8M397.7,193.0L395.1,192.6L393.8,193.6L392.3,195.3L391.2,197.5M398.2,199.9L399.8,201.3L399.9,202.7L398.4,204.4"/>
<path stroke="#8cc63f" d="M384.6,206.6L382.7,206.8M393.2,193.2L390.9,193.7M410.0,184.9L411.7,184.0L413.1,183.5L413.7,182.0L415.0,181.4M393.4,206.4L395.1,204.8L396.7,203.7L398.0,202.3M406.2,187.9L405.4,189.1M386.5,193.1L387.9,192.7M405.3,205.5L403.6,204.0L403.4,201.8L402.2,200.4L401.9,198.9M394.2,193.7L394.5,195.7L395.9,197.5L397.8,199.0M387.0,185.5L387.8,184.1L389.9,182.6M371.1,197.0L373.0,198.2M411.5,197.3L413.3,196.6L415.5,197.0L417.7,197.7L419.8,197.6M369.5,211.5L369.8,213.0M377.7,221.7L375.4,221.7L373.8,220.9M410.3,195.3L408.3,195.4L407.1,194.4L406.2,193.0M399.9,193.6L400.9,191.4M388.5,189.7L389.4,191.2M389.1,203.7L389.8,206.1M388.3,187.8L387.1,187.1M408.2,184.2L406.2,185.5L404.4,187.4M417.3,213.9L417.4,212.4L416.7,210.1L415.5,208.4"/>
<path stroke="#f29d22" d="M427.1,228.0L428.1,229.0L428.4,231.2L428.6,233.8M411.7,210.7L411.7,208.3M422.7,215.4L424.8,215.4L426.2,216.6L426.8,218.3M410.5,212.1L409.0,211.5L407.7,212.1"/>
<path stroke="#5bba47" d="M418.4,204.6L417.0,203.4L415.7,201.6L413.6,201.0L411.8,201.0M410.6,220.6M386.2,219.8L384.4,220.9M385.3,199.9L384.1,202.0L382.9,203.4"/>
<path stroke="#111111" d="M390.7,191.2L390.1,192.6L390.9,194.3M405.0,198.7L403.3,198.0L401.6,198.1M386.2,206.4L384.3,206.4"/>
<path stroke="#6cbf45" d="M373.9,199.6L374.8,198.4L376.2,197.7L377.1,196.5M420.4,193.4M420.2,219.6L419.5,218.2L420.1,216.8L420.1,214.6L421.3,212.6M400.8,199.7L401.4,201.8L401.8,203.4L402.3,205.9L402.8,208.2M416.2,220.7L414.5,221.1M386.4,185.2L388.4,186.8L389.4,187.8M374.8,216.8L377.2,217.6L379.1,217.5L380.2,216.3M428.6,221.4M411.6,221.3L412.7,219.4L412.8,217.3M387.6,185.1L389.0,186.1L390.4,186.2L392.7,186.1L394.3,184.4M406.9,185.0"/>
<path stroke="#e2262a" d="M383.2,213.5L381.6,213.2M384.4,211.3L383.2,212.2"/>
</g>
<g filter="url(#wsh2)" stroke-linecap="round" stroke-linejoin="round" fill="none" stroke-width="1.3">
<path stroke="#e8e01e" d="M378.6,209.3L380.4,208.3L381.3,206.3L382.0,203.8L382.7,202.0M383.8,181.1L384.8,183.1L386.7,183.5L388.8,184.1M382.1,197.6L383.6,197.6L385.3,197.9M377.2,188.9M385.6,205.5L385.6,207.1L386.3,209.1M413.8,213.6L412.4,212.9L411.0,212.2L410.1,210.1M396.6,204.0L394.5,203.3L392.8,203.8M388.7,181.5L390.6,181.8L391.9,183.5L393.2,185.5M414.9,186.2L416.7,185.8L418.4,185.3M387.5,187.6L389.3,188.1L390.7,188.5L392.7,188.5L394.2,190.1M422.0,226.2L422.7,224.8L423.6,222.7L425.2,222.1M391.1,188.9L391.4,190.8L391.9,192.4L393.7,194.1M381.6,189.3L382.9,191.2L383.8,192.4M392.9,184.0L394.2,185.2L395.9,186.0M427.4,231.8L425.9,231.0M420.7,210.2L422.3,210.1L423.8,210.3M374.5,194.3L376.9,194.1L378.4,192.3L380.1,192.0M369.8,207.3L369.7,209.0"/>
<path stroke="#5bba47" d="M406.4,195.4L405.7,196.7L403.6,197.5L401.1,196.7L398.8,196.5M410.9,205.2L409.4,205.1M419.9,225.0L421.3,224.5M383.2,194.7L383.8,192.2M396.5,199.0L397.8,198.2L399.2,197.7L400.3,196.1L400.8,193.8M400.1,201.7L402.0,203.1M384.4,186.2L382.2,186.0L380.8,184.9M415.4,208.2L413.9,206.7M374.9,190.5L377.0,192.0L378.7,191.5L379.7,189.4M420.6,207.2L419.2,208.9L419.3,211.5M372.0,196.3L372.4,198.8L373.7,199.8L375.2,201.5M405.5,205.5L405.4,207.6L405.1,209.1L405.3,211.5M381.4,203.8L382.9,203.5L384.4,201.8L386.6,201.5L388.5,200.6"/>
<path stroke="#e2262a" d="M409.8,207.9L411.3,210.0"/>
<path stroke="#8cc63f" d="M412.4,188.9L411.6,186.9L410.8,184.7L411.0,182.5L412.4,181.0M378.4,190.7L377.0,188.9M381.1,214.6L379.6,212.6L377.7,211.6M418.1,223.8L417.2,222.0L416.4,219.8M420.4,221.7L419.9,223.3M424.1,234.4M423.3,203.6L421.9,201.7L422.3,199.5L423.5,198.4M416.5,217.6L419.1,217.8L420.7,219.2M411.6,206.4L412.6,208.1M399.6,188.7L401.3,189.1L403.2,189.2L405.0,189.0M387.4,200.4L388.1,202.2L387.4,203.9L385.2,205.3M419.7,189.8M420.4,194.6L422.7,195.4M415.0,212.2L415.9,211.1L415.9,209.0L416.6,206.7M385.6,202.2L385.9,204.0L386.1,206.0"/>
<path stroke="#2fa848" d="M392.0,184.7L393.2,183.6L394.8,183.5M425.0,221.9L425.2,219.3L424.7,217.0M412.7,204.4L413.8,206.5L413.1,208.2M420.7,212.2L420.0,214.3L419.2,216.3M383.2,192.4L381.7,192.1L380.6,191.1L379.1,191.0L377.7,189.8M392.5,186.2L391.1,187.8M384.3,214.4L384.9,216.8L385.2,219.1M403.5,187.3L404.7,188.7M405.7,204.2L406.1,205.7L405.7,207.2M388.0,186.8L386.5,188.8L385.5,190.7M384.1,186.4L385.3,187.9L385.3,190.1L385.6,191.8L386.5,193.0"/>
<path stroke="#111111" d="M423.9,219.2L422.2,218.2M416.3,220.2L418.6,221.5L420.8,222.5M392.5,189.1L390.5,189.7L389.3,192.0L389.2,194.5L390.4,195.8"/>
<path stroke="#f29d22" d="M395.8,187.4L397.3,189.4L399.0,189.9M414.8,225.5L416.9,226.8M425.1,210.9M382.7,209.1L384.3,210.8L385.9,212.6L386.0,214.7L385.0,217.0M389.5,200.7L391.2,200.5L393.1,200.8L394.5,202.4L394.3,204.1M426.6,215.3L427.2,217.4M383.0,212.7L384.5,212.7M411.8,190.4L410.9,192.2L409.4,193.0"/>
<path stroke="#6cbf45" d="M413.1,199.2L412.7,200.7L413.3,202.3L412.5,204.7L411.6,206.3M391.6,202.7L391.3,200.4L392.8,198.7L393.5,197.0M387.6,187.3L388.1,188.9L387.0,190.8M389.7,204.8L387.6,205.1L385.7,206.6L383.3,206.5L382.2,207.3M374.8,208.4L374.0,205.9L372.6,204.5M424.9,212.5M386.6,191.7L386.8,193.2L386.9,194.8M404.3,200.0L404.4,197.6M417.1,187.7L415.5,186.2L413.6,186.4L411.9,185.8L410.0,186.0M403.8,196.1L402.6,198.0L400.5,198.5M405.2,188.2L403.0,188.7L401.5,188.3L400.4,187.2M387.8,189.5L386.6,188.6L385.7,187.5M417.4,203.2L415.6,203.5"/>
<path stroke="#b5d335" d="M378.1,217.6L377.2,216.3L375.1,215.7L373.1,214.0L370.9,213.8M404.3,203.7L405.1,204.9M412.7,211.3L414.9,211.9L416.4,212.5L417.9,212.2L420.0,212.0M403.6,207.7L404.5,206.4L404.9,204.2L405.9,202.2L406.2,200.4M421.8,231.8L423.1,232.8"/>
<path stroke="#3cb44a" d="M378.4,195.7L380.1,194.1L381.6,194.2L382.7,195.2L382.7,197.7M419.3,218.8L418.0,217.5L418.0,215.4L418.4,213.5L418.9,211.1M374.5,220.0L375.9,218.3L377.1,216.8M395.7,195.8L395.6,194.2L394.9,192.4M382.8,215.0L382.8,217.0L381.4,218.8L380.1,219.7M387.7,186.1L386.3,187.6L385.4,188.7L384.8,190.7L383.0,192.1"/>
</g>
<g filter="url(#wsh2)" stroke-linecap="round" stroke-linejoin="round" fill="none" stroke-width="1.3">
<path stroke="#e8e01e" d="M412.6,189.6L413.4,191.2L414.1,192.8M386.5,193.1L387.8,193.8L389.0,195.9L390.8,196.9M392.2,197.9L392.5,199.8L393.7,200.9L394.0,203.2L394.2,204.8M423.6,199.4L421.9,199.5L420.8,200.3L419.2,200.4M411.1,189.2L411.6,187.5M375.0,200.0L376.5,201.3L378.8,201.3L380.4,201.2L381.8,202.3M369.2,208.2M422.6,220.1L423.9,219.0L424.6,217.2M385.0,210.8L383.9,209.1L382.5,207.4L380.5,206.5L379.1,205.4M378.3,191.3L376.8,191.3L375.1,193.0M411.7,203.9L409.7,203.4L408.9,202.2M409.5,219.1M388.0,213.1L386.5,212.6L384.6,211.9L382.3,212.2M382.3,197.9L384.2,197.3L386.0,196.1L388.5,195.7M400.6,194.0L398.8,192.7L396.5,192.8L394.5,192.8M418.1,205.6L419.9,204.8L421.1,203.4M413.6,217.0L411.7,216.8L410.2,215.2L408.8,214.5L407.6,212.3M385.8,195.3L387.1,195.9M382.6,194.1L384.4,193.1L386.4,193.3L387.9,194.5L388.2,196.7M422.2,231.1L423.9,229.7M416.5,204.1L415.2,205.8L413.9,207.0L412.8,208.8L410.8,209.8M393.5,197.9L395.6,198.6L396.9,199.5L397.4,202.1L397.5,204.0M396.8,206.2L395.8,204.8L394.4,203.5L393.7,201.9M411.6,204.1L409.7,203.9L407.5,204.4L406.6,205.6"/>
<path stroke="#8cc63f" d="M416.2,190.2L418.0,191.2L419.6,190.5M412.1,186.7L413.7,186.0L415.4,184.8L415.5,182.6M403.3,187.4L405.2,186.4L406.8,185.3M411.3,199.8L411.9,201.5M402.1,207.2L402.8,204.9L404.6,203.9M425.4,207.5M412.2,184.5L411.5,185.8L411.9,187.7M374.8,210.9L375.3,209.0M383.5,195.3L385.3,196.5L386.9,198.0L388.3,198.9L388.8,201.4M372.8,199.9L371.2,199.3M386.7,189.6L386.3,187.2L385.6,185.0M422.8,208.7L422.9,206.6L423.8,205.3L424.6,203.5L424.6,201.6M373.4,195.4M404.4,204.1L403.7,201.6L404.6,199.9L404.1,198.3M403.8,208.0L402.6,209.5"/>
<path stroke="#f29d22" d="M379.8,212.0L381.5,212.4L383.7,213.6L384.1,215.3M411.2,187.7L412.6,189.4L412.4,191.4L412.5,193.0M374.0,196.0L374.0,194.2M390.1,205.2L389.6,203.4L390.4,201.9L390.5,200.0L391.7,198.6M409.9,218.3L411.6,217.1L412.0,215.2L410.6,213.2M423.8,229.1L425.8,229.9"/>
<path stroke="#111111" d="M387.4,200.1L387.0,197.8L387.3,195.8L386.5,194.5L385.0,192.9M398.7,194.6L398.8,196.8M421.7,200.3L420.3,202.1L420.6,203.8L419.9,205.2L419.2,206.4M393.3,207.1M383.3,188.7L382.5,190.4L380.9,191.8"/>
<path stroke="#6cbf45" d="M389.3,211.2L390.8,209.9L391.5,208.6L391.7,206.6M384.9,187.9L382.9,189.0L381.8,190.2L380.4,192.4L381.1,194.7M407.5,184.5M408.4,185.9L406.5,186.6L404.7,187.0L403.5,189.2L402.9,190.9M413.1,213.8L414.5,215.7L416.4,215.9M406.2,184.9L404.3,186.0L402.1,185.7M388.8,194.6L391.2,195.4L392.8,197.2L395.1,197.4M417.6,186.8L417.9,188.3L417.8,189.7"/>
<path stroke="#3cb44a" d="M383.1,186.3L383.0,188.3L383.5,190.1L384.7,191.0M378.3,224.0M383.8,201.3L381.9,202.4L380.3,202.6L378.6,202.0M416.9,215.5L418.4,214.6L420.2,212.9L420.8,210.8L420.1,209.2M408.4,197.8L408.1,196.3L408.1,194.5M401.9,199.2L403.1,200.3M392.0,191.1L391.8,192.9L391.5,195.1L392.3,196.8"/>
<path stroke="#b5d335" d="M410.5,200.4L409.8,198.0L409.8,196.1M411.8,206.9L412.9,205.0L414.9,203.5M413.8,204.9L415.0,203.6L416.2,201.9M422.0,207.1L422.3,208.6M418.5,199.1L417.9,197.5L416.9,196.4M377.7,220.5L378.7,221.8L378.8,223.9M410.1,201.6L411.4,203.4L413.3,203.7L415.2,205.4L415.9,207.2M414.3,196.8L412.7,196.4L410.8,195.4L409.8,194.1L407.7,193.7"/>
<path stroke="#5bba47" d="M409.3,186.6L407.5,186.2L405.9,186.8M417.2,194.0L416.8,191.8L416.3,190.4L415.0,188.7L413.4,188.5M380.5,190.4L382.9,190.7L384.9,190.6L386.6,190.6L388.4,189.1M415.7,181.2M379.9,205.7L378.5,204.8M390.8,186.6L390.1,185.1L388.0,183.8L385.9,182.7L384.6,181.0M400.2,188.8L398.5,189.7L397.1,189.5M397.6,195.7L397.5,193.9L396.2,191.8L394.9,189.7M412.7,213.9L412.9,216.0L411.5,218.0L412.0,219.7L413.3,220.5"/>
<path stroke="#2fa848" d="M376.2,222.3M378.8,193.2L376.7,192.4L375.2,192.3M379.0,195.6L380.6,195.4L382.2,193.9L384.2,194.0M379.1,203.9L379.9,206.0L379.6,208.2M422.2,203.0L422.5,201.6L423.5,199.9M371.7,198.2M378.7,197.7L378.4,196.1L378.3,193.5M376.3,223.1"/>
<path stroke="#e2262a" d="M417.4,228.1M408.5,217.7L409.9,216.4L409.9,214.3M398.2,191.2L395.6,191.0L393.2,190.8"/>
</g>
</g></g>
<g filter="url(#wsh)"><g mask="url(#hm8)">
<g filter="url(#wsh2)" stroke-linecap="round" stroke-linejoin="round" fill="none" stroke-width="1.3">
<path stroke="#6cbf45" d="M451.0,198.0L453.4,198.5M466.7,210.2L465.2,209.5L463.7,207.4L463.6,205.7M492.0,199.9L493.1,197.8L492.7,195.9L492.3,194.5L493.4,192.6M446.9,225.7L447.2,227.4M449.1,215.3L449.3,217.6L449.6,219.8L450.9,221.8L452.8,222.4M450.2,198.0L448.7,198.4L446.3,198.9M462.0,210.5L461.8,212.5L462.7,214.9L462.1,216.2M449.3,207.7L451.2,206.8M460.1,217.5L459.5,215.6L459.2,213.7L458.2,212.0M450.7,190.9L449.5,192.3L447.9,192.7M488.9,199.1L491.1,198.9"/>
<path stroke="#111111" d="M483.6,195.4L482.1,195.0L479.7,196.0M447.6,218.3L449.4,219.3M462.8,203.6L462.9,201.4M474.4,207.4L474.2,204.9"/>
<path stroke="#8cc63f" d="M451.7,226.7L450.1,227.2L448.7,228.3L447.2,227.9L446.4,226.4M474.3,190.6L475.6,188.7L476.6,186.7L478.1,185.9M491.0,190.5L491.7,192.0L491.3,194.0L490.7,196.4L489.6,198.0M460.7,192.8L461.0,191.0L462.3,190.0L464.1,188.2M491.1,188.4M505.6,224.3L506.6,226.1M458.0,178.3M474.6,188.0L475.9,189.3M481.0,185.1L480.0,187.4L477.7,188.5L476.2,189.5L474.0,189.4M491.2,211.9L491.6,209.9L490.8,208.2M469.9,192.0L468.4,190.9L466.2,190.1L463.9,188.9M458.4,196.8L458.2,198.3L456.4,200.1M487.6,192.3L488.9,193.2L490.3,193.3L492.4,191.7M448.5,203.0L447.0,204.2L444.8,203.8L442.9,203.4M474.1,186.0L475.1,184.6"/>
<path stroke="#e8e01e" d="M491.9,217.8L494.2,218.7L496.5,218.1L498.5,217.4M480.9,181.0M505.4,213.0L504.0,211.5L502.9,210.3M460.1,231.1M485.6,183.5L484.5,185.8L483.6,187.9L484.7,190.1M501.2,224.8L501.0,226.3M450.1,213.3L450.9,214.8M503.3,202.6L502.0,200.5M499.6,226.2L497.4,225.6M501.8,213.7L502.2,215.9M449.9,200.7L450.4,198.4L451.3,196.1L453.5,194.9M443.0,214.5L441.7,215.9M497.2,206.9L499.5,206.1L500.4,204.7L502.4,204.1M495.7,196.8L495.8,194.7M460.9,209.8L460.5,207.4L459.9,204.9L460.4,203.1L460.3,201.0"/>
<path stroke="#5bba47" d="M476.9,188.2L477.4,186.3L476.9,184.5M450.5,194.3L449.0,194.7L448.1,196.3L446.5,197.3L445.7,199.6M462.5,189.1L463.0,186.6L462.5,184.1M472.5,186.3L473.5,185.0M489.2,219.7L489.9,221.3L491.3,222.4L492.3,223.6L492.4,225.0M447.7,225.6L446.6,224.7L445.0,224.5L443.3,223.6M475.6,190.0L477.7,191.1M454.9,190.8L455.4,189.1L457.2,187.4M443.4,222.8"/>
<path stroke="#e2262a" d="M446.3,216.9L447.7,215.5L449.3,214.5M470.2,211.8L468.7,212.6L467.0,213.4L465.4,213.6L463.8,213.4M450.4,208.0L448.9,209.4L448.4,211.4L447.6,212.8L446.2,214.5M450.1,195.3L451.9,196.1L454.1,197.2M499.2,200.8L497.7,200.5L495.2,200.1L493.6,201.2L493.3,202.7M501.2,227.3L500.6,228.6"/>
<path stroke="#b5d335" d="M470.3,188.4L468.9,189.1L467.2,189.1L465.5,189.3M449.0,233.7L450.8,232.9M500.5,202.6L501.5,203.7L501.5,205.5L502.6,207.8L502.4,210.3M498.1,229.8L498.9,228.5L499.8,226.2L500.7,224.5L501.7,222.6M469.2,197.8L467.5,197.3L465.2,196.6L463.8,195.2L463.1,193.8M477.9,198.4L476.5,198.7L475.1,199.4L473.3,199.2L470.8,199.0M492.3,209.4L494.7,210.4L496.4,210.3L498.5,210.8L499.9,212.0M458.8,228.5L460.8,229.3M458.0,221.0L459.7,220.0L460.8,219.1"/>
<path stroke="#3cb44a" d="M502.9,213.8L503.1,211.2L501.8,209.6L500.7,208.3M461.5,217.0L459.0,216.7L457.4,217.4L455.1,217.1L453.2,216.4M472.7,186.1L473.3,184.6M464.0,197.5L464.1,199.2L463.6,200.8M474.6,196.9L472.6,196.2L471.5,193.9L471.7,192.2L471.8,190.0M503.6,204.7L501.5,206.0L500.2,206.9L498.4,207.3M457.5,212.7L456.8,211.3L456.6,209.3L456.0,207.5"/>
<path stroke="#f29d22" d="M471.2,191.7L470.0,193.0L470.0,194.9L470.1,197.0M448.2,209.9L449.2,208.7L449.1,207.2M451.5,229.8L452.9,230.1L455.4,230.1L456.7,231.2M474.2,207.5L472.8,208.9L471.2,209.6L469.2,208.7L467.9,206.9"/>
<path stroke="#2fa848" d="M474.1,208.9L475.3,207.5L476.5,205.5L477.3,203.9L477.2,202.3M455.1,206.1L455.8,207.7M483.9,182.4L486.4,181.8M455.3,182.4M488.8,199.8L487.9,197.6L485.6,196.9L483.8,195.5L482.4,195.1M489.7,216.1L491.3,215.4"/>
</g>
<g filter="url(#wsh2)" stroke-linecap="round" stroke-linejoin="round" fill="none" stroke-width="1.3">
<path stroke="#8cc63f" d="M451.3,191.7L450.5,193.0M464.4,196.4L464.1,194.7L463.9,193.2L464.6,191.9M456.7,207.5L456.8,209.2L456.5,211.4M466.0,204.9L464.0,204.0L461.6,204.9M475.7,200.2L474.4,199.5M451.7,220.6L451.4,219.0M457.2,232.2L454.7,232.6L453.0,232.5M498.1,213.9L500.1,214.3L501.9,213.4M445.5,204.6L446.8,206.0L449.1,205.7L450.6,205.9M484.9,207.5L482.7,207.1L480.7,207.2M461.3,188.3L462.8,189.1L463.3,190.8L465.3,192.1L467.1,193.0M493.7,193.9L496.1,194.3M485.8,176.4L484.3,177.8M492.9,212.8L492.0,214.6L490.6,216.2L489.1,216.7L487.0,217.2M483.3,184.8L485.4,185.5L486.7,185.9L488.9,185.4M459.4,208.0L460.5,206.4L461.9,205.4"/>
<path stroke="#e8e01e" d="M503.3,227.1L505.2,227.4M493.6,224.1L495.7,223.6L498.1,222.8L499.1,220.8L499.1,218.9M475.6,204.8L477.1,205.4L478.9,205.4M456.6,233.6M453.3,198.4L450.9,197.9L449.1,197.1M470.4,191.5L468.8,193.4L468.6,195.3L468.5,197.5L468.8,198.9M456.3,230.6L454.4,230.7L452.4,230.7L450.8,232.2M482.4,186.2L480.8,185.7M459.1,214.5L459.2,212.9L460.6,211.4L462.2,210.7L463.5,208.9M469.8,210.8L471.1,211.6M450.9,226.5L449.0,225.2L446.5,225.8M488.8,189.0L489.1,190.5M477.1,199.6L478.6,200.1L479.8,200.8L481.9,200.6M502.7,230.1L502.6,228.2L502.1,226.8L501.2,225.6L501.5,223.0M501.4,227.6L502.7,226.4M483.0,200.2L484.1,201.5M441.9,218.4L443.3,219.1L445.6,218.3M443.2,209.3L441.5,210.2M484.3,202.3L486.2,203.9L487.8,203.7L489.8,204.7M455.7,229.6L454.3,229.1L452.6,228.0L451.4,226.0"/>
<path stroke="#2fa848" d="M462.3,212.6L460.7,212.7M448.7,200.7L446.3,200.8M472.6,198.9L474.1,198.0L476.5,198.5L478.5,197.9M489.5,214.5L489.8,215.9L492.0,217.0L493.4,218.7M492.2,213.3L491.6,212.0M480.5,192.6L480.9,190.1M485.2,194.0L486.8,193.4M501.6,223.5L499.7,224.6M455.9,185.8L457.4,185.8L459.3,186.6L459.7,188.1M499.5,219.9L497.7,219.4L495.8,219.2"/>
<path stroke="#3cb44a" d="M472.1,191.6L474.5,191.7M473.0,185.5L474.5,186.3M496.8,197.2L495.1,195.3L493.9,193.2M483.8,207.1L485.6,208.3L487.0,210.2M443.0,205.5L444.1,206.6L446.4,207.0M455.4,217.0L456.8,215.9M472.2,202.3L473.2,201.0L473.0,198.7L474.7,196.8L476.4,195.0"/>
<path stroke="#6cbf45" d="M482.5,182.8L484.1,184.4L484.0,186.1L484.7,188.0L484.5,190.4M464.8,189.4L466.5,188.1L469.0,187.8L471.4,187.2M497.2,220.2L494.6,220.6L493.2,222.6L492.1,224.2M503.9,209.7L503.1,208.2L503.3,206.1M457.6,211.8L456.0,212.1L454.3,211.2M446.3,199.4M456.2,218.0L456.2,216.0L456.4,214.0L458.1,212.8L459.0,210.7M457.9,200.5L457.9,198.4L457.2,196.0L456.6,193.6L457.7,192.1M490.2,207.6L491.0,209.6"/>
<path stroke="#5bba47" d="M460.4,224.2L457.8,224.2L456.0,222.9L454.5,222.9L452.6,223.0M472.1,204.9L470.2,205.8M486.9,185.9L487.4,183.7L488.3,182.4M444.0,201.8M452.7,205.1L450.7,203.9L448.6,203.9M492.4,212.7L490.9,213.2L488.5,213.8"/>
<path stroke="#f29d22" d="M471.4,210.2L470.1,208.6L467.7,208.1L465.6,208.2M466.2,184.3L464.9,183.6L462.6,183.2L460.1,183.7L457.9,183.4M502.5,229.4L500.8,228.3L499.6,227.0M441.8,214.6L443.9,215.0L445.0,216.8M486.8,180.3L486.6,178.5L485.7,176.9M485.1,190.5L484.0,189.3L483.3,187.0M486.4,179.2M487.5,179.6L485.2,180.6L483.1,181.9L480.6,181.8"/>
<path stroke="#e2262a" d="M486.2,178.4L485.1,180.2M457.4,193.3L455.4,194.7L453.8,195.7L451.7,195.9L449.9,197.2M453.8,195.2L452.6,196.7"/>
<path stroke="#b5d335" d="M443.7,211.7L441.7,212.1L440.6,213.9L440.1,216.0M458.4,179.6L457.3,181.2L456.8,182.8L456.3,184.2M467.9,202.6L469.8,202.6M440.9,214.2M477.4,196.9L477.7,194.9L479.1,193.9L480.0,192.5L480.0,190.8"/>
<path stroke="#111111" d="M461.7,223.5L462.7,225.8L463.0,227.5M442.8,219.0L444.0,220.5"/>
</g>
<g filter="url(#wsh2)" stroke-linecap="round" stroke-linejoin="round" fill="none" stroke-width="1.3">
<path stroke="#8cc63f" d="M483.3,207.4L484.7,208.3L485.0,209.7M453.0,199.9L451.9,201.3L451.6,203.2L450.4,205.0M467.4,183.8M463.6,214.8L462.2,215.8L461.6,217.3L460.0,218.7M463.0,193.8L465.0,192.5L467.1,192.7L468.9,193.0L470.1,194.2M445.7,222.0L443.5,220.8L442.0,220.0L441.0,218.2M460.2,197.0L460.3,199.5L461.5,200.7L462.8,201.3M450.9,219.8L449.3,218.3M503.0,204.5M461.8,188.7L463.2,188.3M458.1,222.5L458.2,220.8M456.2,191.4L455.0,189.8L454.9,188.2L456.3,186.3L456.2,184.4M482.7,181.7L482.0,183.4L482.6,184.9M493.6,224.6L492.3,225.2M476.2,193.5L475.6,194.9L476.0,196.3"/>
<path stroke="#e8e01e" d="M443.1,216.4L442.9,214.2L442.9,212.3M482.1,192.6L483.6,191.9M444.9,223.4L446.4,223.0L447.9,222.9M442.9,211.8L444.1,212.7L444.9,214.2L445.4,216.5L445.9,217.9M470.1,212.6M495.9,203.5L498.2,204.2L499.6,206.2L501.2,206.6M503.8,216.3L501.7,216.7L500.2,216.7M472.2,200.5L473.4,199.7L473.9,197.4L473.1,196.1M486.7,200.5L488.6,201.9L490.7,201.8L492.1,202.7L493.9,204.0M495.8,202.8L494.1,204.0L494.0,206.6M443.7,206.5L443.1,205.2L443.5,202.8M501.5,219.8L500.9,221.1L501.6,222.6L502.1,224.0M458.6,186.0L459.3,187.3M452.6,213.9L454.3,214.7L456.0,214.0L457.6,212.8L459.1,213.0M503.4,217.0L505.6,215.6L508.0,215.4M448.8,212.0L450.6,210.3L452.2,209.4L453.6,208.4L455.5,206.8M447.7,201.8L448.0,199.4L447.4,197.7M453.2,200.6L452.0,199.1L452.2,197.5L453.1,195.1M455.6,232.9M481.1,208.6L479.2,208.6M450.5,229.6L451.7,227.8L452.8,225.5L452.3,223.7M502.0,220.4L500.4,221.3M452.5,196.2L452.8,197.9L452.5,200.3"/>
<path stroke="#5bba47" d="M468.0,184.8L468.4,182.6M503.5,224.3L505.7,224.2L507.8,223.7L509.7,224.7M447.4,197.3L448.5,198.1M455.6,200.8L453.5,199.4M500.8,212.6L502.4,211.1L503.9,210.7L504.9,208.5M467.2,202.2L466.8,199.8L466.4,197.7L465.9,195.7L464.3,195.0M470.8,203.9L472.5,205.1L473.7,205.8L474.5,207.1M475.1,187.3L472.6,188.1L470.5,189.5L468.4,190.7"/>
<path stroke="#3cb44a" d="M460.6,194.9L462.0,196.8L463.4,198.3M472.5,195.6L472.2,193.1L471.1,191.1M484.2,212.6M457.8,197.8L458.5,196.4L457.6,194.6L458.5,192.5M446.5,224.0L444.5,224.5"/>
<path stroke="#b5d335" d="M495.9,205.1L494.0,206.1L492.1,207.6M461.7,208.9L462.0,207.5L461.7,205.8L461.2,204.0M459.0,196.9L460.3,196.4L461.4,195.3L461.8,193.8L462.9,192.2M461.5,216.7L459.7,217.6L457.4,217.6M468.9,184.8L470.6,183.8M488.7,187.8L490.5,189.1L491.5,190.2"/>
<path stroke="#f29d22" d="M507.6,219.6L505.5,219.3M497.9,197.9L497.2,199.1L497.6,200.9L496.5,202.9M484.8,183.5L484.2,182.0L485.2,180.0L486.6,178.4M483.4,191.6L482.7,189.9L482.8,187.9M454.2,221.2L453.9,218.8L453.7,216.4L452.1,215.0M496.6,199.6L497.6,200.6L499.7,201.7L501.1,201.4M441.8,214.8L444.2,214.1L445.4,214.9M503.6,218.2L504.2,216.3M497.9,226.0L497.6,223.6M440.9,216.6"/>
<path stroke="#2fa848" d="M498.9,229.1L497.9,227.7L496.9,226.2L495.5,225.8L494.1,226.3M453.1,200.6L454.0,201.7L456.3,202.2L457.3,203.6L458.7,203.9M492.0,210.1L490.9,211.2L489.7,212.7L487.9,213.7M492.4,216.5L490.7,217.4L488.9,217.2L487.5,215.9M499.6,218.8L498.2,218.4L496.3,218.9L495.2,218.2M496.1,209.8L494.5,209.4L492.4,209.9L490.7,210.2L488.8,211.8M488.7,189.8L488.3,192.2L488.9,194.5M501.2,211.1L501.8,213.6L502.3,215.4L504.3,216.5M480.9,183.1L480.4,181.3M467.2,190.7L466.5,188.7L465.3,187.8M493.3,205.2L493.6,206.8L494.8,209.1M507.0,223.5L505.4,224.5L503.6,225.5"/>
<path stroke="#111111" d="M453.8,185.3L453.3,186.8M443.4,221.6L443.2,223.0M506.2,224.0L507.6,223.1L508.2,221.1"/>
<path stroke="#e2262a" d="M454.4,194.3L452.0,194.1L450.3,194.8M451.0,216.4L450.7,214.5L449.0,213.0L446.8,212.3"/>
<path stroke="#6cbf45" d="M476.2,185.0M485.7,208.9L484.2,209.7L483.1,210.5L481.6,210.9"/>
</g>
</g></g>
<g filter="url(#wsh)"><g mask="url(#hm9)">
<g filter="url(#wsh2)" stroke-linecap="round" stroke-linejoin="round" fill="none" stroke-width="1.3">
<path stroke="#e8e01e" d="M356.8,289.6L356.1,287.6L354.9,286.8L353.6,285.0M303.7,270.0L305.5,268.9L306.2,266.7L307.6,265.3L309.2,264.3M321.6,278.7L322.4,277.0L322.7,275.0L323.6,272.8M352.3,283.3L354.3,282.4M312.3,292.1L310.9,291.2L310.2,289.6M323.7,274.4L325.4,274.4M336.5,251.3L338.1,250.9L340.2,252.2M307.7,293.1L305.9,293.2L304.2,294.0M337.4,252.1L339.4,253.6L341.8,253.3M327.3,261.0L328.0,259.3L329.0,257.2M352.9,289.8L352.5,288.3L351.0,287.6L349.2,285.7M309.0,272.4L309.4,270.7L309.6,268.4L310.4,266.6L311.7,265.5M335.7,274.9L335.6,277.4L337.0,278.6L338.9,280.1L340.7,279.6M311.1,294.8L308.9,293.9L307.5,294.0L306.2,295.2L305.7,297.1M313.0,258.1L312.8,255.8L313.9,254.4L314.8,253.3M315.7,283.2L315.4,284.9L315.8,286.9L317.2,288.6M318.1,270.1L317.9,272.1L318.4,274.5L317.5,276.4M323.2,273.0L324.7,274.5L325.8,276.3M336.2,252.2L338.3,251.8L340.2,250.8M311.1,272.8L310.6,274.2M297.3,291.0M335.7,256.9L335.6,254.9M326.7,270.1L325.0,271.6L322.7,271.3L320.9,273.0M305.9,288.8L305.6,291.2L306.6,293.3L307.1,295.1M307.2,291.9L307.1,293.4L305.4,295.2L304.8,297.0M313.1,280.5L314.8,279.1M337.9,260.2L339.3,260.7L340.2,262.3L341.4,264.1M325.4,268.7L324.1,269.9L322.0,270.1L320.8,271.5M311.6,288.5L309.8,290.0L308.1,290.7L306.8,290.1L304.2,290.0"/>
<path stroke="#f29d22" d="M348.3,291.6L347.9,289.4L347.0,288.0L346.4,285.8M356.8,283.1L354.9,284.0L352.7,283.0M323.5,265.1L322.4,263.6L320.1,262.7L318.2,261.7L317.7,259.6M334.6,272.3L333.2,272.0L331.9,270.7L331.8,269.3M316.4,269.9L317.3,272.4L316.9,274.9L315.8,276.9M332.0,266.5L330.6,264.4M342.3,256.0M344.3,276.8L346.2,278.1M330.9,270.5L329.8,268.9L329.3,267.5M317.1,290.0L315.1,289.7L313.2,288.9L312.2,286.7L312.1,284.9"/>
<path stroke="#5bba47" d="M301.9,283.3L299.9,284.0L298.5,284.1L297.2,285.6M330.6,255.2M300.6,274.9L299.3,275.9M311.8,252.2M335.2,261.5L335.3,259.9M302.2,270.0L304.0,270.1L305.6,269.7"/>
<path stroke="#8cc63f" d="M317.3,264.8L316.2,263.3L315.0,261.0L314.5,259.2L313.6,256.9M323.6,265.5L325.6,266.1L327.4,267.6L329.6,268.7M343.2,282.7L341.0,283.6M318.5,258.1L320.0,259.4M343.8,280.0L342.0,279.8M310.4,264.6L311.3,265.9L313.1,266.2M324.6,269.0L324.5,271.2L322.9,273.1M311.8,269.1L311.9,270.8L312.7,272.3L312.5,274.0L311.5,275.7M311.7,263.3L310.7,264.8L311.0,266.7L311.0,269.2L312.0,271.2M338.4,270.4L340.2,268.5L341.0,266.6L342.3,265.0L342.7,263.6M323.0,264.2L325.2,264.8M302.4,290.3L304.0,290.8M308.3,295.3L307.7,297.8L306.6,299.9M351.1,271.9L351.1,273.5L352.2,274.4M351.7,297.9L350.5,296.3L348.7,295.1L346.7,294.9M345.3,295.2"/>
<path stroke="#b5d335" d="M312.0,267.6L313.1,266.1L313.9,263.8L314.2,261.3M329.4,256.5L331.1,258.4L331.6,260.1M338.2,270.0L338.6,271.5L339.4,273.7L341.7,274.9M331.9,258.2L330.7,257.5L328.5,257.0L326.5,257.0M335.8,261.7L337.0,262.9L338.0,264.8L340.2,265.4M338.6,266.4L340.0,265.5L340.4,263.2L340.0,261.0M302.1,275.4L303.7,275.3"/>
<path stroke="#3cb44a" d="M307.7,264.2L309.4,263.1L311.1,263.0L313.3,263.3M313.2,285.1L312.6,286.8L311.9,288.2L309.8,288.7L308.7,289.7M337.7,254.9L337.1,253.5M335.4,271.7L336.6,269.6L336.6,268.0L336.1,266.2M347.0,297.4L347.7,298.8M313.9,264.6L315.5,263.9M310.3,288.5L308.4,290.1"/>
<path stroke="#e2262a" d="M338.6,278.6L339.0,280.7L340.2,282.1M306.0,293.8L307.6,293.6L309.4,294.6L310.7,295.3M307.3,291.3L309.0,292.8L310.5,293.1L311.9,294.4M356.0,287.6L356.3,286.2L357.7,285.4M308.3,270.6L308.4,269.1M299.5,292.2L301.7,292.7L303.2,293.6L304.9,295.5L306.4,297.3M339.9,281.1L340.7,279.2M323.2,260.6L325.8,260.4L327.8,261.6L328.6,263.4L329.1,265.1"/>
<path stroke="#2fa848" d="M322.9,259.4L325.0,258.0L327.4,257.7L329.0,256.0L330.4,255.7M335.4,256.5L335.7,258.1L334.4,260.3L333.0,261.1L332.2,262.7M339.2,272.0L339.9,270.8M312.2,295.7L313.3,294.5M344.2,280.3L345.2,281.9M336.7,253.8L335.8,252.5"/>
<path stroke="#6cbf45" d="M305.1,265.3L305.4,263.5L305.3,261.9M312.9,293.3L313.2,290.8L311.9,288.8M300.7,294.8L299.8,293.2L298.8,291.0"/>
<path stroke="#111111" d="M357.6,299.3L358.4,301.5"/>
</g>
<g filter="url(#wsh2)" stroke-linecap="round" stroke-linejoin="round" fill="none" stroke-width="1.3">
<path stroke="#5bba47" d="M359.3,301.5L357.7,302.6M302.7,266.8M301.2,294.2L301.1,292.0L299.5,290.1L300.0,288.1M309.8,266.8L311.5,265.7L312.4,264.2L312.6,262.1M359.6,290.7M300.5,296.9M338.9,261.9L339.2,260.1L338.7,258.7L337.1,258.2L335.2,256.5M338.1,275.3L338.5,277.4L339.5,278.7"/>
<path stroke="#e2262a" d="M316.3,280.6L314.8,279.9M329.6,270.3L332.1,270.1M316.6,278.7L317.2,277.2L319.1,275.7L320.2,273.8M316.1,273.7L314.7,274.4"/>
<path stroke="#6cbf45" d="M335.3,274.6L334.0,275.9L331.9,276.7L330.4,278.0M350.4,298.8L350.8,300.6L350.0,302.0M300.2,274.1M334.0,267.0L335.9,265.3L337.3,264.9M347.5,297.8M303.8,276.1L304.3,274.0L303.4,271.8M351.6,292.1L351.6,294.0L351.3,295.5L349.2,296.9L347.0,296.4M358.1,289.0L358.0,290.6L356.8,291.5M324.7,256.1M320.1,267.3L321.9,269.0L322.2,271.0M307.5,298.1L309.0,296.4"/>
<path stroke="#e8e01e" d="M305.5,273.4L306.4,274.7M350.8,293.7L348.9,294.2M326.6,264.8L327.2,262.7L328.0,260.4L328.0,257.9M337.5,276.5L339.0,275.8L340.5,274.6M349.8,286.3L351.5,286.1M352.9,284.1L352.4,282.0M343.2,257.6L343.7,260.0M324.0,261.2L322.2,260.5L319.7,261.3L318.5,263.1M309.2,270.0L310.8,271.5L310.7,273.6M298.0,280.5M326.6,270.9L324.7,270.2M336.9,256.3L336.5,254.9M304.8,297.3L303.2,297.4L301.7,298.2M326.5,270.2L324.7,271.6L323.7,273.0L323.4,274.6M338.6,251.4L339.9,252.5L341.1,254.2M328.6,273.2L330.7,274.2L331.5,275.8L332.6,276.8M300.4,279.4L302.1,280.4L302.5,282.0L303.4,283.4M347.5,267.3L346.8,269.3L345.9,271.1M326.4,274.2L324.8,275.2L322.6,275.2M355.0,284.7L355.8,282.7M326.6,268.2L328.1,266.9M355.8,281.9L354.0,282.2L352.5,282.4M325.1,273.0L327.3,272.6L328.6,270.5L329.2,268.2M332.8,272.6L331.5,273.4L330.3,275.0M330.6,273.0L329.2,272.9L327.3,273.5L326.0,272.9L324.7,271.9"/>
<path stroke="#8cc63f" d="M341.0,285.5M324.4,270.8L325.8,272.9L327.0,274.4L328.5,275.5M333.9,256.9L336.0,257.3L337.3,258.4L338.8,258.9M341.6,285.8M333.9,277.8L336.1,277.5L338.6,278.1M349.4,282.5L347.8,280.7M333.9,264.5L333.6,262.2L335.2,260.3L336.2,258.4M356.4,291.7L355.2,291.0M353.7,280.3L353.5,278.1L351.8,276.3L350.3,275.5M322.9,270.7L321.0,271.5L320.2,273.8M335.4,255.0L335.5,252.8M335.3,267.2L334.3,266.2L332.5,265.5L330.8,264.0"/>
<path stroke="#f29d22" d="M349.1,277.4L350.0,279.4M320.7,264.4L320.5,262.8L319.8,261.4L319.9,259.4M341.5,277.7L340.7,279.2L339.5,279.9L339.0,281.5M349.4,285.7L351.3,287.3M329.6,269.8L328.3,271.1L326.8,273.1M346.0,275.8L347.7,276.5M317.7,261.4L320.0,260.4L322.5,261.0M312.0,294.7L311.8,292.9"/>
<path stroke="#111111" d="M305.6,301.2"/>
<path stroke="#b5d335" d="M344.5,290.4L345.1,292.6L345.0,294.2M334.1,253.5L334.6,255.2M345.7,292.4L345.8,293.9M357.6,295.2L358.7,294.1L358.8,292.6L358.1,290.1L356.7,289.5M313.2,263.0L310.9,262.7L309.2,261.2L308.7,259.1L309.3,257.4M349.9,301.5M356.3,294.2L355.5,292.5L353.3,291.8L352.5,290.5M348.5,272.8L347.0,270.8L346.3,268.8L345.1,267.7L343.6,267.1M340.9,267.2L340.0,265.5L340.6,263.8L341.5,262.6"/>
<path stroke="#3cb44a" d="M298.0,292.0L299.2,293.4L299.1,294.8M306.9,293.2L305.7,291.9M354.1,289.6L352.4,288.4L352.0,286.4M322.0,258.4L323.0,256.8M308.1,273.1L306.7,274.8L304.3,275.6L303.3,276.8L302.8,278.7M347.3,293.9L347.1,295.8L346.6,297.7M350.8,294.0L351.0,295.6L350.0,298.0L348.5,298.5M340.3,253.9L339.8,255.2L337.5,256.0L335.8,255.2L334.8,253.1M322.8,267.3L324.0,269.6"/>
<path stroke="#2fa848" d="M310.2,285.9L310.0,288.2M329.8,261.7L328.2,261.5L326.3,261.9M343.8,267.3L345.0,265.1M344.2,273.4L342.2,274.0M306.3,278.2L303.8,278.5M309.5,284.9L307.5,284.9"/>
</g>
<g filter="url(#wsh2)" stroke-linecap="round" stroke-linejoin="round" fill="none" stroke-width="1.3">
<path stroke="#f29d22" d="M333.8,268.5L332.3,268.5L330.5,268.9L329.0,268.8M341.8,277.8L340.2,278.3L338.5,279.7L336.2,279.4M311.3,285.1L312.0,286.5L313.6,287.9L315.5,288.2L316.9,289.4M318.4,282.3L319.2,283.8M314.5,274.2L316.7,275.4L317.1,276.8M347.5,277.2L346.1,278.0L345.6,279.7L344.8,281.6M355.9,297.1L357.2,296.2M307.5,288.7L306.2,286.8M332.0,271.8L332.9,273.2M316.2,273.1L317.3,274.1L319.0,274.9L320.5,275.5M344.7,289.0L344.1,286.7"/>
<path stroke="#8cc63f" d="M351.9,298.8L351.0,300.4L351.0,302.0M351.2,281.4L352.1,283.6L352.7,285.2L352.6,287.4L352.4,288.8M304.9,288.1L302.8,288.6M349.2,293.3L348.1,294.9L346.7,295.2M332.9,277.0M343.5,280.4L345.6,279.9M304.5,273.3L306.0,273.5M346.9,275.1L346.2,276.5L344.6,278.0L342.4,277.8M311.6,265.2L310.0,264.9M322.9,279.0L324.5,277.2M305.7,281.8L307.2,282.9L308.6,285.1L310.3,285.7M336.2,267.4L338.0,268.2L339.7,269.8M335.4,275.7L337.8,275.2L339.4,275.3L340.8,273.9"/>
<path stroke="#e2262a" d="M349.7,280.0L349.1,278.5L347.1,276.8M317.1,284.6L318.9,284.9L320.4,284.2M339.7,276.1L339.7,277.8L339.1,280.2L338.4,281.9M311.9,293.8L310.0,293.5L307.7,293.6L305.9,294.0M348.1,276.7L346.7,278.0L346.0,279.2L345.7,281.3M320.6,284.5M323.5,279.0L322.1,277.7L320.3,276.2L319.1,275.0L318.9,272.9M321.6,273.9L319.6,274.1L318.5,275.9L318.9,277.8M301.9,297.3L303.5,296.3L305.2,295.2L305.8,293.9L306.0,291.6M336.2,250.6L338.0,249.3"/>
<path stroke="#3cb44a" d="M312.4,294.0L313.5,295.2M307.1,273.6L304.7,274.6L302.5,273.7L300.5,273.9M338.4,251.8L340.0,251.9L341.7,253.4L342.2,254.8M305.6,283.2L307.0,282.4M311.8,260.1L313.5,259.4L315.4,260.3M318.5,259.0L319.8,257.5M305.2,280.7L307.7,280.8L309.6,280.3M339.4,272.2L340.7,270.6L341.5,268.9L342.5,267.6L343.8,266.3M312.6,280.7L310.9,280.9L309.2,281.1M304.9,273.1L306.5,273.5L308.0,272.9L309.6,273.4"/>
<path stroke="#6cbf45" d="M336.8,260.9L336.3,259.4L336.2,258.0L335.1,256.5M345.6,269.6L343.4,270.4M317.1,267.9L317.6,269.6L316.5,271.4L314.4,272.2M299.7,274.9L299.9,273.5L301.3,272.3L302.7,271.8L304.0,270.5M335.3,274.8L335.7,273.3M302.6,288.7L303.6,290.6L304.0,292.5L305.7,294.0L308.0,294.3M305.0,281.1L305.1,282.7L304.7,285.2L304.7,286.9L303.7,288.2M310.7,257.1L311.0,255.2L310.8,253.2M322.3,258.9L322.2,256.4"/>
<path stroke="#e8e01e" d="M309.5,282.4L307.1,283.2L305.8,284.4L303.4,284.7M335.3,270.0L336.7,272.2M316.2,279.6L314.2,278.7M323.9,272.2L322.1,271.4L320.3,271.6L318.8,272.8L317.6,274.2M353.1,289.6L353.5,287.3L353.7,285.2L352.4,283.3M341.4,256.7L339.0,256.1L337.1,256.7L336.2,258.1L335.5,260.3M327.3,258.0L325.5,257.6L323.3,257.9L321.2,258.0M351.6,297.9L350.7,295.5M311.6,277.7L309.2,277.8M348.5,284.7L350.2,286.2L350.9,288.7L352.3,289.2M297.4,290.1L298.2,291.8M301.3,280.2L299.3,280.0M341.6,275.4L340.1,275.4L338.1,274.0L336.3,273.9L335.1,274.8M343.7,258.2L341.4,258.7M324.6,265.3L322.2,265.0L320.4,265.2L318.1,264.7L316.1,263.1M306.1,290.8L307.9,289.7L309.0,287.9M347.1,290.3L346.3,288.9L345.8,286.6L346.6,284.4M346.7,278.2L346.4,279.8L347.8,281.7L349.8,283.2L351.6,282.8M301.8,293.1L300.1,292.4L298.7,292.5M324.9,276.1L326.7,275.9L328.7,274.6L330.5,273.4L331.4,272.3"/>
<path stroke="#2fa848" d="M338.6,273.8L340.9,274.7L342.1,276.6M308.2,274.5L309.3,273.2M301.8,281.8L302.0,284.1L302.8,285.9L304.5,286.6M331.4,260.0L332.2,261.4M348.5,298.3L349.3,296.1L351.6,295.1M332.8,260.4L332.1,262.5L330.9,263.8L329.3,264.2M347.9,280.4L347.7,282.7"/>
<path stroke="#5bba47" d="M315.8,290.2M329.6,261.6L327.6,259.9L327.6,258.3L326.8,256.9M324.1,262.6L322.4,262.4M331.0,276.6L333.3,276.1L335.3,277.0L337.3,276.9"/>
<path stroke="#b5d335" d="M352.7,276.4M350.4,298.8L348.7,296.8M337.4,264.9L337.2,263.0L337.4,261.6L338.9,259.9M331.0,274.8L332.9,276.5L333.0,278.1M307.4,261.0L308.8,260.3M312.3,270.5L312.4,268.9"/>
<path stroke="#111111" d="M316.4,263.0L315.1,261.1L313.3,260.4L311.5,260.7M337.5,273.9L338.6,272.6L339.2,270.3M345.4,273.6L343.9,273.4L342.6,272.0L342.0,269.9L342.5,268.0"/>
</g>
</g></g>
<g filter="url(#wsh)"><g mask="url(#hm10)">
<g filter="url(#wsh2)" stroke-linecap="round" stroke-linejoin="round" fill="none" stroke-width="1.3">
<path stroke="#e8e01e" d="M386.0,274.7L386.0,273.2L387.1,271.7M381.5,299.7L380.1,301.0L378.2,301.8M381.1,255.2L382.7,257.0M411.2,279.1L412.6,277.8L414.6,277.2L416.0,276.9M405.5,265.0L403.5,263.8M424.6,301.6L425.3,299.8L426.3,298.4L425.7,296.4L426.2,294.8M388.3,270.5L387.0,271.3L385.5,271.4L384.0,272.0L382.3,272.6M405.6,257.5L403.9,256.5L401.8,255.2L400.8,253.7M424.9,297.3L422.4,296.4M406.4,260.3L407.9,258.9L410.1,258.1L411.6,256.1L413.3,255.6M424.9,277.6L422.6,276.8L420.5,276.0L418.6,274.5M383.4,293.3L385.4,292.7L387.0,293.4M386.9,256.6L388.1,258.0L388.6,259.8L389.3,261.9M422.0,283.5L423.3,281.5L425.0,280.9M421.4,297.7L421.9,295.7L421.7,294.3L420.7,292.3M417.9,282.0L418.0,283.9L416.9,284.9L415.9,286.6M374.8,280.8L375.1,278.4M379.4,303.1L381.1,302.5L382.5,302.2M410.1,271.4L410.8,273.4M385.6,255.3L385.1,253.4M421.4,276.3L420.0,277.7L418.4,278.2"/>
<path stroke="#3cb44a" d="M403.7,265.1L403.3,267.0L403.0,268.4L403.6,269.7L405.3,271.5M434.0,301.0M418.6,277.2L417.2,276.6L415.2,275.1M373.5,289.4M386.2,254.1L387.7,255.9L389.5,256.9L391.3,256.6"/>
<path stroke="#6cbf45" d="M385.1,276.1L385.9,274.3L387.0,272.8L388.2,271.0L390.1,270.0M392.8,284.6L392.8,287.1M388.2,265.8L389.5,264.7L390.8,264.3L392.1,263.2L394.5,263.5M385.2,297.8L385.7,299.6M414.1,291.9L413.5,290.6M426.0,285.1L428.3,285.1M422.6,296.2L423.4,295.0"/>
<path stroke="#e2262a" d="M379.7,301.7L382.0,301.6L383.5,301.7L385.7,302.8M387.6,276.1L389.3,277.2L391.1,278.5L393.5,278.8L394.9,279.2M423.3,274.9L421.8,273.7L420.4,273.3M392.3,266.1L393.3,267.8L392.6,269.9L391.5,270.9L389.8,270.9M382.9,276.5L384.5,275.7L385.6,274.5L387.6,274.1L389.8,273.1"/>
<path stroke="#111111" d="M374.0,289.3L373.4,290.7M396.1,265.7L398.4,266.5M378.9,280.9L378.0,279.3L377.1,277.6L376.1,275.8L375.5,273.4M415.8,270.2L414.1,269.4L413.4,267.9L412.2,266.4"/>
<path stroke="#b5d335" d="M381.8,260.8M395.2,282.4M385.7,264.0L384.3,264.8M428.2,290.4L429.4,288.4M386.3,279.8L387.3,278.3L388.7,276.7L390.8,275.5L392.0,273.9M385.4,253.5L386.8,254.5L387.7,255.9L387.3,257.7L386.0,258.5M421.0,279.7L421.5,278.1L423.2,277.0L424.8,277.4M386.5,266.7L384.2,266.9L382.7,268.3L381.2,268.9M409.7,261.9L411.4,263.3L413.2,264.8M421.7,278.4L423.3,278.8L425.8,278.8M420.0,292.4L420.6,290.6L421.4,289.3L422.0,287.1M398.4,269.5L398.6,267.3M377.6,295.5L379.0,295.9L380.5,297.1"/>
<path stroke="#8cc63f" d="M424.0,274.9M389.6,274.0L389.8,272.4M373.1,273.2L374.0,274.8L375.4,275.7M392.9,275.3L391.1,274.0L390.4,272.2L390.5,270.7M399.7,269.5L398.8,271.4L398.1,273.5M394.7,264.4L395.8,262.2L395.5,259.6L396.5,258.3L398.5,258.2M433.7,302.0L432.2,303.5L430.4,304.3M407.7,279.0L406.2,280.3M403.3,275.9L401.4,275.8L399.1,275.0M383.2,261.9L381.3,263.4"/>
<path stroke="#5bba47" d="M413.4,290.6M378.2,283.9L380.0,283.8L381.7,281.9L383.6,281.7L385.4,280.6M414.8,289.8L416.9,289.8L418.4,291.4L419.8,291.9M382.7,270.8L381.5,271.8M413.3,285.4M412.4,283.0L411.1,284.0"/>
<path stroke="#f29d22" d="M382.3,300.8L381.7,302.3M407.5,258.9L409.2,259.9L410.8,259.9L412.8,259.8L414.5,260.6M391.2,258.8L391.9,256.4"/>
<path stroke="#2fa848" d="M407.0,258.8L405.5,257.1L403.9,255.4L402.6,253.7M384.2,293.5L382.7,295.6M377.9,289.6L376.6,288.4M419.0,281.6L417.3,281.0M381.0,276.9L381.2,275.1M410.5,278.1L411.3,279.3L412.5,280.2L414.0,281.4L415.5,281.4"/>
</g>
<g filter="url(#wsh2)" stroke-linecap="round" stroke-linejoin="round" fill="none" stroke-width="1.3">
<path stroke="#e8e01e" d="M422.2,280.3L423.5,282.4M418.5,284.1L419.8,285.2L420.3,287.5L420.4,289.6M380.0,299.9L381.9,300.5L382.6,302.0L384.1,303.4M409.1,266.5L407.7,265.4M420.1,281.7L420.2,283.3L418.7,285.1L416.5,286.3L415.0,287.2M415.8,273.6L418.1,273.3L420.2,272.8M377.1,268.0L378.5,267.9L380.1,268.0M378.8,267.0L380.7,267.5M413.6,276.2L414.6,277.3M380.4,271.9L381.9,272.3L383.3,271.6M387.4,257.0L386.5,258.2M392.1,261.4L390.7,259.5M383.8,255.7L382.4,256.3M399.0,259.8L398.5,257.8M388.7,282.4L390.1,282.1M395.1,275.8L395.5,277.6L396.5,279.3M396.3,276.9L395.9,279.1M422.7,298.1L424.8,298.3M399.6,255.7L400.7,256.7L402.8,257.8L405.0,258.2L407.4,259.0M415.1,286.4L415.2,287.9L415.1,290.2M385.4,297.3L384.7,298.5L382.5,299.3"/>
<path stroke="#f29d22" d="M390.1,278.0L387.9,279.3L387.1,281.7L386.3,284.1M388.8,254.2L389.0,256.6L389.1,258.9L390.1,260.4L391.9,261.7M385.9,283.9L387.6,283.0L389.6,283.6L390.7,284.5L391.0,286.1M381.0,296.5L379.9,298.3L380.3,300.2L381.3,302.6M390.2,262.9L391.9,262.8L393.6,261.1L394.1,259.7L395.8,258.8M384.1,302.4M408.1,260.1L405.8,259.1M394.6,277.4L396.6,276.1M392.5,269.2L391.6,270.5L391.4,271.9L390.3,273.0L389.0,274.1"/>
<path stroke="#6cbf45" d="M419.7,287.1L420.0,284.9L422.1,283.6L423.3,282.7M379.1,265.7L377.4,265.6M415.8,281.7L414.7,282.7L414.0,284.5M402.0,279.8L402.8,278.4L402.5,276.8L402.3,274.5M407.8,273.3L409.3,272.3L411.0,272.6L413.3,271.5M406.3,270.0L407.9,268.7M406.4,279.1L405.7,277.3M413.8,273.2L413.4,271.0L412.3,269.3M411.4,254.1M417.5,268.2L418.8,267.7"/>
<path stroke="#3cb44a" d="M424.5,278.6M417.0,283.0L415.9,282.2L415.3,280.0L414.0,279.3L412.0,279.6M424.2,301.4L422.0,302.4L420.6,302.0M411.2,273.0L409.7,271.3L409.8,268.7L410.6,266.5L410.7,264.2M434.7,301.9L433.2,300.7L431.3,300.8M413.5,276.5L411.4,276.9L409.8,277.8L407.4,278.4L405.1,278.0M414.5,289.7L416.3,291.3L417.8,292.8L417.8,294.5M423.8,283.5L422.5,285.6L420.5,286.2L419.3,288.2L417.6,289.9"/>
<path stroke="#2fa848" d="M389.0,258.3L387.2,259.1M421.9,273.7L420.2,275.1L418.2,276.8L417.8,279.0L417.1,281.2M399.8,257.7L400.8,255.4L401.3,253.0M419.0,269.5L419.7,267.8L419.3,265.6"/>
<path stroke="#e2262a" d="M411.4,256.7L411.9,258.8L411.9,261.2L410.3,262.6L408.8,264.3M390.3,267.4L390.5,269.7L392.2,270.9"/>
<path stroke="#b5d335" d="M394.6,256.2L396.5,254.8M378.3,264.7L376.7,266.1M377.0,276.0L378.7,277.7L381.1,277.7M425.5,278.5L423.1,278.7L420.9,279.4L419.9,281.6L418.4,282.6M404.0,256.7L403.9,258.2M392.1,271.1L394.3,270.6L395.8,270.5L398.2,271.3L399.8,272.2M413.0,283.5L415.1,282.4L417.4,281.4L418.5,280.1L419.5,278.8M417.8,276.1L416.4,277.3L414.5,277.9L413.3,279.1L412.5,281.0"/>
<path stroke="#8cc63f" d="M396.6,254.8L395.8,257.0L396.6,259.1L398.6,260.1L400.6,260.5M428.5,289.5L427.2,290.2L426.0,291.4M373.0,294.8M385.9,257.2L387.5,258.6L387.9,260.9L389.6,262.5L391.0,262.7M377.7,287.0L378.3,289.5M379.0,301.3L377.8,300.4L376.2,300.3M434.0,298.0"/>
<path stroke="#111111" d="M407.2,281.5"/>
<path stroke="#5bba47" d="M415.0,275.8L414.0,277.1L412.5,277.9L411.2,278.5M406.6,249.7L406.4,252.1L407.7,253.6L408.7,254.9M424.1,279.3L424.1,277.1M414.7,293.9M401.0,269.6L401.7,268.4L401.2,266.7M415.3,279.2L416.7,279.3M400.2,271.0L401.6,273.2M375.7,279.9L376.5,278.5M388.2,289.9L389.2,288.7L390.8,287.7L392.6,286.1M417.1,295.7L416.8,297.6"/>
</g>
<g filter="url(#wsh2)" stroke-linecap="round" stroke-linejoin="round" fill="none" stroke-width="1.3">
<path stroke="#5bba47" d="M375.1,293.4L374.0,292.4M386.2,290.4L388.8,289.9L391.3,289.6M399.3,257.4L398.3,258.5L397.0,259.7L396.9,261.6M404.2,269.3L402.8,268.6L401.5,267.6L399.0,267.9M407.8,247.0M415.5,275.7L414.6,277.0M388.4,295.5L386.5,296.1L384.8,296.8L383.4,296.6M387.1,279.8L389.4,278.7"/>
<path stroke="#2fa848" d="M397.9,266.9L400.2,267.9L401.9,269.1L403.8,269.2L406.1,268.3M376.3,298.6L375.5,297.1M397.3,280.4L395.9,281.3L393.9,280.8L392.3,280.9L390.5,280.6M422.3,286.9L424.7,286.3M375.0,297.4L373.7,296.0M383.0,298.5L381.7,296.3L380.5,294.3M401.2,272.1L401.9,273.6L401.6,275.4L399.4,276.6L397.8,277.3M430.7,301.5L428.6,302.4L427.0,302.6L424.7,302.0M379.6,283.3L380.6,281.3L382.0,280.2"/>
<path stroke="#f29d22" d="M394.1,274.2L393.0,272.2M400.7,256.5L400.3,258.6L400.4,260.2M393.3,272.6L394.5,274.5L395.1,276.0L396.7,277.2M393.9,269.2L391.5,269.2L389.3,267.9L388.3,266.9L386.0,266.2"/>
<path stroke="#e8e01e" d="M409.7,272.3L408.6,271.1L406.7,270.7M410.0,264.2L408.5,263.0L406.8,262.5L404.7,261.2M377.7,274.8L377.8,272.3L376.9,270.8M418.8,297.3L418.4,294.9L417.6,293.1L415.7,292.1M419.4,284.9L417.8,286.9L415.7,287.7L413.3,287.6M407.7,276.6L409.4,276.6L410.6,275.1L411.5,273.6M379.3,272.7L377.4,274.0M417.7,292.1L419.0,290.6L420.4,289.1L421.4,287.9L423.1,286.2M378.0,277.6L376.1,277.5L374.0,278.4M384.9,280.2L382.7,280.9L381.2,280.3M426.8,284.9L425.1,285.6L422.5,285.8M415.3,285.8L417.2,286.1L419.2,286.7L421.2,286.6M389.1,255.9L389.9,258.1L389.6,260.4L390.1,262.7M412.0,282.2L411.3,283.5M403.6,259.2L402.9,256.9L402.4,255.0M391.6,285.2L390.3,284.9L389.0,283.6M380.3,290.6L380.9,288.8L380.3,287.5L379.9,285.7M426.0,297.2L428.4,296.3L429.8,295.9L431.3,295.2M406.6,257.6L408.6,257.2L410.1,256.5L411.9,256.9M382.1,253.3L384.4,252.1L386.5,252.0"/>
<path stroke="#8cc63f" d="M416.7,270.7L415.6,269.1L415.3,266.8L414.5,265.2L415.0,263.0M410.1,255.6L409.1,256.6L407.6,258.4L406.2,258.4M407.6,266.0L408.9,266.7L410.4,266.5L412.0,266.7M376.9,300.9L378.9,302.4L379.9,303.4M388.1,265.6L386.2,266.3L384.2,266.8L382.6,266.7L381.3,268.1M421.1,277.4L420.8,279.2L420.5,280.7L420.0,282.2L420.8,283.7M412.0,264.1L412.2,266.4L413.7,268.1L415.0,270.1M403.5,274.0L403.1,272.0M380.3,265.4L381.9,265.7L384.4,265.7L386.4,264.4M380.3,267.1L382.2,265.4L383.3,264.2L384.8,262.1"/>
<path stroke="#6cbf45" d="M385.7,252.5M406.9,251.0L405.6,248.7M409.0,265.7L407.3,265.9M424.4,297.3L423.4,296.3L422.1,295.0L420.7,294.1L419.0,293.2M418.0,290.1L415.9,290.4L413.9,291.8"/>
<path stroke="#3cb44a" d="M382.9,261.1L383.1,263.5M381.8,263.3L383.4,263.6L385.8,264.5L387.4,264.7M427.3,296.2L428.7,297.6L430.0,298.9M390.0,275.3L388.2,275.5L386.6,273.9M376.5,284.2L377.0,282.6L378.3,281.7M391.3,275.3L389.4,275.2L387.4,275.8M419.4,289.9L417.9,291.3"/>
<path stroke="#b5d335" d="M375.2,292.7L373.3,291.1M425.2,282.7L425.0,281.1L424.7,279.7M380.6,273.9L380.1,272.5L378.7,271.4M379.4,289.5L377.8,287.6L377.6,285.6M405.0,269.9L404.3,268.4L402.7,268.0L401.2,267.9M384.2,291.2L383.9,293.6L382.5,294.7L381.0,296.4L379.1,297.3M398.4,275.5L398.1,276.9L399.6,278.7L401.6,279.3L403.8,279.0M410.8,269.3L413.3,269.4L415.5,268.5L416.9,268.3L418.4,267.7M417.1,275.0L418.6,274.9L420.1,275.6L421.4,277.5L423.7,277.9M416.0,280.2L417.9,279.0M375.4,281.1L376.8,279.3L378.7,277.9M377.2,283.3L374.8,283.7"/>
<path stroke="#111111" d="M415.4,280.0L416.9,278.7L418.3,278.5M380.7,258.1M381.6,291.0L380.5,290.1"/>
<path stroke="#e2262a" d="M420.7,272.5L422.7,271.7M393.6,272.2L393.1,270.5L394.2,269.0L395.0,266.8L393.9,264.9"/>
</g>
</g></g>
<g filter="url(#wsh)"><g mask="url(#hm11)">
<g filter="url(#wsh2)" stroke-linecap="round" stroke-linejoin="round" fill="none" stroke-width="1.3">
<path stroke="#6cbf45" d="M495.8,262.5M504.7,294.7L503.0,295.5L500.9,296.9M458.0,258.1L457.8,259.9L456.8,262.0L457.8,264.0M453.1,300.2L455.4,300.7M504.0,292.1L502.3,291.3M462.1,277.6L460.3,278.9L458.9,280.8L457.5,282.1M487.8,259.3L490.1,260.0M497.6,274.1L496.1,275.6L495.9,278.1L495.3,280.0M483.3,253.3L483.2,255.0L482.5,257.1L483.7,259.3L486.0,260.0M502.9,289.2L505.0,289.9L506.6,291.2L507.0,292.9"/>
<path stroke="#b5d335" d="M468.5,282.2L470.0,283.6M466.5,291.9M461.4,250.0L460.4,251.0L460.5,253.0L462.2,255.0M465.6,268.3L463.7,267.3L462.7,265.2L463.5,262.8M463.0,261.4L464.9,259.8L466.2,258.7L466.4,257.3M459.8,291.1L460.8,289.7M474.4,271.2L473.1,269.0L471.1,267.7L469.4,268.1"/>
<path stroke="#8cc63f" d="M490.6,252.9M477.3,257.7L478.7,256.3L480.9,255.0M482.1,259.0L483.7,257.4L484.7,255.7L485.7,253.5M500.6,283.7L498.7,284.5L496.5,285.6M455.4,306.6L457.0,306.4L459.6,306.0L461.3,305.7M486.6,260.0L485.7,258.4M475.7,266.3L477.1,266.0L478.6,266.0M465.6,280.9L463.9,280.4L462.6,278.5L462.0,277.2M456.3,304.2L454.7,303.1L453.1,301.5M463.5,261.8L465.7,261.1M456.5,252.2L457.0,250.6M483.6,249.4L481.7,250.7M478.5,258.2L477.1,258.2L474.8,258.2L473.2,257.5L470.7,256.7M450.2,276.3L450.1,277.7L449.3,278.8M481.3,266.8L481.7,265.3L482.2,263.9L483.5,262.7L485.8,262.6M499.0,296.1L500.4,296.9L502.7,297.9"/>
<path stroke="#2fa848" d="M501.2,283.4L499.8,282.1L498.3,281.1L496.6,279.7L496.7,277.6M450.9,278.1L449.3,277.4M496.6,280.0L495.4,281.1M506.2,293.3L507.8,294.6M496.2,276.1L497.5,278.0L499.2,279.2M458.5,270.3L456.8,270.7L455.4,272.6L454.6,275.0M461.5,301.1L460.6,299.2L460.7,296.6L459.9,294.8M479.8,251.7L478.2,253.0M483.7,272.0M467.7,263.1L467.7,265.7L467.3,267.6M465.6,252.4L463.9,251.1L462.4,251.2L460.6,252.8M451.6,281.2L449.5,282.6L449.3,284.7L450.6,286.2L451.4,287.6M506.4,286.2L508.0,285.3"/>
<path stroke="#f29d22" d="M458.2,275.5L458.9,274.3L461.3,273.4L463.0,273.7L464.4,274.9M449.8,290.2L449.2,287.8M498.0,271.6L496.5,271.2L494.1,271.4L491.6,271.6"/>
<path stroke="#e2262a" d="M475.3,276.6L475.5,274.1M492.7,269.3L494.8,270.1L496.8,271.3L498.1,270.8M460.5,301.8L461.6,302.9"/>
<path stroke="#e8e01e" d="M489.4,251.3L488.7,253.5L488.9,254.9L488.6,257.0M460.7,295.7L461.1,297.2L461.0,299.6L459.9,300.8M502.5,288.8L503.4,287.7L503.5,285.7M482.2,256.3L480.5,255.2L478.7,255.6L476.8,254.5L476.1,253.0M459.0,305.7L459.4,304.2M462.1,262.4L463.7,260.9M494.7,264.1L493.0,265.5L493.1,267.4L491.7,269.0M458.1,286.6L460.1,285.9L462.1,284.6M470.7,283.3L470.3,285.5L468.2,286.8L465.7,286.0M449.4,274.7M465.7,253.3L464.3,253.9"/>
<path stroke="#3cb44a" d="M458.8,269.1L459.2,270.7M466.0,281.9L468.3,282.3L470.4,283.7M471.1,253.5L468.8,253.6L467.2,255.0M454.3,271.4L453.0,269.4L453.1,267.1L454.2,265.6L455.2,264.2M474.6,271.9L474.7,270.3M474.5,266.8L472.7,266.9L471.3,266.0L469.2,266.0L467.4,266.6M462.0,253.8L459.7,253.7L457.6,252.2L456.8,250.7M504.8,297.8L506.3,298.1L508.6,297.3"/>
<path stroke="#5bba47" d="M473.6,269.4L474.1,267.6L475.0,265.9L475.1,263.3L475.3,261.5M477.3,261.0L476.2,262.5L475.1,264.5L474.6,266.2M502.7,294.6L504.9,294.0L506.8,295.0L508.4,294.8"/>
<path stroke="#111111" d="M472.4,267.5L471.9,269.6L470.2,270.8L467.9,271.7"/>
</g>
<g filter="url(#wsh2)" stroke-linecap="round" stroke-linejoin="round" fill="none" stroke-width="1.3">
<path stroke="#111111" d="M500.6,278.7L499.6,276.7"/>
<path stroke="#8cc63f" d="M461.9,296.8L460.5,295.4L459.0,293.4M499.0,297.4L498.5,294.9L497.4,293.7L497.2,291.5M467.4,280.4L466.0,282.2L465.3,283.6L463.3,284.4M485.7,266.5L484.5,268.0M496.8,272.9L498.9,271.8M502.1,278.3L503.6,277.0M456.7,263.8L454.7,263.1M456.2,299.6L455.2,297.8L454.7,295.6L454.3,293.2L453.3,291.7M487.5,276.1M497.6,283.2L496.4,281.7L496.4,279.1L495.8,277.4L495.3,275.5M468.9,257.2L466.7,257.1L464.5,258.3L462.6,258.8M462.4,289.4L463.7,287.8L465.1,285.9M499.8,288.3L501.2,286.8M453.8,266.4L452.2,266.6"/>
<path stroke="#2fa848" d="M474.5,272.1L472.6,271.3L471.0,271.7L470.2,273.4M495.3,292.6L494.3,290.8M466.9,265.2L468.3,266.3L469.7,266.8L471.0,267.2L472.5,267.3M490.5,275.1L491.0,277.3L492.3,278.3L492.4,280.1L491.8,281.6M463.0,276.3L464.7,276.6L466.1,277.4M503.7,279.7L505.9,279.0M455.7,258.5"/>
<path stroke="#5bba47" d="M465.7,284.6L468.1,285.5L469.7,286.5M491.6,274.6L491.5,273.1L492.4,271.8M457.8,303.2L455.9,303.8L454.0,305.0M456.5,298.3L454.1,298.4L452.1,299.6M471.4,279.5L470.0,281.5L468.7,282.4M474.1,271.4L472.8,270.8L471.8,269.1M475.4,265.1L476.8,264.9M458.8,263.2L458.0,260.9L458.1,259.4L457.6,257.5M460.2,283.2L458.6,283.0L456.2,282.9L453.9,283.5"/>
<path stroke="#6cbf45" d="M489.4,273.8L491.0,273.5L492.8,274.3L495.0,273.3L496.9,271.6M501.1,292.6L498.9,292.6L496.6,293.0M462.7,256.1L462.1,257.5M490.5,262.9L488.5,262.9L486.0,262.8L484.0,263.3L481.5,263.6M494.2,268.4L492.4,268.3L490.4,266.7L489.3,264.4M486.1,266.1L486.4,264.5L485.9,262.3M487.3,260.0L486.0,260.9L484.1,262.3M498.3,270.8M502.7,298.1M479.0,265.8L477.9,266.7"/>
<path stroke="#f29d22" d="M460.3,301.2L459.6,303.5M476.4,272.8L476.4,274.7L475.3,276.5"/>
<path stroke="#b5d335" d="M457.4,274.7L457.4,273.2L458.1,272.0L458.7,269.8M461.3,283.6L459.3,282.3L457.5,282.0L455.8,280.2L454.3,278.1M469.6,271.4L469.0,269.3L468.2,267.8L468.6,265.7M452.9,265.0L454.4,266.3L455.9,266.6M489.0,253.0L487.2,253.1L486.1,254.3"/>
<path stroke="#3cb44a" d="M449.3,276.3L451.8,275.8L453.5,275.8L455.0,275.8M449.7,275.3M465.2,283.4L467.4,283.2L468.9,283.0L470.6,284.0M504.6,298.2M468.4,285.1L469.3,286.5M472.6,275.0L470.6,274.3L469.3,272.9L467.9,272.2M502.7,278.3L502.1,280.3L502.3,282.9L503.1,284.1L504.6,285.4M501.5,281.0L499.8,282.5L498.5,283.2L496.2,283.0M476.7,261.7L476.2,263.6L474.7,264.7L474.6,266.6M509.0,288.7L509.1,290.7M467.9,253.9L466.7,252.7"/>
<path stroke="#e8e01e" d="M459.7,303.8L460.9,305.5M473.6,277.8L471.4,277.1L469.5,275.7M453.9,294.6L456.0,295.0L457.4,293.8L459.4,293.7L461.5,292.3M469.8,262.4L470.2,260.1L471.6,259.2L474.1,259.2M464.4,297.6L464.1,295.6M508.0,291.6L507.3,289.5L507.7,287.8L508.9,286.2M455.2,272.9L455.6,274.8L455.5,276.5M471.5,275.9L471.8,277.9M450.4,274.5L450.8,272.0L451.0,270.5M465.0,295.0L463.4,293.0L462.8,291.1L460.8,290.2L459.2,290.1M482.9,270.6L481.0,269.3L480.6,266.9M503.4,278.3L504.8,277.1M452.3,270.8L454.2,272.3L455.1,274.0L455.9,276.3M497.0,267.4M492.3,255.4M493.4,274.6L495.2,273.4L496.9,272.3"/>
</g>
<g filter="url(#wsh2)" stroke-linecap="round" stroke-linejoin="round" fill="none" stroke-width="1.3">
<path stroke="#111111" d="M458.2,260.0L460.1,260.0L461.7,261.5L463.6,263.0M491.1,267.0L489.1,266.9L487.4,267.3"/>
<path stroke="#3cb44a" d="M455.1,299.4L455.2,300.8L456.5,302.3L458.5,303.7L460.6,304.6M470.7,273.8L470.3,275.9L469.5,277.6L468.1,278.5L466.3,278.5M453.6,306.6L455.3,305.5M457.8,249.3M502.7,294.7L502.1,296.4M460.6,295.8L460.1,298.2L461.3,299.7L461.1,301.4L459.0,302.7M507.3,284.2M458.1,300.3L456.7,302.3L454.8,303.2L453.0,302.9M486.1,269.9L485.7,268.5L486.4,266.1L487.1,263.7L486.3,262.3"/>
<path stroke="#b5d335" d="M484.6,263.9L486.0,264.3L487.0,266.2L489.1,267.3M462.2,281.3L459.9,280.9M499.9,283.1L502.0,283.9L504.1,282.9L505.2,281.3L505.0,279.4M499.0,285.5L498.5,283.1L498.4,281.6L498.8,280.0L498.0,278.8M478.4,260.4L480.2,262.4L481.7,263.6M459.5,262.1L459.6,260.6"/>
<path stroke="#5bba47" d="M459.4,299.3L459.8,297.8L459.1,295.5L457.2,294.4L454.6,294.0M497.5,276.3L495.7,277.5L494.7,278.5L493.8,279.7M469.5,265.9L467.9,267.7L465.5,267.8L463.5,268.9M502.0,279.2L503.0,280.8L503.6,283.3M494.4,287.3L493.5,286.2L492.0,284.2M486.4,266.7L487.1,268.3L488.3,269.3M498.3,292.2L497.2,290.2L497.3,287.7L496.1,285.4L494.8,284.9M509.6,290.7L508.1,288.6L506.8,287.6L504.7,286.5M472.4,275.3L471.0,276.4L468.5,276.8L466.9,276.6L465.2,275.6M460.4,266.9L461.9,265.0L464.2,264.6L465.3,265.4M455.6,294.0L457.6,294.2L458.6,295.5L460.1,296.4L460.6,298.6"/>
<path stroke="#8cc63f" d="M491.2,261.8L493.3,260.7M455.2,295.8L456.5,296.1L458.9,295.6L460.5,296.7L462.1,298.4M469.7,278.8L471.0,276.9L471.0,275.5L470.2,273.7L468.8,272.7M499.4,271.8L500.3,274.1L499.4,276.1L497.7,277.0L495.8,277.9M455.9,287.7L456.2,289.1M464.9,287.6L465.2,286.2L465.2,284.1L464.7,281.6L463.4,280.4M464.2,294.4M491.8,276.5L489.8,275.1L488.2,273.6L487.4,272.5L486.4,271.1M487.2,262.3L489.1,263.4M464.7,272.3L464.6,270.4L465.2,269.1L464.8,266.8M457.2,263.6L457.1,265.7L458.3,267.7L458.9,269.6M491.5,273.5L492.9,274.1L494.8,274.5L496.8,273.9L497.9,272.8M478.5,267.2L477.5,265.0"/>
<path stroke="#2fa848" d="M463.7,279.3L463.5,281.5M502.0,293.8L500.3,292.9L498.9,292.3L497.5,291.9L496.3,291.0M456.9,254.3L457.7,251.9M487.0,273.5L485.4,274.1M483.1,263.1L482.7,264.7L480.7,266.1L479.7,267.5L477.6,268.5M483.1,266.9L482.7,264.8M469.4,275.7L467.9,276.8L466.5,277.3L465.7,279.1L465.0,281.6"/>
<path stroke="#e8e01e" d="M455.2,294.2L457.0,293.4L458.8,293.0L460.2,292.1M500.8,275.2L501.6,276.9L502.2,278.8L503.9,279.7M477.2,258.3L479.3,257.0L480.6,256.0M451.4,282.4L450.6,284.1L450.2,285.5L449.9,287.1L449.7,289.4M456.9,278.8L456.0,280.6L454.6,282.6L454.4,285.2L453.1,286.3M469.8,277.9L468.5,279.4M465.0,289.7L464.8,287.9M495.4,268.2L494.6,266.0M478.8,255.6L480.3,256.7L481.0,258.4L480.7,260.0L480.1,261.3M467.3,279.2L469.8,279.5M464.8,282.1L463.0,282.8"/>
<path stroke="#6cbf45" d="M457.8,280.0L457.5,281.9L455.7,283.2L453.6,283.9M498.9,275.0L500.9,274.2M477.1,262.0L478.8,263.0L479.3,265.3L479.7,267.0M455.0,274.6L453.7,276.3L452.2,277.8L450.6,277.9M492.6,256.6L492.7,258.3L492.1,260.9M451.6,280.8L450.3,279.9M458.3,268.4L458.9,270.1M452.8,263.9M489.4,258.8L490.9,260.4L492.1,261.2L493.2,263.5M489.6,278.1L490.7,279.2"/>
<path stroke="#f29d22" d="M452.8,269.6L452.5,271.1M473.6,278.6M451.5,280.0L452.7,280.8L454.2,281.6L455.9,282.5L457.4,283.1M460.4,260.2L458.6,259.1L458.2,257.6L459.2,255.9L460.4,255.0"/>
<path stroke="#e2262a" d="M497.4,269.5L495.3,270.3L493.4,271.0M475.9,271.1L477.9,271.3L479.8,270.0L482.2,270.4L483.5,269.8"/>
</g>
</g></g>
<text x="7" y="16.6" font-size="11.6" font-weight="bold" fill="#111">A</text>
<text x="23.2" y="89.8" font-size="9.1" textLength="48.1" lengthAdjust="spacingAndGlyphs" fill="#111" stroke="#111" stroke-width="0.15">Distal femur</text>
<text x="213.8" y="84.6" font-size="9.1" textLength="63.5" lengthAdjust="spacingAndGlyphs" fill="#111" stroke="#111" stroke-width="0.15">Distal epiphysis</text>
<rect x="389.6" y="80" width="117" height="10.3" fill="url(#cbar)"/>
<text x="393" y="100.2" font-size="7.3" textLength="19.5" lengthAdjust="spacingAndGlyphs" fill="#333">0.000</text>
<text x="436" y="100.2" font-size="7.3" textLength="15" lengthAdjust="spacingAndGlyphs" fill="#333">[mm]</text>
<text x="476.6" y="100.2" font-size="7.3" textLength="19" lengthAdjust="spacingAndGlyphs" fill="#333">0.090</text>
<text x="7.7" y="156.5" font-size="11.6" font-weight="bold" fill="#111">B</text>
<text x="169.6" y="154.6" font-size="9" text-anchor="middle" textLength="33.2" lengthAdjust="spacingAndGlyphs" fill="#111" stroke="#111" stroke-width="0.15">3 month</text>
<text x="389.3" y="154.6" font-size="9" text-anchor="middle" textLength="33.1" lengthAdjust="spacingAndGlyphs" fill="#111" stroke="#111" stroke-width="0.15">5 month</text>
<text x="110.8" y="168.3" font-size="9" text-anchor="middle" textLength="11.9" lengthAdjust="spacingAndGlyphs" fill="#111" stroke="#111" stroke-width="0.15">AA</text>
<text x="179.5" y="168.3" font-size="9" text-anchor="middle" textLength="11.9" lengthAdjust="spacingAndGlyphs" fill="#111" stroke="#111" stroke-width="0.15">AS</text>
<text x="254.2" y="168.3" font-size="9" text-anchor="middle" textLength="11.9" lengthAdjust="spacingAndGlyphs" fill="#111" stroke="#111" stroke-width="0.15">SS</text>
<text x="330.2" y="168.3" font-size="9" text-anchor="middle" textLength="11.9" lengthAdjust="spacingAndGlyphs" fill="#111" stroke="#111" stroke-width="0.15">AA</text>
<text x="399.3" y="168.3" font-size="9" text-anchor="middle" textLength="11.9" lengthAdjust="spacingAndGlyphs" fill="#111" stroke="#111" stroke-width="0.15">AS</text>
<text x="473.3" y="168.3" font-size="9" text-anchor="middle" textLength="11.9" lengthAdjust="spacingAndGlyphs" fill="#111" stroke="#111" stroke-width="0.15">SS</text>
<text x="44.4" y="199.8" font-size="9.3" text-anchor="middle" textLength="19.6" lengthAdjust="spacingAndGlyphs" fill="#111" stroke="#111" stroke-width="0.15">Male</text>
<text x="44.5" y="273.3" font-size="9.3" text-anchor="middle" textLength="29.5" lengthAdjust="spacingAndGlyphs" fill="#111" stroke="#111" stroke-width="0.15">Female</text>
<line x1="290.5" y1="148" x2="290.5" y2="313" stroke="#333" stroke-width="1.1"/>
<text x="7" y="334.8" font-size="11.6" font-weight="bold" fill="#111">C</text>
<text x="90.6" y="340.2" font-size="9" text-anchor="middle" textLength="19.4" lengthAdjust="spacingAndGlyphs" fill="#111" stroke="#111" stroke-width="0.15">Male</text>
<text x="185.9" y="340.2" font-size="9" text-anchor="middle" textLength="29.3" lengthAdjust="spacingAndGlyphs" fill="#111" stroke="#111" stroke-width="0.15">Female</text>
<line x1="40.2" y1="445.5" x2="43.5" y2="445.5" stroke="#2a2a2a" stroke-width="1"/>
<line x1="135.2" y1="445.5" x2="138.5" y2="445.5" stroke="#2a2a2a" stroke-width="1"/>
<text x="37" y="448.6" font-size="8.4" text-anchor="end" textLength="16" lengthAdjust="spacingAndGlyphs" fill="#111">0.04</text>
<line x1="40.2" y1="422.5" x2="43.5" y2="422.5" stroke="#2a2a2a" stroke-width="1"/>
<line x1="135.2" y1="422.5" x2="138.5" y2="422.5" stroke="#2a2a2a" stroke-width="1"/>
<text x="37" y="425.15000000000003" font-size="8.4" text-anchor="end" textLength="16" lengthAdjust="spacingAndGlyphs" fill="#111">0.05</text>
<line x1="40.2" y1="398.5" x2="43.5" y2="398.5" stroke="#2a2a2a" stroke-width="1"/>
<line x1="135.2" y1="398.5" x2="138.5" y2="398.5" stroke="#2a2a2a" stroke-width="1"/>
<text x="37" y="401.70000000000005" font-size="8.4" text-anchor="end" textLength="16" lengthAdjust="spacingAndGlyphs" fill="#111">0.06</text>
<line x1="40.2" y1="375.5" x2="43.5" y2="375.5" stroke="#2a2a2a" stroke-width="1"/>
<line x1="135.2" y1="375.5" x2="138.5" y2="375.5" stroke="#2a2a2a" stroke-width="1"/>
<text x="37" y="378.25000000000006" font-size="8.4" text-anchor="end" textLength="16" lengthAdjust="spacingAndGlyphs" fill="#111">0.07</text>
<line x1="40.2" y1="352.5" x2="43.5" y2="352.5" stroke="#2a2a2a" stroke-width="1"/>
<line x1="135.2" y1="352.5" x2="138.5" y2="352.5" stroke="#2a2a2a" stroke-width="1"/>
<text x="37" y="354.8" font-size="8.4" text-anchor="end" textLength="16" lengthAdjust="spacingAndGlyphs" fill="#111">0.08</text>
<line x1="43.5" y1="351.5" x2="43.5" y2="446.3" stroke="#2a2a2a" stroke-width="1"/>
<line x1="138.5" y1="351.5" x2="138.5" y2="446.3" stroke="#2a2a2a" stroke-width="1"/>
<line x1="43" y1="445.5" x2="232" y2="445.5" stroke="#2a2a2a" stroke-width="1"/>
<line x1="90.5" y1="365.2" x2="90.5" y2="445.8" stroke="#2a2a2a" stroke-width="1"/>
<line x1="186.5" y1="362.5" x2="186.5" y2="445.8" stroke="#2a2a2a" stroke-width="1"/>
<line x1="66.5" y1="445.8" x2="66.5" y2="447.8" stroke="#2a2a2a" stroke-width="1"/>
<line x1="113.5" y1="445.8" x2="113.5" y2="447.8" stroke="#2a2a2a" stroke-width="1"/>
<line x1="160.5" y1="445.8" x2="160.5" y2="447.8" stroke="#2a2a2a" stroke-width="1"/>
<line x1="210.5" y1="445.8" x2="210.5" y2="447.8" stroke="#2a2a2a" stroke-width="1"/>
<text x="66.5" y="457.9" font-size="8.3" text-anchor="middle" textLength="17.3" lengthAdjust="spacingAndGlyphs" fill="#111">3MO</text>
<text x="113.3" y="457.9" font-size="8.3" text-anchor="middle" textLength="17.3" lengthAdjust="spacingAndGlyphs" fill="#111">5MO</text>
<text x="160.6" y="457.9" font-size="8.3" text-anchor="middle" textLength="17.3" lengthAdjust="spacingAndGlyphs" fill="#111">3MO</text>
<text x="210.8" y="457.9" font-size="8.3" text-anchor="middle" textLength="17.3" lengthAdjust="spacingAndGlyphs" fill="#111">5MO</text>
<text transform="translate(14.8,398.6) rotate(-90)" text-anchor="middle" font-size="8.8" textLength="78.5" lengthAdjust="spacingAndGlyphs" fill="#111" stroke="#111" stroke-width="0.2">Trabecular thickness (mm)</text>
<polyline points="50.5,403.5 50.5,398.5 79.5,398.5 79.5,403.5" fill="none" stroke="#474747" stroke-width="1.0"/>
<circle cx="65.2" cy="393.5" r="1.25" fill="#1a1a1a"/>
<polyline points="62.5,368.5 62.5,363.5 114.5,363.5 114.5,368.5" fill="none" stroke="#474747" stroke-width="1.0"/>
<circle cx="84.6" cy="358.5" r="1.25" fill="#1a1a1a"/>
<polyline points="77.5,358.5 77.5,352.5 129.5,352.5 129.5,358.5" fill="none" stroke="#474747" stroke-width="1.0"/>
<circle cx="100.8" cy="347.5" r="1.25" fill="#1a1a1a"/>
<polyline points="146.5,391.5 146.5,386.5 175.5,386.5 175.5,391.5" fill="none" stroke="#474747" stroke-width="1.0"/>
<circle cx="161" cy="381" r="1.25" fill="#1a1a1a"/>
<polyline points="148.5,360.5 148.5,354.5 200.5,354.5 200.5,360.5" fill="none" stroke="#474747" stroke-width="1.0"/>
<circle cx="174.2" cy="349.3" r="1.25" fill="#1a1a1a"/>
<polyline points="195.5,368.5 195.5,363.5 224.5,363.5 224.5,368.5" fill="none" stroke="#474747" stroke-width="1.0"/>
<circle cx="210" cy="357.7" r="1.25" fill="#1a1a1a"/>
<line x1="49.0" y1="411.5" x2="58.0" y2="411.5" stroke="#3a3a3a" stroke-width="1.0"/>
<rect x="49.3" y="404.4" width="3.9" height="3.9" fill="#fff" stroke="#c8183c" stroke-width="0.95"/>
<rect x="53.8" y="405.4" width="3.9" height="3.9" fill="#fff" stroke="#c8183c" stroke-width="0.95"/>
<rect x="49.3" y="412.9" width="3.9" height="3.9" fill="#fff" stroke="#c8183c" stroke-width="0.95"/>
<rect x="53.8" y="416.2" width="3.9" height="3.9" fill="#fff" stroke="#c8183c" stroke-width="0.95"/>
<line x1="61.5" y1="415.5" x2="70.5" y2="415.5" stroke="#3a3a3a" stroke-width="1.0"/>
<rect x="61.6" y="408.4" width="3.9" height="3.9" fill="#fff" stroke="#11579a" stroke-width="0.95"/>
<rect x="65.2" y="408.9" width="3.9" height="3.9" fill="#fff" stroke="#11579a" stroke-width="0.95"/>
<rect x="66.8" y="411.6" width="3.9" height="3.9" fill="#fff" stroke="#11579a" stroke-width="0.95"/>
<rect x="62.8" y="416.4" width="3.9" height="3.9" fill="#fff" stroke="#11579a" stroke-width="0.95"/>
<rect x="65.5" y="419.8" width="3.9" height="3.9" fill="#fff" stroke="#11579a" stroke-width="0.95"/>
<line x1="75.0" y1="427.5" x2="84.0" y2="427.5" stroke="#3a3a3a" stroke-width="1.0"/>
<rect x="77.0" y="420.8" width="3.9" height="3.9" fill="#fff" stroke="#33b34a" stroke-width="0.95"/>
<rect x="75.0" y="424.2" width="3.9" height="3.9" fill="#fff" stroke="#33b34a" stroke-width="0.95"/>
<rect x="77.8" y="425.7" width="3.9" height="3.9" fill="#fff" stroke="#33b34a" stroke-width="0.95"/>
<rect x="79.6" y="429.2" width="3.9" height="3.9" fill="#fff" stroke="#33b34a" stroke-width="0.95"/>
<line x1="101.5" y1="387.5" x2="101.5" y2="407" stroke="#e27a8c" stroke-width="1"/>
<line x1="98.5" y1="387.5" x2="103.5" y2="387.5" stroke="#e27a8c" stroke-width="1"/>
<line x1="98.5" y1="407.5" x2="103.5" y2="407.5" stroke="#e27a8c" stroke-width="1"/>
<rect x="97.8" y="382.1" width="4.4" height="4.4" fill="#c8183c"/>
<rect x="97.8" y="388.2" width="4.4" height="4.4" fill="#c8183c"/>
<rect x="97.3" y="401.8" width="4.4" height="4.4" fill="#c8183c"/>
<rect x="100.8" y="406.8" width="4.4" height="4.4" fill="#c8183c"/>
<line x1="96.5" y1="396.5" x2="105.5" y2="396.5" stroke="#3a3a3a" stroke-width="1.0"/>
<line x1="113.5" y1="381" x2="113.5" y2="398" stroke="#6d9ccc" stroke-width="1"/>
<line x1="110.8" y1="381.5" x2="115.8" y2="381.5" stroke="#6d9ccc" stroke-width="1"/>
<line x1="110.8" y1="398.5" x2="115.8" y2="398.5" stroke="#6d9ccc" stroke-width="1"/>
<rect x="111.1" y="371.8" width="4.4" height="4.4" fill="#11579a"/>
<rect x="108.8" y="389.3" width="4.4" height="4.4" fill="#11579a"/>
<rect x="113.3" y="389.3" width="4.4" height="4.4" fill="#11579a"/>
<rect x="111.1" y="396.6" width="4.4" height="4.4" fill="#11579a"/>
<line x1="108.8" y1="391.5" x2="117.8" y2="391.5" stroke="#3a3a3a" stroke-width="1.0"/>
<line x1="126.5" y1="382" x2="126.5" y2="415" stroke="#8fd69a" stroke-width="1"/>
<line x1="123.5" y1="382.5" x2="128.5" y2="382.5" stroke="#8fd69a" stroke-width="1"/>
<line x1="123.5" y1="415.5" x2="128.5" y2="415.5" stroke="#8fd69a" stroke-width="1"/>
<rect x="123.8" y="378.0" width="4.4" height="4.4" fill="#33b34a"/>
<rect x="123.8" y="387.8" width="4.4" height="4.4" fill="#33b34a"/>
<rect x="123.8" y="404.8" width="4.4" height="4.4" fill="#33b34a"/>
<rect x="123.8" y="413.6" width="4.4" height="4.4" fill="#33b34a"/>
<line x1="121.5" y1="398.5" x2="130.5" y2="398.5" stroke="#3a3a3a" stroke-width="1.0"/>
<line x1="147.5" y1="397" x2="147.5" y2="417.5" stroke="#c8183c" stroke-width="1"/>
<line x1="145.1" y1="397.5" x2="150.1" y2="397.5" stroke="#c8183c" stroke-width="1"/>
<line x1="145.1" y1="417.5" x2="150.1" y2="417.5" stroke="#c8183c" stroke-width="1"/>
<line x1="144.0" y1="404.5" x2="151.2" y2="404.5" stroke="#3a3a3a" stroke-width="1.0"/>
<circle cx="149.3" cy="395.4" r="2.05" fill="#fff" stroke="#c8183c" stroke-width="0.95"/>
<circle cx="145.5" cy="400.9" r="2.05" fill="#fff" stroke="#c8183c" stroke-width="0.95"/>
<circle cx="145.5" cy="406.6" r="2.05" fill="#fff" stroke="#c8183c" stroke-width="0.95"/>
<circle cx="149.7" cy="408" r="2.05" fill="#fff" stroke="#c8183c" stroke-width="0.95"/>
<circle cx="147.6" cy="413.9" r="2.05" fill="#fff" stroke="#c8183c" stroke-width="0.95"/>
<circle cx="147.6" cy="422.3" r="2.05" fill="#fff" stroke="#c8183c" stroke-width="0.95"/>
<line x1="156.9" y1="416.5" x2="164.1" y2="416.5" stroke="#3a3a3a" stroke-width="1.0"/>
<circle cx="160.2" cy="413.5" r="2.05" fill="#fff" stroke="#11579a" stroke-width="0.95"/>
<circle cx="158.5" cy="416.4" r="2.05" fill="#fff" stroke="#11579a" stroke-width="0.95"/>
<circle cx="162.7" cy="419.4" r="2.05" fill="#fff" stroke="#11579a" stroke-width="0.95"/>
<line x1="174.5" y1="415" x2="174.5" y2="436" stroke="#33b34a" stroke-width="1"/>
<line x1="171.9" y1="415.5" x2="176.9" y2="415.5" stroke="#33b34a" stroke-width="1"/>
<line x1="171.9" y1="436.5" x2="176.9" y2="436.5" stroke="#33b34a" stroke-width="1"/>
<line x1="170.8" y1="426.5" x2="178.0" y2="426.5" stroke="#3a3a3a" stroke-width="1.0"/>
<circle cx="172.3" cy="418.1" r="2.05" fill="#fff" stroke="#33b34a" stroke-width="0.95"/>
<circle cx="176.5" cy="420.2" r="2.05" fill="#fff" stroke="#33b34a" stroke-width="0.95"/>
<circle cx="172.3" cy="424.8" r="2.05" fill="#fff" stroke="#33b34a" stroke-width="0.95"/>
<circle cx="176.5" cy="426" r="2.05" fill="#fff" stroke="#33b34a" stroke-width="0.95"/>
<circle cx="174.4" cy="443.3" r="2.05" fill="#fff" stroke="#33b34a" stroke-width="0.95"/>
<line x1="196.5" y1="371.5" x2="196.5" y2="401.5" stroke="#e27a8c" stroke-width="1"/>
<line x1="194.3" y1="371.5" x2="199.3" y2="371.5" stroke="#e27a8c" stroke-width="1"/>
<line x1="194.3" y1="401.5" x2="199.3" y2="401.5" stroke="#e27a8c" stroke-width="1"/>
<circle cx="195" cy="374.2" r="2.25" fill="#c8183c"/>
<circle cx="198.8" cy="376.7" r="2.25" fill="#c8183c"/>
<circle cx="194.6" cy="384.8" r="2.25" fill="#c8183c"/>
<circle cx="199" cy="386.5" r="2.25" fill="#c8183c"/>
<circle cx="196.8" cy="410.1" r="2.25" fill="#c8183c"/>
<line x1="192.3" y1="387.5" x2="201.3" y2="387.5" stroke="#3a3a3a" stroke-width="1.0"/>
<circle cx="207.3" cy="393" r="2.25" fill="#11579a"/>
<circle cx="211.9" cy="394.2" r="2.25" fill="#11579a"/>
<circle cx="207.3" cy="397.5" r="2.25" fill="#11579a"/>
<circle cx="211.5" cy="398" r="2.25" fill="#11579a"/>
<circle cx="212" cy="401.7" r="2.25" fill="#11579a"/>
<line x1="205.3" y1="396.5" x2="214.3" y2="396.5" stroke="#3a3a3a" stroke-width="1.0"/>
<line x1="223.5" y1="399" x2="223.5" y2="418" stroke="#8fd69a" stroke-width="1"/>
<line x1="221.1" y1="399.5" x2="226.1" y2="399.5" stroke="#8fd69a" stroke-width="1"/>
<line x1="221.1" y1="418.5" x2="226.1" y2="418.5" stroke="#8fd69a" stroke-width="1"/>
<circle cx="223.6" cy="391.7" r="2.25" fill="#33b34a"/>
<circle cx="223.6" cy="399.2" r="2.25" fill="#33b34a"/>
<circle cx="222" cy="409.7" r="2.25" fill="#33b34a"/>
<circle cx="224.5" cy="412.9" r="2.25" fill="#33b34a"/>
<circle cx="223.6" cy="418.1" r="2.25" fill="#33b34a"/>
<line x1="219.1" y1="408.5" x2="228.1" y2="408.5" stroke="#3a3a3a" stroke-width="1.0"/>
<text x="258" y="334.9" font-size="11.6" font-weight="bold" fill="#111">D</text>
<text x="343.5" y="340.2" font-size="9" text-anchor="middle" textLength="19" lengthAdjust="spacingAndGlyphs" fill="#111" stroke="#111" stroke-width="0.15">Male</text>
<text x="438.9" y="339.7" font-size="9.2" text-anchor="middle" textLength="29" lengthAdjust="spacingAndGlyphs" fill="#111" stroke="#111" stroke-width="0.15">Female</text>
<line x1="293" y1="445.5" x2="296.7" y2="445.5" stroke="#2a2a2a" stroke-width="1"/>
<line x1="387.6" y1="445.5" x2="391.1" y2="445.5" stroke="#2a2a2a" stroke-width="1"/>
<text x="289.7" y="448.6" font-size="8.4" text-anchor="end" textLength="13.4" lengthAdjust="spacingAndGlyphs" fill="#111">950</text>
<line x1="293" y1="429.5" x2="296.7" y2="429.5" stroke="#2a2a2a" stroke-width="1"/>
<line x1="387.6" y1="429.5" x2="391.1" y2="429.5" stroke="#2a2a2a" stroke-width="1"/>
<text x="289.7" y="432.70000000000005" font-size="8.4" text-anchor="end" textLength="17.8" lengthAdjust="spacingAndGlyphs" fill="#111">1000</text>
<line x1="293" y1="414.5" x2="296.7" y2="414.5" stroke="#2a2a2a" stroke-width="1"/>
<line x1="387.6" y1="414.5" x2="391.1" y2="414.5" stroke="#2a2a2a" stroke-width="1"/>
<text x="289.7" y="416.8" font-size="8.4" text-anchor="end" textLength="17.8" lengthAdjust="spacingAndGlyphs" fill="#111">1050</text>
<line x1="293" y1="398.5" x2="296.7" y2="398.5" stroke="#2a2a2a" stroke-width="1"/>
<line x1="387.6" y1="398.5" x2="391.1" y2="398.5" stroke="#2a2a2a" stroke-width="1"/>
<text x="289.7" y="400.90000000000003" font-size="8.4" text-anchor="end" textLength="17.8" lengthAdjust="spacingAndGlyphs" fill="#111">1100</text>
<line x1="293" y1="382.5" x2="296.7" y2="382.5" stroke="#2a2a2a" stroke-width="1"/>
<line x1="387.6" y1="382.5" x2="391.1" y2="382.5" stroke="#2a2a2a" stroke-width="1"/>
<text x="289.7" y="385.0" font-size="8.4" text-anchor="end" textLength="17.8" lengthAdjust="spacingAndGlyphs" fill="#111">1150</text>
<line x1="293" y1="366.5" x2="296.7" y2="366.5" stroke="#2a2a2a" stroke-width="1"/>
<line x1="387.6" y1="366.5" x2="391.1" y2="366.5" stroke="#2a2a2a" stroke-width="1"/>
<text x="289.7" y="369.1" font-size="8.4" text-anchor="end" textLength="17.8" lengthAdjust="spacingAndGlyphs" fill="#111">1200</text>
<line x1="293" y1="350.5" x2="296.7" y2="350.5" stroke="#2a2a2a" stroke-width="1"/>
<line x1="387.6" y1="350.5" x2="391.1" y2="350.5" stroke="#2a2a2a" stroke-width="1"/>
<text x="289.7" y="353.2" font-size="8.4" text-anchor="end" textLength="17.8" lengthAdjust="spacingAndGlyphs" fill="#111">1250</text>
<line x1="296.5" y1="350" x2="296.5" y2="446.3" stroke="#2a2a2a" stroke-width="1"/>
<line x1="391.5" y1="350" x2="391.5" y2="446.3" stroke="#2a2a2a" stroke-width="1"/>
<line x1="296.2" y1="445.5" x2="485.4" y2="445.5" stroke="#2a2a2a" stroke-width="1"/>
<line x1="341.5" y1="360" x2="341.5" y2="445.8" stroke="#2a2a2a" stroke-width="1"/>
<line x1="439.5" y1="360" x2="439.5" y2="445.8" stroke="#2a2a2a" stroke-width="1"/>
<line x1="318.5" y1="445.8" x2="318.5" y2="447.8" stroke="#2a2a2a" stroke-width="1"/>
<line x1="368.5" y1="445.8" x2="368.5" y2="447.8" stroke="#2a2a2a" stroke-width="1"/>
<line x1="414.5" y1="445.8" x2="414.5" y2="447.8" stroke="#2a2a2a" stroke-width="1"/>
<line x1="463.5" y1="445.8" x2="463.5" y2="447.8" stroke="#2a2a2a" stroke-width="1"/>
<text x="318.3" y="458.1" font-size="8.3" text-anchor="middle" textLength="17.3" lengthAdjust="spacingAndGlyphs" fill="#111">3MO</text>
<text x="368.5" y="458.1" font-size="8.3" text-anchor="middle" textLength="17.3" lengthAdjust="spacingAndGlyphs" fill="#111">5MO</text>
<text x="414.2" y="458.1" font-size="8.3" text-anchor="middle" textLength="17.3" lengthAdjust="spacingAndGlyphs" fill="#111">3MO</text>
<text x="463.4" y="458.1" font-size="8.3" text-anchor="middle" textLength="17.3" lengthAdjust="spacingAndGlyphs" fill="#111">5MO</text>
<text transform="translate(265.6,398.2) rotate(-90)" text-anchor="middle" font-size="8.8" textLength="92.5" lengthAdjust="spacingAndGlyphs" fill="#111" stroke="#111" stroke-width="0.2">Bone Min. Den. (mg HA/cm ^3)</text>
<circle cx="492.4" cy="335.6" r="2.1" fill="#c8183c"/>
<text x="497.5" y="338.3" font-size="7.6" textLength="9.8" lengthAdjust="spacingAndGlyphs" fill="#111">AA</text>
<circle cx="492.4" cy="343.85" r="2.1" fill="#11579a"/>
<text x="497.5" y="346.55" font-size="7.6" textLength="9.8" lengthAdjust="spacingAndGlyphs" fill="#111">AS</text>
<circle cx="492.4" cy="352.1" r="2.1" fill="#33b34a"/>
<text x="497.5" y="354.8" font-size="7.6" textLength="9.8" lengthAdjust="spacingAndGlyphs" fill="#111">SS</text>
<line x1="443.6" y1="362.5" x2="463.6" y2="362.5" stroke="#474747" stroke-width="1.0"/>
<polyline points="453.5,362.5 453.5,356.5 481.5,356.5 481.5,362.5" fill="none" stroke="#474747" stroke-width="1.0"/>
<circle cx="467.5" cy="351.7" r="1.25" fill="#1a1a1a"/>
<line x1="305.5" y1="382.9" x2="305.5" y2="401.9" stroke="#c8183c" stroke-width="1"/>
<line x1="302.7" y1="382.5" x2="307.7" y2="382.5" stroke="#c8183c" stroke-width="1"/>
<line x1="302.7" y1="401.5" x2="307.7" y2="401.5" stroke="#c8183c" stroke-width="1"/>
<line x1="300.7" y1="395.5" x2="309.7" y2="395.5" stroke="#3a3a3a" stroke-width="1.0"/>
<rect x="303.2" y="382.6" width="3.9" height="3.9" fill="#fff" stroke="#c8183c" stroke-width="0.95"/>
<rect x="303.2" y="383.6" width="3.9" height="3.9" fill="#fff" stroke="#c8183c" stroke-width="0.95"/>
<rect x="300.8" y="395.2" width="3.9" height="3.9" fill="#fff" stroke="#c8183c" stroke-width="0.95"/>
<rect x="305.4" y="398.4" width="3.9" height="3.9" fill="#fff" stroke="#c8183c" stroke-width="0.95"/>
<line x1="314.1" y1="391.5" x2="323.1" y2="391.5" stroke="#3a3a3a" stroke-width="1.0"/>
<rect x="317.1" y="378.4" width="3.9" height="3.9" fill="#fff" stroke="#11579a" stroke-width="0.95"/>
<rect x="314.2" y="384.1" width="3.9" height="3.9" fill="#fff" stroke="#11579a" stroke-width="0.95"/>
<rect x="319.2" y="384.1" width="3.9" height="3.9" fill="#fff" stroke="#11579a" stroke-width="0.95"/>
<rect x="314.2" y="397.4" width="3.9" height="3.9" fill="#fff" stroke="#11579a" stroke-width="0.95"/>
<rect x="319.2" y="398.1" width="3.9" height="3.9" fill="#fff" stroke="#11579a" stroke-width="0.95"/>
<line x1="332.5" y1="394.5" x2="332.5" y2="426.2" stroke="#33b34a" stroke-width="1"/>
<line x1="329.5" y1="394.5" x2="334.5" y2="394.5" stroke="#33b34a" stroke-width="1"/>
<line x1="329.5" y1="426.5" x2="334.5" y2="426.5" stroke="#33b34a" stroke-width="1"/>
<line x1="327.5" y1="410.5" x2="336.5" y2="410.5" stroke="#3a3a3a" stroke-width="1.0"/>
<rect x="330.2" y="387.1" width="3.9" height="3.9" fill="#fff" stroke="#33b34a" stroke-width="0.95"/>
<rect x="327.2" y="400.2" width="3.9" height="3.9" fill="#fff" stroke="#33b34a" stroke-width="0.95"/>
<rect x="330.1" y="402.8" width="3.9" height="3.9" fill="#fff" stroke="#33b34a" stroke-width="0.95"/>
<rect x="332.8" y="404.9" width="3.9" height="3.9" fill="#fff" stroke="#33b34a" stroke-width="0.95"/>
<rect x="330.1" y="415.2" width="3.9" height="3.9" fill="#fff" stroke="#33b34a" stroke-width="0.95"/>
<rect x="330.1" y="434.4" width="3.9" height="3.9" fill="#fff" stroke="#33b34a" stroke-width="0.95"/>
<line x1="354.5" y1="371.4" x2="354.5" y2="390.1" stroke="#e27a8c" stroke-width="1"/>
<line x1="352.0" y1="371.5" x2="357.0" y2="371.5" stroke="#e27a8c" stroke-width="1"/>
<line x1="352.0" y1="390.5" x2="357.0" y2="390.5" stroke="#e27a8c" stroke-width="1"/>
<rect x="352.3" y="369.2" width="4.4" height="4.4" fill="#c8183c"/>
<rect x="349.9" y="372.6" width="4.4" height="4.4" fill="#c8183c"/>
<rect x="354.2" y="377.4" width="4.4" height="4.4" fill="#c8183c"/>
<rect x="352.3" y="392.1" width="4.4" height="4.4" fill="#c8183c"/>
<line x1="350.0" y1="379.5" x2="359.0" y2="379.5" stroke="#3a3a3a" stroke-width="1.0"/>
<rect x="364.6" y="366.1" width="4.4" height="4.4" fill="#11579a"/>
<rect x="367.2" y="368.0" width="4.4" height="4.4" fill="#11579a"/>
<rect x="363.4" y="373.5" width="4.4" height="4.4" fill="#11579a"/>
<rect x="366.2" y="375.4" width="4.4" height="4.4" fill="#11579a"/>
<rect x="367.7" y="377.4" width="4.4" height="4.4" fill="#11579a"/>
<line x1="363.5" y1="374.5" x2="372.5" y2="374.5" stroke="#3a3a3a" stroke-width="1.0"/>
<rect x="377.1" y="374.8" width="4.4" height="4.4" fill="#33b34a"/>
<rect x="381.6" y="378.3" width="4.4" height="4.4" fill="#33b34a"/>
<rect x="378.8" y="384.6" width="4.4" height="4.4" fill="#33b34a"/>
<rect x="378.8" y="392.7" width="4.4" height="4.4" fill="#33b34a"/>
<line x1="376.9" y1="384.5" x2="385.9" y2="384.5" stroke="#3a3a3a" stroke-width="1.0"/>
<line x1="396.9" y1="398.5" x2="404.1" y2="398.5" stroke="#3a3a3a" stroke-width="1.0"/>
<circle cx="398" cy="390.6" r="2.05" fill="#fff" stroke="#c8183c" stroke-width="0.95"/>
<circle cx="402.9" cy="390.2" r="2.05" fill="#fff" stroke="#c8183c" stroke-width="0.95"/>
<circle cx="400.5" cy="393.8" r="2.05" fill="#fff" stroke="#c8183c" stroke-width="0.95"/>
<circle cx="400.5" cy="400.8" r="2.05" fill="#fff" stroke="#c8183c" stroke-width="0.95"/>
<circle cx="399.3" cy="403.5" r="2.05" fill="#fff" stroke="#c8183c" stroke-width="0.95"/>
<circle cx="401.7" cy="408.6" r="2.05" fill="#fff" stroke="#c8183c" stroke-width="0.95"/>
<circle cx="400.5" cy="413.8" r="2.05" fill="#fff" stroke="#c8183c" stroke-width="0.95"/>
<circle cx="400.5" cy="422.7" r="2.05" fill="#fff" stroke="#c8183c" stroke-width="0.95"/>
<line x1="413.5" y1="383" x2="413.5" y2="399.1" stroke="#11579a" stroke-width="1"/>
<line x1="411.3" y1="383.5" x2="416.3" y2="383.5" stroke="#11579a" stroke-width="1"/>
<line x1="411.3" y1="399.5" x2="416.3" y2="399.5" stroke="#11579a" stroke-width="1"/>
<line x1="410.2" y1="390.5" x2="417.40000000000003" y2="390.5" stroke="#3a3a3a" stroke-width="1.0"/>
<circle cx="411.9" cy="382.4" r="2.05" fill="#fff" stroke="#11579a" stroke-width="0.95"/>
<circle cx="414.8" cy="384.5" r="2.05" fill="#fff" stroke="#11579a" stroke-width="0.95"/>
<circle cx="416.4" cy="387.5" r="2.05" fill="#fff" stroke="#11579a" stroke-width="0.95"/>
<circle cx="413.8" cy="395.4" r="2.05" fill="#fff" stroke="#11579a" stroke-width="0.95"/>
<circle cx="413.8" cy="403.5" r="2.05" fill="#fff" stroke="#11579a" stroke-width="0.95"/>
<line x1="427.5" y1="399" x2="427.5" y2="412.5" stroke="#33b34a" stroke-width="1"/>
<line x1="425.2" y1="399.5" x2="430.2" y2="399.5" stroke="#33b34a" stroke-width="1"/>
<line x1="425.2" y1="412.5" x2="430.2" y2="412.5" stroke="#33b34a" stroke-width="1"/>
<line x1="424.09999999999997" y1="404.5" x2="431.3" y2="404.5" stroke="#3a3a3a" stroke-width="1.0"/>
<circle cx="427.7" cy="396.4" r="2.05" fill="#fff" stroke="#33b34a" stroke-width="0.95"/>
<circle cx="425.5" cy="401.5" r="2.05" fill="#fff" stroke="#33b34a" stroke-width="0.95"/>
<circle cx="430" cy="406.1" r="2.05" fill="#fff" stroke="#33b34a" stroke-width="0.95"/>
<circle cx="427.7" cy="417" r="2.05" fill="#fff" stroke="#33b34a" stroke-width="0.95"/>
<line x1="450.5" y1="375.4" x2="450.5" y2="394.1" stroke="#e27a8c" stroke-width="1"/>
<line x1="447.6" y1="375.5" x2="452.6" y2="375.5" stroke="#e27a8c" stroke-width="1"/>
<line x1="447.6" y1="394.5" x2="452.6" y2="394.5" stroke="#e27a8c" stroke-width="1"/>
<circle cx="450.1" cy="369.8" r="2.25" fill="#c8183c"/>
<circle cx="450.1" cy="380.1" r="2.25" fill="#c8183c"/>
<circle cx="447.8" cy="389.6" r="2.25" fill="#c8183c"/>
<circle cx="451.9" cy="392.5" r="2.25" fill="#c8183c"/>
<line x1="445.6" y1="384.5" x2="454.6" y2="384.5" stroke="#3a3a3a" stroke-width="1.0"/>
<circle cx="463.3" cy="368.9" r="2.25" fill="#11579a"/>
<circle cx="461.3" cy="376.3" r="2.25" fill="#11579a"/>
<circle cx="465.6" cy="378.3" r="2.25" fill="#11579a"/>
<line x1="459.0" y1="374.5" x2="468.0" y2="374.5" stroke="#3a3a3a" stroke-width="1.0"/>
<line x1="477.5" y1="394" x2="477.5" y2="410.2" stroke="#8fd69a" stroke-width="1"/>
<line x1="474.5" y1="394.5" x2="479.5" y2="394.5" stroke="#8fd69a" stroke-width="1"/>
<line x1="474.5" y1="410.5" x2="479.5" y2="410.5" stroke="#8fd69a" stroke-width="1"/>
<circle cx="474.2" cy="391.5" r="2.25" fill="#33b34a"/>
<circle cx="476.8" cy="389.6" r="2.25" fill="#33b34a"/>
<circle cx="479.4" cy="396.4" r="2.25" fill="#33b34a"/>
<circle cx="474.6" cy="402.1" r="2.25" fill="#33b34a"/>
<circle cx="479.4" cy="405.1" r="2.25" fill="#33b34a"/>
<circle cx="476.8" cy="416.3" r="2.25" fill="#33b34a"/>
<line x1="472.5" y1="400.5" x2="481.5" y2="400.5" stroke="#3a3a3a" stroke-width="1.0"/>
<text x="7" y="480.7" font-size="11.6" font-weight="bold" fill="#111">E</text>
<text x="90.5" y="480.7" font-size="9" text-anchor="middle" textLength="19.4" lengthAdjust="spacingAndGlyphs" fill="#111" stroke="#111" stroke-width="0.15">Male</text>
<text x="185.7" y="480.7" font-size="9" text-anchor="middle" textLength="29.3" lengthAdjust="spacingAndGlyphs" fill="#111" stroke="#111" stroke-width="0.15">Female</text>
<line x1="39.8" y1="599.5" x2="43.1" y2="599.5" stroke="#2a2a2a" stroke-width="1"/>
<line x1="135.5" y1="599.5" x2="138.8" y2="599.5" stroke="#2a2a2a" stroke-width="1"/>
<text x="37" y="602.0" font-size="8.4" text-anchor="end" textLength="15.8" lengthAdjust="spacingAndGlyphs" fill="#111">0.11</text>
<line x1="39.8" y1="575.5" x2="43.1" y2="575.5" stroke="#2a2a2a" stroke-width="1"/>
<line x1="135.5" y1="575.5" x2="138.8" y2="575.5" stroke="#2a2a2a" stroke-width="1"/>
<text x="37" y="578.7" font-size="8.4" text-anchor="end" textLength="15.8" lengthAdjust="spacingAndGlyphs" fill="#111">0.12</text>
<line x1="39.8" y1="552.5" x2="43.1" y2="552.5" stroke="#2a2a2a" stroke-width="1"/>
<line x1="135.5" y1="552.5" x2="138.8" y2="552.5" stroke="#2a2a2a" stroke-width="1"/>
<text x="37" y="555.4" font-size="8.4" text-anchor="end" textLength="15.8" lengthAdjust="spacingAndGlyphs" fill="#111">0.13</text>
<line x1="39.8" y1="529.5" x2="43.1" y2="529.5" stroke="#2a2a2a" stroke-width="1"/>
<line x1="135.5" y1="529.5" x2="138.8" y2="529.5" stroke="#2a2a2a" stroke-width="1"/>
<text x="37" y="532.1" font-size="8.4" text-anchor="end" textLength="15.8" lengthAdjust="spacingAndGlyphs" fill="#111">0.14</text>
<line x1="39.8" y1="506.5" x2="43.1" y2="506.5" stroke="#2a2a2a" stroke-width="1"/>
<line x1="135.5" y1="506.5" x2="138.8" y2="506.5" stroke="#2a2a2a" stroke-width="1"/>
<text x="37" y="508.80000000000007" font-size="8.4" text-anchor="end" textLength="15.8" lengthAdjust="spacingAndGlyphs" fill="#111">0.15</text>
<line x1="43.5" y1="505.7" x2="43.5" y2="599.7" stroke="#2a2a2a" stroke-width="1"/>
<line x1="138.5" y1="505.7" x2="138.5" y2="599.7" stroke="#2a2a2a" stroke-width="1"/>
<line x1="42.6" y1="599.5" x2="232.3" y2="599.5" stroke="#2a2a2a" stroke-width="1"/>
<line x1="90.5" y1="516.6" x2="90.5" y2="599.2" stroke="#2a2a2a" stroke-width="1"/>
<line x1="186.5" y1="516.4" x2="186.5" y2="599.2" stroke="#2a2a2a" stroke-width="1"/>
<line x1="66.5" y1="599.2" x2="66.5" y2="601.2" stroke="#2a2a2a" stroke-width="1"/>
<line x1="113.5" y1="599.2" x2="113.5" y2="601.2" stroke="#2a2a2a" stroke-width="1"/>
<line x1="160.5" y1="599.2" x2="160.5" y2="601.2" stroke="#2a2a2a" stroke-width="1"/>
<line x1="210.5" y1="599.2" x2="210.5" y2="601.2" stroke="#2a2a2a" stroke-width="1"/>
<text x="66.3" y="611.8" font-size="8.3" text-anchor="middle" textLength="17.3" lengthAdjust="spacingAndGlyphs" fill="#111">3MO</text>
<text x="113.3" y="611.8" font-size="8.3" text-anchor="middle" textLength="17.3" lengthAdjust="spacingAndGlyphs" fill="#111">5MO</text>
<text x="160.8" y="611.8" font-size="8.3" text-anchor="middle" textLength="17.3" lengthAdjust="spacingAndGlyphs" fill="#111">3MO</text>
<text x="210.1" y="611.8" font-size="8.3" text-anchor="middle" textLength="17.3" lengthAdjust="spacingAndGlyphs" fill="#111">5MO</text>
<text transform="translate(14.8,553.4) rotate(-90)" text-anchor="middle" font-size="8.8" textLength="72.7" lengthAdjust="spacingAndGlyphs" fill="#111" stroke="#111" stroke-width="0.2">Trabecular spacing (mm)</text>
<line x1="147.7" y1="512.5" x2="175.6" y2="512.5" stroke="#474747" stroke-width="1.0"/>
<polyline points="151.5,512.5 151.5,508.5 180.5,508.5 180.5,512.5" fill="none" stroke="#474747" stroke-width="1.0"/>
<circle cx="163.1" cy="502.7" r="1.25" fill="#1a1a1a"/>
<line x1="197.4" y1="507.5" x2="215" y2="507.5" stroke="#474747" stroke-width="1.0"/>
<polyline points="204.5,507.5 204.5,503.5 224.5,503.5 224.5,507.5" fill="none" stroke="#474747" stroke-width="1.0"/>
<circle cx="214.8" cy="498" r="1.25" fill="#1a1a1a"/>
<line x1="53.5" y1="534.7" x2="53.5" y2="575.9" stroke="#c8183c" stroke-width="1"/>
<line x1="50.8" y1="534.5" x2="55.8" y2="534.5" stroke="#c8183c" stroke-width="1"/>
<line x1="50.8" y1="575.5" x2="55.8" y2="575.5" stroke="#c8183c" stroke-width="1"/>
<line x1="48.8" y1="555.5" x2="57.8" y2="555.5" stroke="#3a3a3a" stroke-width="1.0"/>
<rect x="51.3" y="532.8" width="3.9" height="3.9" fill="#fff" stroke="#c8183c" stroke-width="0.95"/>
<rect x="51.3" y="543.9" width="3.9" height="3.9" fill="#fff" stroke="#c8183c" stroke-width="0.95"/>
<rect x="51.3" y="564.2" width="3.9" height="3.9" fill="#fff" stroke="#c8183c" stroke-width="0.95"/>
<rect x="51.3" y="573.9" width="3.9" height="3.9" fill="#fff" stroke="#c8183c" stroke-width="0.95"/>
<line x1="61.8" y1="582.5" x2="70.8" y2="582.5" stroke="#3a3a3a" stroke-width="1.0"/>
<rect x="62.5" y="574.4" width="3.9" height="3.9" fill="#fff" stroke="#11579a" stroke-width="0.95"/>
<rect x="66.5" y="578.0" width="3.9" height="3.9" fill="#fff" stroke="#11579a" stroke-width="0.95"/>
<rect x="64.0" y="583.3" width="3.9" height="3.9" fill="#fff" stroke="#11579a" stroke-width="0.95"/>
<rect x="66.3" y="587.2" width="3.9" height="3.9" fill="#fff" stroke="#11579a" stroke-width="0.95"/>
<line x1="79.5" y1="563" x2="79.5" y2="588" stroke="#33b34a" stroke-width="1"/>
<line x1="77.0" y1="563.5" x2="82.0" y2="563.5" stroke="#33b34a" stroke-width="1"/>
<line x1="77.0" y1="588.5" x2="82.0" y2="588.5" stroke="#33b34a" stroke-width="1"/>
<line x1="75.0" y1="576.5" x2="84.0" y2="576.5" stroke="#3a3a3a" stroke-width="1.0"/>
<rect x="77.0" y="555.5" width="3.9" height="3.9" fill="#fff" stroke="#33b34a" stroke-width="0.95"/>
<rect x="78.0" y="566.6" width="3.9" height="3.9" fill="#fff" stroke="#33b34a" stroke-width="0.95"/>
<rect x="79.0" y="569.5" width="3.9" height="3.9" fill="#fff" stroke="#33b34a" stroke-width="0.95"/>
<rect x="75.5" y="582.9" width="3.9" height="3.9" fill="#fff" stroke="#33b34a" stroke-width="0.95"/>
<rect x="79.5" y="587.2" width="3.9" height="3.9" fill="#fff" stroke="#33b34a" stroke-width="0.95"/>
<line x1="100.5" y1="537.6" x2="100.5" y2="575" stroke="#e27a8c" stroke-width="1"/>
<line x1="97.8" y1="537.5" x2="102.8" y2="537.5" stroke="#e27a8c" stroke-width="1"/>
<line x1="97.8" y1="575.5" x2="102.8" y2="575.5" stroke="#e27a8c" stroke-width="1"/>
<rect x="98.1" y="527.2" width="4.4" height="4.4" fill="#c8183c"/>
<rect x="96.1" y="558.9" width="4.4" height="4.4" fill="#c8183c"/>
<rect x="101.0" y="558.9" width="4.4" height="4.4" fill="#c8183c"/>
<rect x="98.1" y="572.5" width="4.4" height="4.4" fill="#c8183c"/>
<line x1="95.8" y1="557.5" x2="104.8" y2="557.5" stroke="#3a3a3a" stroke-width="1.0"/>
<line x1="113.5" y1="535" x2="113.5" y2="583.6" stroke="#6d9ccc" stroke-width="1"/>
<line x1="111.1" y1="535.5" x2="116.1" y2="535.5" stroke="#6d9ccc" stroke-width="1"/>
<line x1="111.1" y1="583.5" x2="116.1" y2="583.5" stroke="#6d9ccc" stroke-width="1"/>
<rect x="111.4" y="534.2" width="4.4" height="4.4" fill="#11579a"/>
<rect x="111.4" y="541.5" width="4.4" height="4.4" fill="#11579a"/>
<rect x="111.4" y="549.2" width="4.4" height="4.4" fill="#11579a"/>
<rect x="108.8" y="581.0" width="4.4" height="4.4" fill="#11579a"/>
<rect x="113.1" y="587.0" width="4.4" height="4.4" fill="#11579a"/>
<line x1="109.1" y1="561.5" x2="118.1" y2="561.5" stroke="#3a3a3a" stroke-width="1.0"/>
<line x1="126.5" y1="540" x2="126.5" y2="571.5" stroke="#8fd69a" stroke-width="1"/>
<line x1="124.1" y1="540.5" x2="129.1" y2="540.5" stroke="#8fd69a" stroke-width="1"/>
<line x1="124.1" y1="571.5" x2="129.1" y2="571.5" stroke="#8fd69a" stroke-width="1"/>
<rect x="124.4" y="537.8" width="4.4" height="4.4" fill="#33b34a"/>
<rect x="124.4" y="554.8" width="4.4" height="4.4" fill="#33b34a"/>
<rect x="124.4" y="560.8" width="4.4" height="4.4" fill="#33b34a"/>
<rect x="124.4" y="569.3" width="4.4" height="4.4" fill="#33b34a"/>
<line x1="122.1" y1="557.5" x2="131.1" y2="557.5" stroke="#3a3a3a" stroke-width="1.0"/>
<line x1="147.5" y1="522.6" x2="147.5" y2="538.8" stroke="#c8183c" stroke-width="1"/>
<line x1="145.0" y1="522.5" x2="150.0" y2="522.5" stroke="#c8183c" stroke-width="1"/>
<line x1="145.0" y1="538.5" x2="150.0" y2="538.5" stroke="#c8183c" stroke-width="1"/>
<line x1="143.9" y1="532.5" x2="151.1" y2="532.5" stroke="#3a3a3a" stroke-width="1.0"/>
<circle cx="147.5" cy="515.8" r="2.05" fill="#fff" stroke="#c8183c" stroke-width="0.95"/>
<circle cx="145" cy="530.4" r="2.05" fill="#fff" stroke="#c8183c" stroke-width="0.95"/>
<circle cx="149.2" cy="530.4" r="2.05" fill="#fff" stroke="#c8183c" stroke-width="0.95"/>
<circle cx="147.5" cy="533.5" r="2.05" fill="#fff" stroke="#c8183c" stroke-width="0.95"/>
<circle cx="147.5" cy="544.4" r="2.05" fill="#fff" stroke="#c8183c" stroke-width="0.95"/>
<line x1="160.5" y1="522" x2="160.5" y2="540" stroke="#11579a" stroke-width="1"/>
<line x1="158.0" y1="522.5" x2="163.0" y2="522.5" stroke="#11579a" stroke-width="1"/>
<line x1="158.0" y1="540.5" x2="163.0" y2="540.5" stroke="#11579a" stroke-width="1"/>
<line x1="156.9" y1="531.5" x2="164.1" y2="531.5" stroke="#3a3a3a" stroke-width="1.0"/>
<circle cx="160.5" cy="517.8" r="2.05" fill="#fff" stroke="#11579a" stroke-width="0.95"/>
<circle cx="158" cy="529.2" r="2.05" fill="#fff" stroke="#11579a" stroke-width="0.95"/>
<circle cx="163.2" cy="529.2" r="2.05" fill="#fff" stroke="#11579a" stroke-width="0.95"/>
<circle cx="160.5" cy="533.3" r="2.05" fill="#fff" stroke="#11579a" stroke-width="0.95"/>
<circle cx="159" cy="537.6" r="2.05" fill="#fff" stroke="#11579a" stroke-width="0.95"/>
<circle cx="162" cy="544.4" r="2.05" fill="#fff" stroke="#11579a" stroke-width="0.95"/>
<line x1="174.5" y1="549.7" x2="174.5" y2="570.3" stroke="#33b34a" stroke-width="1"/>
<line x1="172.1" y1="549.5" x2="177.1" y2="549.5" stroke="#33b34a" stroke-width="1"/>
<line x1="172.1" y1="570.5" x2="177.1" y2="570.5" stroke="#33b34a" stroke-width="1"/>
<line x1="171.0" y1="558.5" x2="178.2" y2="558.5" stroke="#3a3a3a" stroke-width="1.0"/>
<circle cx="174.6" cy="547.3" r="2.05" fill="#fff" stroke="#33b34a" stroke-width="0.95"/>
<circle cx="172" cy="554.6" r="2.05" fill="#fff" stroke="#33b34a" stroke-width="0.95"/>
<circle cx="176.5" cy="554.6" r="2.05" fill="#fff" stroke="#33b34a" stroke-width="0.95"/>
<circle cx="174" cy="561.4" r="2.05" fill="#fff" stroke="#33b34a" stroke-width="0.95"/>
<circle cx="174.6" cy="578" r="2.05" fill="#fff" stroke="#33b34a" stroke-width="0.95"/>
<line x1="196.5" y1="508" x2="196.5" y2="533.4" stroke="#e27a8c" stroke-width="1"/>
<line x1="194.3" y1="508.5" x2="199.3" y2="508.5" stroke="#e27a8c" stroke-width="1"/>
<line x1="194.3" y1="533.5" x2="199.3" y2="533.5" stroke="#e27a8c" stroke-width="1"/>
<circle cx="194.7" cy="508" r="2.25" fill="#c8183c"/>
<circle cx="197.4" cy="510" r="2.25" fill="#c8183c"/>
<circle cx="198.9" cy="511.8" r="2.25" fill="#c8183c"/>
<circle cx="196.8" cy="522.4" r="2.25" fill="#c8183c"/>
<circle cx="196.8" cy="541.8" r="2.25" fill="#c8183c"/>
<line x1="192.3" y1="518.5" x2="201.3" y2="518.5" stroke="#3a3a3a" stroke-width="1.0"/>
<line x1="210.5" y1="512.8" x2="210.5" y2="526" stroke="#6d9ccc" stroke-width="1"/>
<line x1="207.6" y1="512.5" x2="212.6" y2="512.5" stroke="#6d9ccc" stroke-width="1"/>
<line x1="207.6" y1="526.5" x2="212.6" y2="526.5" stroke="#6d9ccc" stroke-width="1"/>
<circle cx="210.1" cy="509.7" r="2.25" fill="#11579a"/>
<circle cx="208" cy="526" r="2.25" fill="#11579a"/>
<circle cx="212.8" cy="526" r="2.25" fill="#11579a"/>
<line x1="205.6" y1="520.5" x2="214.6" y2="520.5" stroke="#3a3a3a" stroke-width="1.0"/>
<line x1="223.5" y1="543" x2="223.5" y2="567.2" stroke="#8fd69a" stroke-width="1"/>
<line x1="221.4" y1="543.5" x2="226.4" y2="543.5" stroke="#8fd69a" stroke-width="1"/>
<line x1="221.4" y1="567.5" x2="226.4" y2="567.5" stroke="#8fd69a" stroke-width="1"/>
<circle cx="225.5" cy="542.9" r="2.25" fill="#33b34a"/>
<circle cx="221.3" cy="545.4" r="2.25" fill="#33b34a"/>
<circle cx="223.9" cy="550.3" r="2.25" fill="#33b34a"/>
<circle cx="225.5" cy="555.2" r="2.25" fill="#33b34a"/>
<circle cx="221.3" cy="569.3" r="2.25" fill="#33b34a"/>
<circle cx="225.5" cy="572.5" r="2.25" fill="#33b34a"/>
<line x1="219.4" y1="556.5" x2="228.4" y2="556.5" stroke="#3a3a3a" stroke-width="1.0"/>
<text x="258.5" y="480.6" font-size="11.6" font-weight="bold" fill="#111">F</text>
<text x="343.5" y="480.3" font-size="9" text-anchor="middle" textLength="19" lengthAdjust="spacingAndGlyphs" fill="#111" stroke="#111" stroke-width="0.15">Male</text>
<text x="438.5" y="480.6" font-size="9" text-anchor="middle" textLength="29" lengthAdjust="spacingAndGlyphs" fill="#111" stroke="#111" stroke-width="0.15">Female</text>
<line x1="292.3" y1="600.5" x2="296" y2="600.5" stroke="#2a2a2a" stroke-width="1"/>
<line x1="388.7" y1="600.5" x2="392.4" y2="600.5" stroke="#2a2a2a" stroke-width="1"/>
<text x="289.7" y="602.8" font-size="8.4" text-anchor="end" textLength="4.6" lengthAdjust="spacingAndGlyphs" fill="#111">0</text>
<line x1="292.3" y1="581.5" x2="296" y2="581.5" stroke="#2a2a2a" stroke-width="1"/>
<line x1="388.7" y1="581.5" x2="392.4" y2="581.5" stroke="#2a2a2a" stroke-width="1"/>
<text x="289.7" y="583.9" font-size="8.4" text-anchor="end" textLength="13.5" lengthAdjust="spacingAndGlyphs" fill="#111">100</text>
<line x1="292.3" y1="562.5" x2="296" y2="562.5" stroke="#2a2a2a" stroke-width="1"/>
<line x1="388.7" y1="562.5" x2="392.4" y2="562.5" stroke="#2a2a2a" stroke-width="1"/>
<text x="289.7" y="565.0" font-size="8.4" text-anchor="end" textLength="13.5" lengthAdjust="spacingAndGlyphs" fill="#111">200</text>
<line x1="292.3" y1="543.5" x2="296" y2="543.5" stroke="#2a2a2a" stroke-width="1"/>
<line x1="388.7" y1="543.5" x2="392.4" y2="543.5" stroke="#2a2a2a" stroke-width="1"/>
<text x="289.7" y="546.0999999999999" font-size="8.4" text-anchor="end" textLength="13.5" lengthAdjust="spacingAndGlyphs" fill="#111">300</text>
<line x1="292.3" y1="524.5" x2="296" y2="524.5" stroke="#2a2a2a" stroke-width="1"/>
<line x1="388.7" y1="524.5" x2="392.4" y2="524.5" stroke="#2a2a2a" stroke-width="1"/>
<text x="289.7" y="527.1999999999999" font-size="8.4" text-anchor="end" textLength="13.5" lengthAdjust="spacingAndGlyphs" fill="#111">400</text>
<line x1="292.3" y1="505.5" x2="296" y2="505.5" stroke="#2a2a2a" stroke-width="1"/>
<line x1="388.7" y1="505.5" x2="392.4" y2="505.5" stroke="#2a2a2a" stroke-width="1"/>
<text x="289.7" y="508.3" font-size="8.4" text-anchor="end" textLength="13.5" lengthAdjust="spacingAndGlyphs" fill="#111">500</text>
<line x1="296.5" y1="505" x2="296.5" y2="600.5" stroke="#2a2a2a" stroke-width="1"/>
<line x1="392.5" y1="505" x2="392.5" y2="600.5" stroke="#2a2a2a" stroke-width="1"/>
<line x1="295.5" y1="600.5" x2="485.6" y2="600.5" stroke="#2a2a2a" stroke-width="1"/>
<line x1="341.5" y1="505" x2="341.5" y2="600" stroke="#2a2a2a" stroke-width="1"/>
<line x1="438.5" y1="505" x2="438.5" y2="600" stroke="#2a2a2a" stroke-width="1"/>
<line x1="319.5" y1="600" x2="319.5" y2="602" stroke="#2a2a2a" stroke-width="1"/>
<line x1="366.5" y1="600" x2="366.5" y2="602" stroke="#2a2a2a" stroke-width="1"/>
<line x1="412.5" y1="600" x2="412.5" y2="602" stroke="#2a2a2a" stroke-width="1"/>
<line x1="462.5" y1="600" x2="462.5" y2="602" stroke="#2a2a2a" stroke-width="1"/>
<text x="319" y="612.1" font-size="8.3" text-anchor="middle" textLength="17.3" lengthAdjust="spacingAndGlyphs" fill="#111">3MO</text>
<text x="366" y="612.1" font-size="8.3" text-anchor="middle" textLength="17.3" lengthAdjust="spacingAndGlyphs" fill="#111">5MO</text>
<text x="412.5" y="612.1" font-size="8.3" text-anchor="middle" textLength="17.3" lengthAdjust="spacingAndGlyphs" fill="#111">3MO</text>
<text x="462.8" y="612.1" font-size="8.3" text-anchor="middle" textLength="17.3" lengthAdjust="spacingAndGlyphs" fill="#111">5MO</text>
<text transform="translate(265.6,552.1) rotate(-90)" text-anchor="middle" font-size="8.8" textLength="90.2" lengthAdjust="spacingAndGlyphs" fill="#111" stroke="#111" stroke-width="0.2">Connective density (1/mm ^3)</text>
<line x1="298.5" y1="519.5" x2="319.8" y2="519.5" stroke="#474747" stroke-width="1.0"/>
<polyline points="305.5,519.5 305.5,515.5 333.5,515.5 333.5,519.5" fill="none" stroke="#474747" stroke-width="1.0"/>
<circle cx="319" cy="509.8" r="1.25" fill="#1a1a1a"/>
<polyline points="317.5,507.5 317.5,502.5 370.5,502.5 370.5,506.5" fill="none" stroke="#474747" stroke-width="1.0"/>
<circle cx="344.5" cy="497.7" r="1.25" fill="#1a1a1a"/>
<polyline points="332.5,499.5 332.5,494.5 381.5,494.5 381.5,499.5" fill="none" stroke="#474747" stroke-width="1.0"/>
<circle cx="356.6" cy="489.2" r="1.25" fill="#1a1a1a"/>
<line x1="395.6" y1="535.5" x2="414.5" y2="535.5" stroke="#474747" stroke-width="1.0"/>
<polyline points="401.5,535.5 401.5,530.5 429.5,530.5 429.5,535.5" fill="none" stroke="#474747" stroke-width="1.0"/>
<circle cx="415.7" cy="524.4" r="1.25" fill="#1a1a1a"/>
<polyline points="413.5,509.5 413.5,502.5 463.5,502.5 463.5,509.5" fill="none" stroke="#474747" stroke-width="1.0"/>
<circle cx="438.6" cy="499" r="1.25" fill="#1a1a1a"/>
<polyline points="425.5,499.5 425.5,493.5 477.5,493.5 477.5,499.5" fill="none" stroke="#474747" stroke-width="1.0"/>
<circle cx="451.7" cy="488" r="1.25" fill="#1a1a1a"/>
<line x1="442.7" y1="540.5" x2="462.1" y2="540.5" stroke="#474747" stroke-width="1.0"/>
<polyline points="448.5,540.5 448.5,536.5 477.5,536.5 477.5,540.5" fill="none" stroke="#474747" stroke-width="1.0"/>
<circle cx="462.8" cy="530.4" r="1.25" fill="#1a1a1a"/>
<line x1="301.8" y1="554.5" x2="310.8" y2="554.5" stroke="#3a3a3a" stroke-width="1.0"/>
<rect x="304.2" y="543.8" width="3.9" height="3.9" fill="#fff" stroke="#c8183c" stroke-width="0.95"/>
<rect x="302.6" y="552.2" width="3.9" height="3.9" fill="#fff" stroke="#c8183c" stroke-width="0.95"/>
<rect x="304.6" y="555.6" width="3.9" height="3.9" fill="#fff" stroke="#c8183c" stroke-width="0.95"/>
<rect x="306.7" y="557.5" width="3.9" height="3.9" fill="#fff" stroke="#c8183c" stroke-width="0.95"/>
<line x1="314.5" y1="547.5" x2="323.5" y2="547.5" stroke="#3a3a3a" stroke-width="1.0"/>
<rect x="314.6" y="540.0" width="3.9" height="3.9" fill="#fff" stroke="#11579a" stroke-width="0.95"/>
<rect x="318.4" y="540.0" width="3.9" height="3.9" fill="#fff" stroke="#11579a" stroke-width="0.95"/>
<rect x="319.6" y="544.2" width="3.9" height="3.9" fill="#fff" stroke="#11579a" stroke-width="0.95"/>
<rect x="315.9" y="547.8" width="3.9" height="3.9" fill="#fff" stroke="#11579a" stroke-width="0.95"/>
<rect x="318.4" y="552.2" width="3.9" height="3.9" fill="#fff" stroke="#11579a" stroke-width="0.95"/>
<line x1="327.9" y1="527.5" x2="336.9" y2="527.5" stroke="#3a3a3a" stroke-width="1.0"/>
<rect x="328.1" y="521.2" width="3.9" height="3.9" fill="#fff" stroke="#33b34a" stroke-width="0.95"/>
<rect x="332.4" y="521.2" width="3.9" height="3.9" fill="#fff" stroke="#33b34a" stroke-width="0.95"/>
<rect x="330.4" y="525.5" width="3.9" height="3.9" fill="#fff" stroke="#33b34a" stroke-width="0.95"/>
<rect x="332.4" y="528.0" width="3.9" height="3.9" fill="#fff" stroke="#33b34a" stroke-width="0.95"/>
<rect x="330.9" y="532.5" width="3.9" height="3.9" fill="#fff" stroke="#33b34a" stroke-width="0.95"/>
<rect x="351.0" y="551.2" width="4.4" height="4.4" fill="#c8183c"/>
<rect x="349.3" y="557.3" width="4.4" height="4.4" fill="#c8183c"/>
<rect x="353.4" y="560.9" width="4.4" height="4.4" fill="#c8183c"/>
<rect x="351.0" y="567.5" width="4.4" height="4.4" fill="#c8183c"/>
<line x1="348.7" y1="562.5" x2="357.7" y2="562.5" stroke="#3a3a3a" stroke-width="1.0"/>
<rect x="364.3" y="559.8" width="4.4" height="4.4" fill="#11579a"/>
<rect x="364.3" y="562.6" width="4.4" height="4.4" fill="#11579a"/>
<rect x="361.8" y="565.8" width="4.4" height="4.4" fill="#11579a"/>
<rect x="366.8" y="565.8" width="4.4" height="4.4" fill="#11579a"/>
<line x1="362.0" y1="564.5" x2="371.0" y2="564.5" stroke="#3a3a3a" stroke-width="1.0"/>
<line x1="379.5" y1="547.4" x2="379.5" y2="560.7" stroke="#8fd69a" stroke-width="1"/>
<line x1="376.8" y1="547.5" x2="381.8" y2="547.5" stroke="#8fd69a" stroke-width="1"/>
<line x1="376.8" y1="560.5" x2="381.8" y2="560.5" stroke="#8fd69a" stroke-width="1"/>
<rect x="377.1" y="541.6" width="4.4" height="4.4" fill="#33b34a"/>
<rect x="377.1" y="554.4" width="4.4" height="4.4" fill="#33b34a"/>
<rect x="374.8" y="556.1" width="4.4" height="4.4" fill="#33b34a"/>
<rect x="379.3" y="561.4" width="4.4" height="4.4" fill="#33b34a"/>
<line x1="374.8" y1="556.5" x2="383.8" y2="556.5" stroke="#3a3a3a" stroke-width="1.0"/>
<line x1="396.79999999999995" y1="567.5" x2="404.0" y2="567.5" stroke="#3a3a3a" stroke-width="1.0"/>
<circle cx="400.4" cy="561.4" r="2.05" fill="#fff" stroke="#c8183c" stroke-width="0.95"/>
<circle cx="398.5" cy="564.3" r="2.05" fill="#fff" stroke="#c8183c" stroke-width="0.95"/>
<circle cx="400" cy="568" r="2.05" fill="#fff" stroke="#c8183c" stroke-width="0.95"/>
<circle cx="403.3" cy="570.4" r="2.05" fill="#fff" stroke="#c8183c" stroke-width="0.95"/>
<line x1="411.4" y1="559.5" x2="418.6" y2="559.5" stroke="#3a3a3a" stroke-width="1.0"/>
<circle cx="415" cy="549.8" r="2.05" fill="#fff" stroke="#11579a" stroke-width="0.95"/>
<circle cx="415" cy="555.1" r="2.05" fill="#fff" stroke="#11579a" stroke-width="0.95"/>
<circle cx="412.5" cy="561.4" r="2.05" fill="#fff" stroke="#11579a" stroke-width="0.95"/>
<circle cx="417.5" cy="561.4" r="2.05" fill="#fff" stroke="#11579a" stroke-width="0.95"/>
<circle cx="415" cy="564.3" r="2.05" fill="#fff" stroke="#11579a" stroke-width="0.95"/>
<line x1="428.5" y1="540" x2="428.5" y2="552" stroke="#33b34a" stroke-width="1"/>
<line x1="425.8" y1="540.5" x2="430.8" y2="540.5" stroke="#33b34a" stroke-width="1"/>
<line x1="425.8" y1="552.5" x2="430.8" y2="552.5" stroke="#33b34a" stroke-width="1"/>
<line x1="424.7" y1="544.5" x2="431.90000000000003" y2="544.5" stroke="#3a3a3a" stroke-width="1.0"/>
<circle cx="428.3" cy="538.9" r="2.05" fill="#fff" stroke="#33b34a" stroke-width="0.95"/>
<circle cx="425.9" cy="542.5" r="2.05" fill="#fff" stroke="#33b34a" stroke-width="0.95"/>
<circle cx="430.7" cy="545.4" r="2.05" fill="#fff" stroke="#33b34a" stroke-width="0.95"/>
<circle cx="428.3" cy="549.3" r="2.05" fill="#fff" stroke="#33b34a" stroke-width="0.95"/>
<line x1="450.5" y1="566.3" x2="450.5" y2="585" stroke="#e27a8c" stroke-width="1"/>
<line x1="447.5" y1="566.5" x2="452.5" y2="566.5" stroke="#e27a8c" stroke-width="1"/>
<line x1="447.5" y1="585.5" x2="452.5" y2="585.5" stroke="#e27a8c" stroke-width="1"/>
<circle cx="450" cy="571.6" r="2.25" fill="#c8183c"/>
<circle cx="448.3" cy="573.6" r="2.25" fill="#c8183c"/>
<circle cx="451.2" cy="576.5" r="2.25" fill="#c8183c"/>
<circle cx="450" cy="577.7" r="2.25" fill="#c8183c"/>
<line x1="445.5" y1="576.5" x2="454.5" y2="576.5" stroke="#3a3a3a" stroke-width="1.0"/>
<circle cx="461.4" cy="567.3" r="2.25" fill="#11579a"/>
<circle cx="466.2" cy="567.3" r="2.25" fill="#11579a"/>
<circle cx="463.8" cy="571.6" r="2.25" fill="#11579a"/>
<circle cx="461.4" cy="577" r="2.25" fill="#11579a"/>
<circle cx="466.2" cy="577" r="2.25" fill="#11579a"/>
<line x1="459.3" y1="571.5" x2="468.3" y2="571.5" stroke="#3a3a3a" stroke-width="1.0"/>
<line x1="477.5" y1="546.2" x2="477.5" y2="564.3" stroke="#8fd69a" stroke-width="1"/>
<line x1="474.9" y1="546.5" x2="479.9" y2="546.5" stroke="#8fd69a" stroke-width="1"/>
<line x1="474.9" y1="564.5" x2="479.9" y2="564.5" stroke="#8fd69a" stroke-width="1"/>
<circle cx="478.3" cy="543" r="2.25" fill="#33b34a"/>
<circle cx="475.9" cy="546.9" r="2.25" fill="#33b34a"/>
<circle cx="475.5" cy="557" r="2.25" fill="#33b34a"/>
<circle cx="479.4" cy="557" r="2.25" fill="#33b34a"/>
<circle cx="479" cy="561.4" r="2.25" fill="#33b34a"/>
<circle cx="477.4" cy="569.2" r="2.25" fill="#33b34a"/>
<line x1="472.9" y1="557.5" x2="481.9" y2="557.5" stroke="#3a3a3a" stroke-width="1.0"/>
</svg>
<div id="frame"></div>
</body></html>
